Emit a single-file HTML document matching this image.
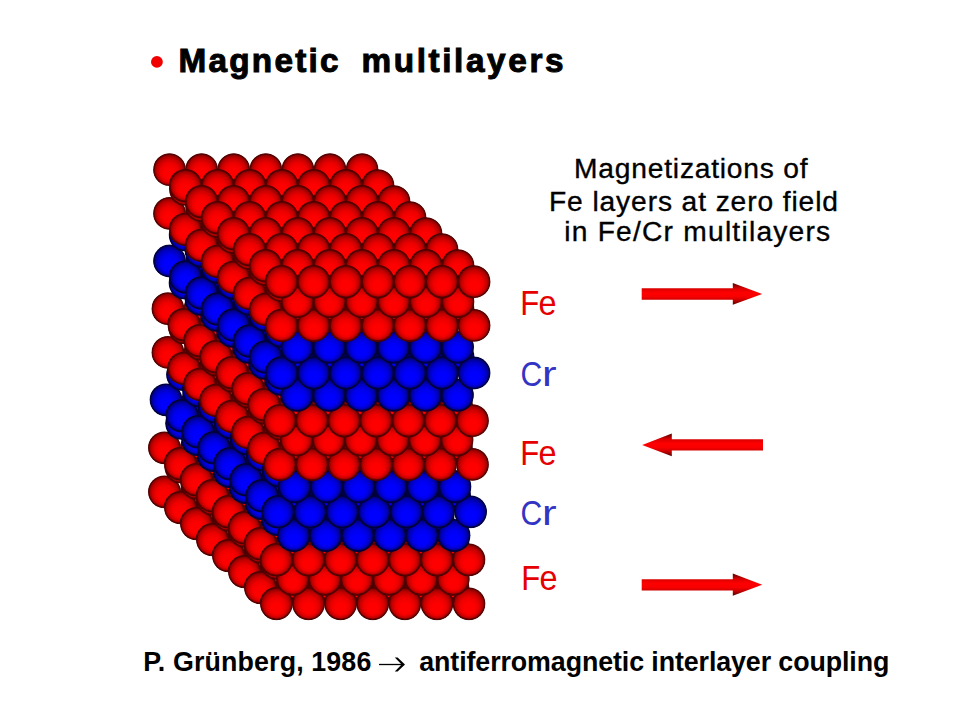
<!DOCTYPE html>
<html><head><meta charset="utf-8">
<style>
html,body{margin:0;padding:0;background:#fff;}
body{width:960px;height:720px;overflow:hidden;position:relative;}
svg{position:absolute;left:0;top:0;}
</style></head><body>
<svg width="960" height="720" viewBox="0 0 960 720">
<defs>
<radialGradient id="gr" cx="0.5" cy="0.5" r="0.5" fx="0.5" fy="0.7">
<stop offset="0" stop-color="#ff0000"/>
<stop offset="0.3" stop-color="#ff0000"/>
<stop offset="0.58" stop-color="#ee0000"/>
<stop offset="0.8" stop-color="#c60000"/>
<stop offset="0.93" stop-color="#980000"/>
<stop offset="1" stop-color="#700000"/>
</radialGradient>
<radialGradient id="gb" cx="0.5" cy="0.5" r="0.5" fx="0.5" fy="0.7">
<stop offset="0" stop-color="#0000ff"/>
<stop offset="0.3" stop-color="#0000ff"/>
<stop offset="0.58" stop-color="#0000ea"/>
<stop offset="0.8" stop-color="#0000bc"/>
<stop offset="0.93" stop-color="#000088"/>
<stop offset="1" stop-color="#000060"/>
</radialGradient>
</defs>
<clipPath id="sil">
<circle cx="164.4" cy="491.8" r="16.40"/>
<circle cx="196.5" cy="491.8" r="16.40"/>
<circle cx="228.6" cy="491.8" r="16.40"/>
<circle cx="260.7" cy="491.8" r="16.40"/>
<circle cx="292.8" cy="491.8" r="16.40"/>
<circle cx="324.9" cy="491.8" r="16.40"/>
<circle cx="357.0" cy="491.8" r="16.40"/>
<circle cx="180.4" cy="507.8" r="16.40"/>
<circle cx="212.5" cy="507.8" r="16.40"/>
<circle cx="244.6" cy="507.8" r="16.40"/>
<circle cx="276.7" cy="507.8" r="16.40"/>
<circle cx="308.8" cy="507.8" r="16.40"/>
<circle cx="340.9" cy="507.8" r="16.40"/>
<circle cx="373.0" cy="507.8" r="16.40"/>
<circle cx="196.4" cy="523.8" r="16.40"/>
<circle cx="228.5" cy="523.8" r="16.40"/>
<circle cx="260.6" cy="523.8" r="16.40"/>
<circle cx="292.7" cy="523.8" r="16.40"/>
<circle cx="324.8" cy="523.8" r="16.40"/>
<circle cx="356.9" cy="523.8" r="16.40"/>
<circle cx="389.0" cy="523.8" r="16.40"/>
<circle cx="212.4" cy="539.8" r="16.40"/>
<circle cx="244.5" cy="539.8" r="16.40"/>
<circle cx="276.6" cy="539.8" r="16.40"/>
<circle cx="308.7" cy="539.8" r="16.40"/>
<circle cx="340.8" cy="539.8" r="16.40"/>
<circle cx="372.9" cy="539.8" r="16.40"/>
<circle cx="405.0" cy="539.8" r="16.40"/>
<circle cx="228.4" cy="555.8" r="16.40"/>
<circle cx="260.5" cy="555.8" r="16.40"/>
<circle cx="292.6" cy="555.8" r="16.40"/>
<circle cx="324.7" cy="555.8" r="16.40"/>
<circle cx="356.8" cy="555.8" r="16.40"/>
<circle cx="388.9" cy="555.8" r="16.40"/>
<circle cx="421.0" cy="555.8" r="16.40"/>
<circle cx="244.4" cy="571.8" r="16.40"/>
<circle cx="276.5" cy="571.8" r="16.40"/>
<circle cx="308.6" cy="571.8" r="16.40"/>
<circle cx="340.7" cy="571.8" r="16.40"/>
<circle cx="372.8" cy="571.8" r="16.40"/>
<circle cx="404.9" cy="571.8" r="16.40"/>
<circle cx="437.0" cy="571.8" r="16.40"/>
<circle cx="260.4" cy="587.8" r="16.40"/>
<circle cx="292.5" cy="587.8" r="16.40"/>
<circle cx="324.6" cy="587.8" r="16.40"/>
<circle cx="356.7" cy="587.8" r="16.40"/>
<circle cx="388.8" cy="587.8" r="16.40"/>
<circle cx="420.9" cy="587.8" r="16.40"/>
<circle cx="453.0" cy="587.8" r="16.40"/>
<circle cx="276.4" cy="603.8" r="16.40"/>
<circle cx="308.5" cy="603.8" r="16.40"/>
<circle cx="340.6" cy="603.8" r="16.40"/>
<circle cx="372.7" cy="603.8" r="16.40"/>
<circle cx="404.8" cy="603.8" r="16.40"/>
<circle cx="436.9" cy="603.8" r="16.40"/>
<circle cx="469.0" cy="603.8" r="16.40"/>
<circle cx="180.8" cy="467.0" r="16.40"/>
<circle cx="212.9" cy="467.0" r="16.40"/>
<circle cx="245.0" cy="467.0" r="16.40"/>
<circle cx="277.1" cy="467.0" r="16.40"/>
<circle cx="309.2" cy="467.0" r="16.40"/>
<circle cx="341.3" cy="467.0" r="16.40"/>
<circle cx="196.8" cy="483.0" r="16.40"/>
<circle cx="228.9" cy="483.0" r="16.40"/>
<circle cx="261.0" cy="483.0" r="16.40"/>
<circle cx="293.1" cy="483.0" r="16.40"/>
<circle cx="325.2" cy="483.0" r="16.40"/>
<circle cx="357.3" cy="483.0" r="16.40"/>
<circle cx="212.8" cy="499.0" r="16.40"/>
<circle cx="244.9" cy="499.0" r="16.40"/>
<circle cx="277.0" cy="499.0" r="16.40"/>
<circle cx="309.1" cy="499.0" r="16.40"/>
<circle cx="341.2" cy="499.0" r="16.40"/>
<circle cx="373.3" cy="499.0" r="16.40"/>
<circle cx="228.8" cy="515.0" r="16.40"/>
<circle cx="260.9" cy="515.0" r="16.40"/>
<circle cx="293.0" cy="515.0" r="16.40"/>
<circle cx="325.1" cy="515.0" r="16.40"/>
<circle cx="357.2" cy="515.0" r="16.40"/>
<circle cx="389.3" cy="515.0" r="16.40"/>
<circle cx="244.8" cy="531.0" r="16.40"/>
<circle cx="276.9" cy="531.0" r="16.40"/>
<circle cx="309.0" cy="531.0" r="16.40"/>
<circle cx="341.1" cy="531.0" r="16.40"/>
<circle cx="373.2" cy="531.0" r="16.40"/>
<circle cx="405.3" cy="531.0" r="16.40"/>
<circle cx="260.8" cy="547.0" r="16.40"/>
<circle cx="292.9" cy="547.0" r="16.40"/>
<circle cx="325.0" cy="547.0" r="16.40"/>
<circle cx="357.1" cy="547.0" r="16.40"/>
<circle cx="389.2" cy="547.0" r="16.40"/>
<circle cx="421.3" cy="547.0" r="16.40"/>
<circle cx="276.8" cy="563.0" r="16.40"/>
<circle cx="308.9" cy="563.0" r="16.40"/>
<circle cx="341.0" cy="563.0" r="16.40"/>
<circle cx="373.1" cy="563.0" r="16.40"/>
<circle cx="405.2" cy="563.0" r="16.40"/>
<circle cx="437.3" cy="563.0" r="16.40"/>
<circle cx="292.8" cy="579.0" r="16.40"/>
<circle cx="324.9" cy="579.0" r="16.40"/>
<circle cx="357.0" cy="579.0" r="16.40"/>
<circle cx="389.1" cy="579.0" r="16.40"/>
<circle cx="421.2" cy="579.0" r="16.40"/>
<circle cx="453.3" cy="579.0" r="16.40"/>
<circle cx="164.4" cy="447.8" r="16.40"/>
<circle cx="196.5" cy="447.8" r="16.40"/>
<circle cx="228.6" cy="447.8" r="16.40"/>
<circle cx="260.7" cy="447.8" r="16.40"/>
<circle cx="292.8" cy="447.8" r="16.40"/>
<circle cx="324.9" cy="447.8" r="16.40"/>
<circle cx="357.0" cy="447.8" r="16.40"/>
<circle cx="180.4" cy="463.8" r="16.40"/>
<circle cx="212.5" cy="463.8" r="16.40"/>
<circle cx="244.6" cy="463.8" r="16.40"/>
<circle cx="276.7" cy="463.8" r="16.40"/>
<circle cx="308.8" cy="463.8" r="16.40"/>
<circle cx="340.9" cy="463.8" r="16.40"/>
<circle cx="373.0" cy="463.8" r="16.40"/>
<circle cx="196.4" cy="479.8" r="16.40"/>
<circle cx="228.5" cy="479.8" r="16.40"/>
<circle cx="260.6" cy="479.8" r="16.40"/>
<circle cx="292.7" cy="479.8" r="16.40"/>
<circle cx="324.8" cy="479.8" r="16.40"/>
<circle cx="356.9" cy="479.8" r="16.40"/>
<circle cx="389.0" cy="479.8" r="16.40"/>
<circle cx="212.4" cy="495.8" r="16.40"/>
<circle cx="244.5" cy="495.8" r="16.40"/>
<circle cx="276.6" cy="495.8" r="16.40"/>
<circle cx="308.7" cy="495.8" r="16.40"/>
<circle cx="340.8" cy="495.8" r="16.40"/>
<circle cx="372.9" cy="495.8" r="16.40"/>
<circle cx="405.0" cy="495.8" r="16.40"/>
<circle cx="228.4" cy="511.8" r="16.40"/>
<circle cx="260.5" cy="511.8" r="16.40"/>
<circle cx="292.6" cy="511.8" r="16.40"/>
<circle cx="324.7" cy="511.8" r="16.40"/>
<circle cx="356.8" cy="511.8" r="16.40"/>
<circle cx="388.9" cy="511.8" r="16.40"/>
<circle cx="421.0" cy="511.8" r="16.40"/>
<circle cx="244.4" cy="527.8" r="16.40"/>
<circle cx="276.5" cy="527.8" r="16.40"/>
<circle cx="308.6" cy="527.8" r="16.40"/>
<circle cx="340.7" cy="527.8" r="16.40"/>
<circle cx="372.8" cy="527.8" r="16.40"/>
<circle cx="404.9" cy="527.8" r="16.40"/>
<circle cx="437.0" cy="527.8" r="16.40"/>
<circle cx="260.4" cy="543.8" r="16.40"/>
<circle cx="292.5" cy="543.8" r="16.40"/>
<circle cx="324.6" cy="543.8" r="16.40"/>
<circle cx="356.7" cy="543.8" r="16.40"/>
<circle cx="388.8" cy="543.8" r="16.40"/>
<circle cx="420.9" cy="543.8" r="16.40"/>
<circle cx="453.0" cy="543.8" r="16.40"/>
<circle cx="276.4" cy="559.8" r="16.40"/>
<circle cx="308.5" cy="559.8" r="16.40"/>
<circle cx="340.6" cy="559.8" r="16.40"/>
<circle cx="372.7" cy="559.8" r="16.40"/>
<circle cx="404.8" cy="559.8" r="16.40"/>
<circle cx="436.9" cy="559.8" r="16.40"/>
<circle cx="469.0" cy="559.8" r="16.40"/>
<circle cx="181.6" cy="423.3" r="16.40"/>
<circle cx="213.7" cy="423.3" r="16.40"/>
<circle cx="245.8" cy="423.3" r="16.40"/>
<circle cx="277.9" cy="423.3" r="16.40"/>
<circle cx="310.0" cy="423.3" r="16.40"/>
<circle cx="342.1" cy="423.3" r="16.40"/>
<circle cx="197.6" cy="439.3" r="16.40"/>
<circle cx="229.7" cy="439.3" r="16.40"/>
<circle cx="261.8" cy="439.3" r="16.40"/>
<circle cx="293.9" cy="439.3" r="16.40"/>
<circle cx="326.0" cy="439.3" r="16.40"/>
<circle cx="358.1" cy="439.3" r="16.40"/>
<circle cx="213.6" cy="455.3" r="16.40"/>
<circle cx="245.7" cy="455.3" r="16.40"/>
<circle cx="277.8" cy="455.3" r="16.40"/>
<circle cx="309.9" cy="455.3" r="16.40"/>
<circle cx="342.0" cy="455.3" r="16.40"/>
<circle cx="374.1" cy="455.3" r="16.40"/>
<circle cx="229.6" cy="471.3" r="16.40"/>
<circle cx="261.7" cy="471.3" r="16.40"/>
<circle cx="293.8" cy="471.3" r="16.40"/>
<circle cx="325.9" cy="471.3" r="16.40"/>
<circle cx="358.0" cy="471.3" r="16.40"/>
<circle cx="390.1" cy="471.3" r="16.40"/>
<circle cx="245.6" cy="487.3" r="16.40"/>
<circle cx="277.7" cy="487.3" r="16.40"/>
<circle cx="309.8" cy="487.3" r="16.40"/>
<circle cx="341.9" cy="487.3" r="16.40"/>
<circle cx="374.0" cy="487.3" r="16.40"/>
<circle cx="406.1" cy="487.3" r="16.40"/>
<circle cx="261.6" cy="503.3" r="16.40"/>
<circle cx="293.7" cy="503.3" r="16.40"/>
<circle cx="325.8" cy="503.3" r="16.40"/>
<circle cx="357.9" cy="503.3" r="16.40"/>
<circle cx="390.0" cy="503.3" r="16.40"/>
<circle cx="422.1" cy="503.3" r="16.40"/>
<circle cx="277.6" cy="519.3" r="16.40"/>
<circle cx="309.7" cy="519.3" r="16.40"/>
<circle cx="341.8" cy="519.3" r="16.40"/>
<circle cx="373.9" cy="519.3" r="16.40"/>
<circle cx="406.0" cy="519.3" r="16.40"/>
<circle cx="438.1" cy="519.3" r="16.40"/>
<circle cx="293.6" cy="535.3" r="16.40"/>
<circle cx="325.7" cy="535.3" r="16.40"/>
<circle cx="357.8" cy="535.3" r="16.40"/>
<circle cx="389.9" cy="535.3" r="16.40"/>
<circle cx="422.0" cy="535.3" r="16.40"/>
<circle cx="454.1" cy="535.3" r="16.40"/>
<circle cx="166.0" cy="399.8" r="16.40"/>
<circle cx="198.1" cy="399.8" r="16.40"/>
<circle cx="230.2" cy="399.8" r="16.40"/>
<circle cx="262.3" cy="399.8" r="16.40"/>
<circle cx="294.4" cy="399.8" r="16.40"/>
<circle cx="326.5" cy="399.8" r="16.40"/>
<circle cx="358.6" cy="399.8" r="16.40"/>
<circle cx="182.0" cy="415.8" r="16.40"/>
<circle cx="214.1" cy="415.8" r="16.40"/>
<circle cx="246.2" cy="415.8" r="16.40"/>
<circle cx="278.3" cy="415.8" r="16.40"/>
<circle cx="310.4" cy="415.8" r="16.40"/>
<circle cx="342.5" cy="415.8" r="16.40"/>
<circle cx="374.6" cy="415.8" r="16.40"/>
<circle cx="198.0" cy="431.8" r="16.40"/>
<circle cx="230.1" cy="431.8" r="16.40"/>
<circle cx="262.2" cy="431.8" r="16.40"/>
<circle cx="294.3" cy="431.8" r="16.40"/>
<circle cx="326.4" cy="431.8" r="16.40"/>
<circle cx="358.5" cy="431.8" r="16.40"/>
<circle cx="390.6" cy="431.8" r="16.40"/>
<circle cx="214.0" cy="447.8" r="16.40"/>
<circle cx="246.1" cy="447.8" r="16.40"/>
<circle cx="278.2" cy="447.8" r="16.40"/>
<circle cx="310.3" cy="447.8" r="16.40"/>
<circle cx="342.4" cy="447.8" r="16.40"/>
<circle cx="374.5" cy="447.8" r="16.40"/>
<circle cx="406.6" cy="447.8" r="16.40"/>
<circle cx="230.0" cy="463.8" r="16.40"/>
<circle cx="262.1" cy="463.8" r="16.40"/>
<circle cx="294.2" cy="463.8" r="16.40"/>
<circle cx="326.3" cy="463.8" r="16.40"/>
<circle cx="358.4" cy="463.8" r="16.40"/>
<circle cx="390.5" cy="463.8" r="16.40"/>
<circle cx="422.6" cy="463.8" r="16.40"/>
<circle cx="246.0" cy="479.8" r="16.40"/>
<circle cx="278.1" cy="479.8" r="16.40"/>
<circle cx="310.2" cy="479.8" r="16.40"/>
<circle cx="342.3" cy="479.8" r="16.40"/>
<circle cx="374.4" cy="479.8" r="16.40"/>
<circle cx="406.5" cy="479.8" r="16.40"/>
<circle cx="438.6" cy="479.8" r="16.40"/>
<circle cx="262.0" cy="495.8" r="16.40"/>
<circle cx="294.1" cy="495.8" r="16.40"/>
<circle cx="326.2" cy="495.8" r="16.40"/>
<circle cx="358.3" cy="495.8" r="16.40"/>
<circle cx="390.4" cy="495.8" r="16.40"/>
<circle cx="422.5" cy="495.8" r="16.40"/>
<circle cx="454.6" cy="495.8" r="16.40"/>
<circle cx="278.0" cy="511.8" r="16.40"/>
<circle cx="310.1" cy="511.8" r="16.40"/>
<circle cx="342.2" cy="511.8" r="16.40"/>
<circle cx="374.3" cy="511.8" r="16.40"/>
<circle cx="406.4" cy="511.8" r="16.40"/>
<circle cx="438.5" cy="511.8" r="16.40"/>
<circle cx="470.6" cy="511.8" r="16.40"/>
<circle cx="182.5" cy="374.5" r="16.40"/>
<circle cx="214.6" cy="374.5" r="16.40"/>
<circle cx="246.7" cy="374.5" r="16.40"/>
<circle cx="278.8" cy="374.5" r="16.40"/>
<circle cx="310.9" cy="374.5" r="16.40"/>
<circle cx="343.0" cy="374.5" r="16.40"/>
<circle cx="198.5" cy="390.5" r="16.40"/>
<circle cx="230.6" cy="390.5" r="16.40"/>
<circle cx="262.7" cy="390.5" r="16.40"/>
<circle cx="294.8" cy="390.5" r="16.40"/>
<circle cx="326.9" cy="390.5" r="16.40"/>
<circle cx="359.0" cy="390.5" r="16.40"/>
<circle cx="214.5" cy="406.5" r="16.40"/>
<circle cx="246.6" cy="406.5" r="16.40"/>
<circle cx="278.7" cy="406.5" r="16.40"/>
<circle cx="310.8" cy="406.5" r="16.40"/>
<circle cx="342.9" cy="406.5" r="16.40"/>
<circle cx="375.0" cy="406.5" r="16.40"/>
<circle cx="230.5" cy="422.5" r="16.40"/>
<circle cx="262.6" cy="422.5" r="16.40"/>
<circle cx="294.7" cy="422.5" r="16.40"/>
<circle cx="326.8" cy="422.5" r="16.40"/>
<circle cx="358.9" cy="422.5" r="16.40"/>
<circle cx="391.0" cy="422.5" r="16.40"/>
<circle cx="246.5" cy="438.5" r="16.40"/>
<circle cx="278.6" cy="438.5" r="16.40"/>
<circle cx="310.7" cy="438.5" r="16.40"/>
<circle cx="342.8" cy="438.5" r="16.40"/>
<circle cx="374.9" cy="438.5" r="16.40"/>
<circle cx="407.0" cy="438.5" r="16.40"/>
<circle cx="262.5" cy="454.5" r="16.40"/>
<circle cx="294.6" cy="454.5" r="16.40"/>
<circle cx="326.7" cy="454.5" r="16.40"/>
<circle cx="358.8" cy="454.5" r="16.40"/>
<circle cx="390.9" cy="454.5" r="16.40"/>
<circle cx="423.0" cy="454.5" r="16.40"/>
<circle cx="278.5" cy="470.5" r="16.40"/>
<circle cx="310.6" cy="470.5" r="16.40"/>
<circle cx="342.7" cy="470.5" r="16.40"/>
<circle cx="374.8" cy="470.5" r="16.40"/>
<circle cx="406.9" cy="470.5" r="16.40"/>
<circle cx="439.0" cy="470.5" r="16.40"/>
<circle cx="294.5" cy="486.5" r="16.40"/>
<circle cx="326.6" cy="486.5" r="16.40"/>
<circle cx="358.7" cy="486.5" r="16.40"/>
<circle cx="390.8" cy="486.5" r="16.40"/>
<circle cx="422.9" cy="486.5" r="16.40"/>
<circle cx="455.0" cy="486.5" r="16.40"/>
<circle cx="167.9" cy="352.4" r="16.40"/>
<circle cx="200.0" cy="352.4" r="16.40"/>
<circle cx="232.1" cy="352.4" r="16.40"/>
<circle cx="264.2" cy="352.4" r="16.40"/>
<circle cx="296.3" cy="352.4" r="16.40"/>
<circle cx="328.4" cy="352.4" r="16.40"/>
<circle cx="360.5" cy="352.4" r="16.40"/>
<circle cx="183.9" cy="368.4" r="16.40"/>
<circle cx="216.0" cy="368.4" r="16.40"/>
<circle cx="248.1" cy="368.4" r="16.40"/>
<circle cx="280.2" cy="368.4" r="16.40"/>
<circle cx="312.3" cy="368.4" r="16.40"/>
<circle cx="344.4" cy="368.4" r="16.40"/>
<circle cx="376.5" cy="368.4" r="16.40"/>
<circle cx="199.9" cy="384.4" r="16.40"/>
<circle cx="232.0" cy="384.4" r="16.40"/>
<circle cx="264.1" cy="384.4" r="16.40"/>
<circle cx="296.2" cy="384.4" r="16.40"/>
<circle cx="328.3" cy="384.4" r="16.40"/>
<circle cx="360.4" cy="384.4" r="16.40"/>
<circle cx="392.5" cy="384.4" r="16.40"/>
<circle cx="215.9" cy="400.4" r="16.40"/>
<circle cx="248.0" cy="400.4" r="16.40"/>
<circle cx="280.1" cy="400.4" r="16.40"/>
<circle cx="312.2" cy="400.4" r="16.40"/>
<circle cx="344.3" cy="400.4" r="16.40"/>
<circle cx="376.4" cy="400.4" r="16.40"/>
<circle cx="408.5" cy="400.4" r="16.40"/>
<circle cx="231.9" cy="416.4" r="16.40"/>
<circle cx="264.0" cy="416.4" r="16.40"/>
<circle cx="296.1" cy="416.4" r="16.40"/>
<circle cx="328.2" cy="416.4" r="16.40"/>
<circle cx="360.3" cy="416.4" r="16.40"/>
<circle cx="392.4" cy="416.4" r="16.40"/>
<circle cx="424.5" cy="416.4" r="16.40"/>
<circle cx="247.9" cy="432.4" r="16.40"/>
<circle cx="280.0" cy="432.4" r="16.40"/>
<circle cx="312.1" cy="432.4" r="16.40"/>
<circle cx="344.2" cy="432.4" r="16.40"/>
<circle cx="376.3" cy="432.4" r="16.40"/>
<circle cx="408.4" cy="432.4" r="16.40"/>
<circle cx="440.5" cy="432.4" r="16.40"/>
<circle cx="263.9" cy="448.4" r="16.40"/>
<circle cx="296.0" cy="448.4" r="16.40"/>
<circle cx="328.1" cy="448.4" r="16.40"/>
<circle cx="360.2" cy="448.4" r="16.40"/>
<circle cx="392.3" cy="448.4" r="16.40"/>
<circle cx="424.4" cy="448.4" r="16.40"/>
<circle cx="456.5" cy="448.4" r="16.40"/>
<circle cx="279.9" cy="464.4" r="16.40"/>
<circle cx="312.0" cy="464.4" r="16.40"/>
<circle cx="344.1" cy="464.4" r="16.40"/>
<circle cx="376.2" cy="464.4" r="16.40"/>
<circle cx="408.3" cy="464.4" r="16.40"/>
<circle cx="440.4" cy="464.4" r="16.40"/>
<circle cx="472.5" cy="464.4" r="16.40"/>
<circle cx="184.6" cy="327.8" r="16.40"/>
<circle cx="216.7" cy="327.8" r="16.40"/>
<circle cx="248.8" cy="327.8" r="16.40"/>
<circle cx="280.9" cy="327.8" r="16.40"/>
<circle cx="313.0" cy="327.8" r="16.40"/>
<circle cx="345.1" cy="327.8" r="16.40"/>
<circle cx="200.6" cy="343.8" r="16.40"/>
<circle cx="232.7" cy="343.8" r="16.40"/>
<circle cx="264.8" cy="343.8" r="16.40"/>
<circle cx="296.9" cy="343.8" r="16.40"/>
<circle cx="329.0" cy="343.8" r="16.40"/>
<circle cx="361.1" cy="343.8" r="16.40"/>
<circle cx="216.6" cy="359.8" r="16.40"/>
<circle cx="248.7" cy="359.8" r="16.40"/>
<circle cx="280.8" cy="359.8" r="16.40"/>
<circle cx="312.9" cy="359.8" r="16.40"/>
<circle cx="345.0" cy="359.8" r="16.40"/>
<circle cx="377.1" cy="359.8" r="16.40"/>
<circle cx="232.6" cy="375.8" r="16.40"/>
<circle cx="264.7" cy="375.8" r="16.40"/>
<circle cx="296.8" cy="375.8" r="16.40"/>
<circle cx="328.9" cy="375.8" r="16.40"/>
<circle cx="361.0" cy="375.8" r="16.40"/>
<circle cx="393.1" cy="375.8" r="16.40"/>
<circle cx="248.6" cy="391.8" r="16.40"/>
<circle cx="280.7" cy="391.8" r="16.40"/>
<circle cx="312.8" cy="391.8" r="16.40"/>
<circle cx="344.9" cy="391.8" r="16.40"/>
<circle cx="377.0" cy="391.8" r="16.40"/>
<circle cx="409.1" cy="391.8" r="16.40"/>
<circle cx="264.6" cy="407.8" r="16.40"/>
<circle cx="296.7" cy="407.8" r="16.40"/>
<circle cx="328.8" cy="407.8" r="16.40"/>
<circle cx="360.9" cy="407.8" r="16.40"/>
<circle cx="393.0" cy="407.8" r="16.40"/>
<circle cx="425.1" cy="407.8" r="16.40"/>
<circle cx="280.6" cy="423.8" r="16.40"/>
<circle cx="312.7" cy="423.8" r="16.40"/>
<circle cx="344.8" cy="423.8" r="16.40"/>
<circle cx="376.9" cy="423.8" r="16.40"/>
<circle cx="409.0" cy="423.8" r="16.40"/>
<circle cx="441.1" cy="423.8" r="16.40"/>
<circle cx="296.6" cy="439.8" r="16.40"/>
<circle cx="328.7" cy="439.8" r="16.40"/>
<circle cx="360.8" cy="439.8" r="16.40"/>
<circle cx="392.9" cy="439.8" r="16.40"/>
<circle cx="425.0" cy="439.8" r="16.40"/>
<circle cx="457.1" cy="439.8" r="16.40"/>
<circle cx="167.9" cy="308.7" r="16.40"/>
<circle cx="200.0" cy="308.7" r="16.40"/>
<circle cx="232.1" cy="308.7" r="16.40"/>
<circle cx="264.2" cy="308.7" r="16.40"/>
<circle cx="296.3" cy="308.7" r="16.40"/>
<circle cx="328.4" cy="308.7" r="16.40"/>
<circle cx="360.5" cy="308.7" r="16.40"/>
<circle cx="183.9" cy="324.7" r="16.40"/>
<circle cx="216.0" cy="324.7" r="16.40"/>
<circle cx="248.1" cy="324.7" r="16.40"/>
<circle cx="280.2" cy="324.7" r="16.40"/>
<circle cx="312.3" cy="324.7" r="16.40"/>
<circle cx="344.4" cy="324.7" r="16.40"/>
<circle cx="376.5" cy="324.7" r="16.40"/>
<circle cx="199.9" cy="340.7" r="16.40"/>
<circle cx="232.0" cy="340.7" r="16.40"/>
<circle cx="264.1" cy="340.7" r="16.40"/>
<circle cx="296.2" cy="340.7" r="16.40"/>
<circle cx="328.3" cy="340.7" r="16.40"/>
<circle cx="360.4" cy="340.7" r="16.40"/>
<circle cx="392.5" cy="340.7" r="16.40"/>
<circle cx="215.9" cy="356.7" r="16.40"/>
<circle cx="248.0" cy="356.7" r="16.40"/>
<circle cx="280.1" cy="356.7" r="16.40"/>
<circle cx="312.2" cy="356.7" r="16.40"/>
<circle cx="344.3" cy="356.7" r="16.40"/>
<circle cx="376.4" cy="356.7" r="16.40"/>
<circle cx="408.5" cy="356.7" r="16.40"/>
<circle cx="231.9" cy="372.7" r="16.40"/>
<circle cx="264.0" cy="372.7" r="16.40"/>
<circle cx="296.1" cy="372.7" r="16.40"/>
<circle cx="328.2" cy="372.7" r="16.40"/>
<circle cx="360.3" cy="372.7" r="16.40"/>
<circle cx="392.4" cy="372.7" r="16.40"/>
<circle cx="424.5" cy="372.7" r="16.40"/>
<circle cx="247.9" cy="388.7" r="16.40"/>
<circle cx="280.0" cy="388.7" r="16.40"/>
<circle cx="312.1" cy="388.7" r="16.40"/>
<circle cx="344.2" cy="388.7" r="16.40"/>
<circle cx="376.3" cy="388.7" r="16.40"/>
<circle cx="408.4" cy="388.7" r="16.40"/>
<circle cx="440.5" cy="388.7" r="16.40"/>
<circle cx="263.9" cy="404.7" r="16.40"/>
<circle cx="296.0" cy="404.7" r="16.40"/>
<circle cx="328.1" cy="404.7" r="16.40"/>
<circle cx="360.2" cy="404.7" r="16.40"/>
<circle cx="392.3" cy="404.7" r="16.40"/>
<circle cx="424.4" cy="404.7" r="16.40"/>
<circle cx="456.5" cy="404.7" r="16.40"/>
<circle cx="279.9" cy="420.7" r="16.40"/>
<circle cx="312.0" cy="420.7" r="16.40"/>
<circle cx="344.1" cy="420.7" r="16.40"/>
<circle cx="376.2" cy="420.7" r="16.40"/>
<circle cx="408.3" cy="420.7" r="16.40"/>
<circle cx="440.4" cy="420.7" r="16.40"/>
<circle cx="472.5" cy="420.7" r="16.40"/>
<circle cx="185.0" cy="283.1" r="16.40"/>
<circle cx="217.1" cy="283.1" r="16.40"/>
<circle cx="249.2" cy="283.1" r="16.40"/>
<circle cx="281.3" cy="283.1" r="16.40"/>
<circle cx="313.4" cy="283.1" r="16.40"/>
<circle cx="345.5" cy="283.1" r="16.40"/>
<circle cx="201.0" cy="299.1" r="16.40"/>
<circle cx="233.1" cy="299.1" r="16.40"/>
<circle cx="265.2" cy="299.1" r="16.40"/>
<circle cx="297.3" cy="299.1" r="16.40"/>
<circle cx="329.4" cy="299.1" r="16.40"/>
<circle cx="361.5" cy="299.1" r="16.40"/>
<circle cx="217.0" cy="315.1" r="16.40"/>
<circle cx="249.1" cy="315.1" r="16.40"/>
<circle cx="281.2" cy="315.1" r="16.40"/>
<circle cx="313.3" cy="315.1" r="16.40"/>
<circle cx="345.4" cy="315.1" r="16.40"/>
<circle cx="377.5" cy="315.1" r="16.40"/>
<circle cx="233.0" cy="331.1" r="16.40"/>
<circle cx="265.1" cy="331.1" r="16.40"/>
<circle cx="297.2" cy="331.1" r="16.40"/>
<circle cx="329.3" cy="331.1" r="16.40"/>
<circle cx="361.4" cy="331.1" r="16.40"/>
<circle cx="393.5" cy="331.1" r="16.40"/>
<circle cx="249.0" cy="347.1" r="16.40"/>
<circle cx="281.1" cy="347.1" r="16.40"/>
<circle cx="313.2" cy="347.1" r="16.40"/>
<circle cx="345.3" cy="347.1" r="16.40"/>
<circle cx="377.4" cy="347.1" r="16.40"/>
<circle cx="409.5" cy="347.1" r="16.40"/>
<circle cx="265.0" cy="363.1" r="16.40"/>
<circle cx="297.1" cy="363.1" r="16.40"/>
<circle cx="329.2" cy="363.1" r="16.40"/>
<circle cx="361.3" cy="363.1" r="16.40"/>
<circle cx="393.4" cy="363.1" r="16.40"/>
<circle cx="425.5" cy="363.1" r="16.40"/>
<circle cx="281.0" cy="379.1" r="16.40"/>
<circle cx="313.1" cy="379.1" r="16.40"/>
<circle cx="345.2" cy="379.1" r="16.40"/>
<circle cx="377.3" cy="379.1" r="16.40"/>
<circle cx="409.4" cy="379.1" r="16.40"/>
<circle cx="441.5" cy="379.1" r="16.40"/>
<circle cx="297.0" cy="395.1" r="16.40"/>
<circle cx="329.1" cy="395.1" r="16.40"/>
<circle cx="361.2" cy="395.1" r="16.40"/>
<circle cx="393.3" cy="395.1" r="16.40"/>
<circle cx="425.4" cy="395.1" r="16.40"/>
<circle cx="457.5" cy="395.1" r="16.40"/>
<circle cx="169.5" cy="261.0" r="16.40"/>
<circle cx="201.6" cy="261.0" r="16.40"/>
<circle cx="233.7" cy="261.0" r="16.40"/>
<circle cx="265.8" cy="261.0" r="16.40"/>
<circle cx="297.9" cy="261.0" r="16.40"/>
<circle cx="330.0" cy="261.0" r="16.40"/>
<circle cx="362.1" cy="261.0" r="16.40"/>
<circle cx="185.5" cy="277.0" r="16.40"/>
<circle cx="217.6" cy="277.0" r="16.40"/>
<circle cx="249.7" cy="277.0" r="16.40"/>
<circle cx="281.8" cy="277.0" r="16.40"/>
<circle cx="313.9" cy="277.0" r="16.40"/>
<circle cx="346.0" cy="277.0" r="16.40"/>
<circle cx="378.1" cy="277.0" r="16.40"/>
<circle cx="201.5" cy="293.0" r="16.40"/>
<circle cx="233.6" cy="293.0" r="16.40"/>
<circle cx="265.7" cy="293.0" r="16.40"/>
<circle cx="297.8" cy="293.0" r="16.40"/>
<circle cx="329.9" cy="293.0" r="16.40"/>
<circle cx="362.0" cy="293.0" r="16.40"/>
<circle cx="394.1" cy="293.0" r="16.40"/>
<circle cx="217.5" cy="309.0" r="16.40"/>
<circle cx="249.6" cy="309.0" r="16.40"/>
<circle cx="281.7" cy="309.0" r="16.40"/>
<circle cx="313.8" cy="309.0" r="16.40"/>
<circle cx="345.9" cy="309.0" r="16.40"/>
<circle cx="378.0" cy="309.0" r="16.40"/>
<circle cx="410.1" cy="309.0" r="16.40"/>
<circle cx="233.5" cy="325.0" r="16.40"/>
<circle cx="265.6" cy="325.0" r="16.40"/>
<circle cx="297.7" cy="325.0" r="16.40"/>
<circle cx="329.8" cy="325.0" r="16.40"/>
<circle cx="361.9" cy="325.0" r="16.40"/>
<circle cx="394.0" cy="325.0" r="16.40"/>
<circle cx="426.1" cy="325.0" r="16.40"/>
<circle cx="249.5" cy="341.0" r="16.40"/>
<circle cx="281.6" cy="341.0" r="16.40"/>
<circle cx="313.7" cy="341.0" r="16.40"/>
<circle cx="345.8" cy="341.0" r="16.40"/>
<circle cx="377.9" cy="341.0" r="16.40"/>
<circle cx="410.0" cy="341.0" r="16.40"/>
<circle cx="442.1" cy="341.0" r="16.40"/>
<circle cx="265.5" cy="357.0" r="16.40"/>
<circle cx="297.6" cy="357.0" r="16.40"/>
<circle cx="329.7" cy="357.0" r="16.40"/>
<circle cx="361.8" cy="357.0" r="16.40"/>
<circle cx="393.9" cy="357.0" r="16.40"/>
<circle cx="426.0" cy="357.0" r="16.40"/>
<circle cx="458.1" cy="357.0" r="16.40"/>
<circle cx="281.5" cy="373.0" r="16.40"/>
<circle cx="313.6" cy="373.0" r="16.40"/>
<circle cx="345.7" cy="373.0" r="16.40"/>
<circle cx="377.8" cy="373.0" r="16.40"/>
<circle cx="409.9" cy="373.0" r="16.40"/>
<circle cx="442.0" cy="373.0" r="16.40"/>
<circle cx="474.1" cy="373.0" r="16.40"/>
<circle cx="185.1" cy="235.0" r="16.40"/>
<circle cx="217.2" cy="235.0" r="16.40"/>
<circle cx="249.3" cy="235.0" r="16.40"/>
<circle cx="281.4" cy="235.0" r="16.40"/>
<circle cx="313.5" cy="235.0" r="16.40"/>
<circle cx="345.6" cy="235.0" r="16.40"/>
<circle cx="201.1" cy="251.0" r="16.40"/>
<circle cx="233.2" cy="251.0" r="16.40"/>
<circle cx="265.3" cy="251.0" r="16.40"/>
<circle cx="297.4" cy="251.0" r="16.40"/>
<circle cx="329.5" cy="251.0" r="16.40"/>
<circle cx="361.6" cy="251.0" r="16.40"/>
<circle cx="217.1" cy="267.0" r="16.40"/>
<circle cx="249.2" cy="267.0" r="16.40"/>
<circle cx="281.3" cy="267.0" r="16.40"/>
<circle cx="313.4" cy="267.0" r="16.40"/>
<circle cx="345.5" cy="267.0" r="16.40"/>
<circle cx="377.6" cy="267.0" r="16.40"/>
<circle cx="233.1" cy="283.0" r="16.40"/>
<circle cx="265.2" cy="283.0" r="16.40"/>
<circle cx="297.3" cy="283.0" r="16.40"/>
<circle cx="329.4" cy="283.0" r="16.40"/>
<circle cx="361.5" cy="283.0" r="16.40"/>
<circle cx="393.6" cy="283.0" r="16.40"/>
<circle cx="249.1" cy="299.0" r="16.40"/>
<circle cx="281.2" cy="299.0" r="16.40"/>
<circle cx="313.3" cy="299.0" r="16.40"/>
<circle cx="345.4" cy="299.0" r="16.40"/>
<circle cx="377.5" cy="299.0" r="16.40"/>
<circle cx="409.6" cy="299.0" r="16.40"/>
<circle cx="265.1" cy="315.0" r="16.40"/>
<circle cx="297.2" cy="315.0" r="16.40"/>
<circle cx="329.3" cy="315.0" r="16.40"/>
<circle cx="361.4" cy="315.0" r="16.40"/>
<circle cx="393.5" cy="315.0" r="16.40"/>
<circle cx="425.6" cy="315.0" r="16.40"/>
<circle cx="281.1" cy="331.0" r="16.40"/>
<circle cx="313.2" cy="331.0" r="16.40"/>
<circle cx="345.3" cy="331.0" r="16.40"/>
<circle cx="377.4" cy="331.0" r="16.40"/>
<circle cx="409.5" cy="331.0" r="16.40"/>
<circle cx="441.6" cy="331.0" r="16.40"/>
<circle cx="297.1" cy="347.0" r="16.40"/>
<circle cx="329.2" cy="347.0" r="16.40"/>
<circle cx="361.3" cy="347.0" r="16.40"/>
<circle cx="393.4" cy="347.0" r="16.40"/>
<circle cx="425.5" cy="347.0" r="16.40"/>
<circle cx="457.6" cy="347.0" r="16.40"/>
<circle cx="169.5" cy="213.4" r="16.40"/>
<circle cx="201.6" cy="213.4" r="16.40"/>
<circle cx="233.7" cy="213.4" r="16.40"/>
<circle cx="265.8" cy="213.4" r="16.40"/>
<circle cx="297.9" cy="213.4" r="16.40"/>
<circle cx="330.0" cy="213.4" r="16.40"/>
<circle cx="362.1" cy="213.4" r="16.40"/>
<circle cx="185.5" cy="229.4" r="16.40"/>
<circle cx="217.6" cy="229.4" r="16.40"/>
<circle cx="249.7" cy="229.4" r="16.40"/>
<circle cx="281.8" cy="229.4" r="16.40"/>
<circle cx="313.9" cy="229.4" r="16.40"/>
<circle cx="346.0" cy="229.4" r="16.40"/>
<circle cx="378.1" cy="229.4" r="16.40"/>
<circle cx="201.5" cy="245.4" r="16.40"/>
<circle cx="233.6" cy="245.4" r="16.40"/>
<circle cx="265.7" cy="245.4" r="16.40"/>
<circle cx="297.8" cy="245.4" r="16.40"/>
<circle cx="329.9" cy="245.4" r="16.40"/>
<circle cx="362.0" cy="245.4" r="16.40"/>
<circle cx="394.1" cy="245.4" r="16.40"/>
<circle cx="217.5" cy="261.4" r="16.40"/>
<circle cx="249.6" cy="261.4" r="16.40"/>
<circle cx="281.7" cy="261.4" r="16.40"/>
<circle cx="313.8" cy="261.4" r="16.40"/>
<circle cx="345.9" cy="261.4" r="16.40"/>
<circle cx="378.0" cy="261.4" r="16.40"/>
<circle cx="410.1" cy="261.4" r="16.40"/>
<circle cx="233.5" cy="277.4" r="16.40"/>
<circle cx="265.6" cy="277.4" r="16.40"/>
<circle cx="297.7" cy="277.4" r="16.40"/>
<circle cx="329.8" cy="277.4" r="16.40"/>
<circle cx="361.9" cy="277.4" r="16.40"/>
<circle cx="394.0" cy="277.4" r="16.40"/>
<circle cx="426.1" cy="277.4" r="16.40"/>
<circle cx="249.5" cy="293.4" r="16.40"/>
<circle cx="281.6" cy="293.4" r="16.40"/>
<circle cx="313.7" cy="293.4" r="16.40"/>
<circle cx="345.8" cy="293.4" r="16.40"/>
<circle cx="377.9" cy="293.4" r="16.40"/>
<circle cx="410.0" cy="293.4" r="16.40"/>
<circle cx="442.1" cy="293.4" r="16.40"/>
<circle cx="265.5" cy="309.4" r="16.40"/>
<circle cx="297.6" cy="309.4" r="16.40"/>
<circle cx="329.7" cy="309.4" r="16.40"/>
<circle cx="361.8" cy="309.4" r="16.40"/>
<circle cx="393.9" cy="309.4" r="16.40"/>
<circle cx="426.0" cy="309.4" r="16.40"/>
<circle cx="458.1" cy="309.4" r="16.40"/>
<circle cx="281.5" cy="325.4" r="16.40"/>
<circle cx="313.6" cy="325.4" r="16.40"/>
<circle cx="345.7" cy="325.4" r="16.40"/>
<circle cx="377.8" cy="325.4" r="16.40"/>
<circle cx="409.9" cy="325.4" r="16.40"/>
<circle cx="442.0" cy="325.4" r="16.40"/>
<circle cx="474.1" cy="325.4" r="16.40"/>
<circle cx="185.5" cy="189.4" r="16.40"/>
<circle cx="217.6" cy="189.4" r="16.40"/>
<circle cx="249.7" cy="189.4" r="16.40"/>
<circle cx="281.8" cy="189.4" r="16.40"/>
<circle cx="313.9" cy="189.4" r="16.40"/>
<circle cx="346.0" cy="189.4" r="16.40"/>
<circle cx="201.5" cy="205.4" r="16.40"/>
<circle cx="233.6" cy="205.4" r="16.40"/>
<circle cx="265.7" cy="205.4" r="16.40"/>
<circle cx="297.8" cy="205.4" r="16.40"/>
<circle cx="329.9" cy="205.4" r="16.40"/>
<circle cx="362.0" cy="205.4" r="16.40"/>
<circle cx="217.5" cy="221.4" r="16.40"/>
<circle cx="249.6" cy="221.4" r="16.40"/>
<circle cx="281.7" cy="221.4" r="16.40"/>
<circle cx="313.8" cy="221.4" r="16.40"/>
<circle cx="345.9" cy="221.4" r="16.40"/>
<circle cx="378.0" cy="221.4" r="16.40"/>
<circle cx="233.5" cy="237.4" r="16.40"/>
<circle cx="265.6" cy="237.4" r="16.40"/>
<circle cx="297.7" cy="237.4" r="16.40"/>
<circle cx="329.8" cy="237.4" r="16.40"/>
<circle cx="361.9" cy="237.4" r="16.40"/>
<circle cx="394.0" cy="237.4" r="16.40"/>
<circle cx="249.5" cy="253.4" r="16.40"/>
<circle cx="281.6" cy="253.4" r="16.40"/>
<circle cx="313.7" cy="253.4" r="16.40"/>
<circle cx="345.8" cy="253.4" r="16.40"/>
<circle cx="377.9" cy="253.4" r="16.40"/>
<circle cx="410.0" cy="253.4" r="16.40"/>
<circle cx="265.5" cy="269.4" r="16.40"/>
<circle cx="297.6" cy="269.4" r="16.40"/>
<circle cx="329.7" cy="269.4" r="16.40"/>
<circle cx="361.8" cy="269.4" r="16.40"/>
<circle cx="393.9" cy="269.4" r="16.40"/>
<circle cx="426.0" cy="269.4" r="16.40"/>
<circle cx="281.5" cy="285.4" r="16.40"/>
<circle cx="313.6" cy="285.4" r="16.40"/>
<circle cx="345.7" cy="285.4" r="16.40"/>
<circle cx="377.8" cy="285.4" r="16.40"/>
<circle cx="409.9" cy="285.4" r="16.40"/>
<circle cx="442.0" cy="285.4" r="16.40"/>
<circle cx="297.5" cy="301.4" r="16.40"/>
<circle cx="329.6" cy="301.4" r="16.40"/>
<circle cx="361.7" cy="301.4" r="16.40"/>
<circle cx="393.8" cy="301.4" r="16.40"/>
<circle cx="425.9" cy="301.4" r="16.40"/>
<circle cx="458.0" cy="301.4" r="16.40"/>
<circle cx="169.5" cy="169.7" r="16.40"/>
<circle cx="201.6" cy="169.7" r="16.40"/>
<circle cx="233.7" cy="169.7" r="16.40"/>
<circle cx="265.8" cy="169.7" r="16.40"/>
<circle cx="297.9" cy="169.7" r="16.40"/>
<circle cx="330.0" cy="169.7" r="16.40"/>
<circle cx="362.1" cy="169.7" r="16.40"/>
<circle cx="185.5" cy="185.7" r="16.40"/>
<circle cx="217.6" cy="185.7" r="16.40"/>
<circle cx="249.7" cy="185.7" r="16.40"/>
<circle cx="281.8" cy="185.7" r="16.40"/>
<circle cx="313.9" cy="185.7" r="16.40"/>
<circle cx="346.0" cy="185.7" r="16.40"/>
<circle cx="378.1" cy="185.7" r="16.40"/>
<circle cx="201.5" cy="201.7" r="16.40"/>
<circle cx="233.6" cy="201.7" r="16.40"/>
<circle cx="265.7" cy="201.7" r="16.40"/>
<circle cx="297.8" cy="201.7" r="16.40"/>
<circle cx="329.9" cy="201.7" r="16.40"/>
<circle cx="362.0" cy="201.7" r="16.40"/>
<circle cx="394.1" cy="201.7" r="16.40"/>
<circle cx="217.5" cy="217.7" r="16.40"/>
<circle cx="249.6" cy="217.7" r="16.40"/>
<circle cx="281.7" cy="217.7" r="16.40"/>
<circle cx="313.8" cy="217.7" r="16.40"/>
<circle cx="345.9" cy="217.7" r="16.40"/>
<circle cx="378.0" cy="217.7" r="16.40"/>
<circle cx="410.1" cy="217.7" r="16.40"/>
<circle cx="233.5" cy="233.7" r="16.40"/>
<circle cx="265.6" cy="233.7" r="16.40"/>
<circle cx="297.7" cy="233.7" r="16.40"/>
<circle cx="329.8" cy="233.7" r="16.40"/>
<circle cx="361.9" cy="233.7" r="16.40"/>
<circle cx="394.0" cy="233.7" r="16.40"/>
<circle cx="426.1" cy="233.7" r="16.40"/>
<circle cx="249.5" cy="249.7" r="16.40"/>
<circle cx="281.6" cy="249.7" r="16.40"/>
<circle cx="313.7" cy="249.7" r="16.40"/>
<circle cx="345.8" cy="249.7" r="16.40"/>
<circle cx="377.9" cy="249.7" r="16.40"/>
<circle cx="410.0" cy="249.7" r="16.40"/>
<circle cx="442.1" cy="249.7" r="16.40"/>
<circle cx="265.5" cy="265.7" r="16.40"/>
<circle cx="297.6" cy="265.7" r="16.40"/>
<circle cx="329.7" cy="265.7" r="16.40"/>
<circle cx="361.8" cy="265.7" r="16.40"/>
<circle cx="393.9" cy="265.7" r="16.40"/>
<circle cx="426.0" cy="265.7" r="16.40"/>
<circle cx="458.1" cy="265.7" r="16.40"/>
<circle cx="281.5" cy="281.7" r="16.40"/>
<circle cx="313.6" cy="281.7" r="16.40"/>
<circle cx="345.7" cy="281.7" r="16.40"/>
<circle cx="377.8" cy="281.7" r="16.40"/>
<circle cx="409.9" cy="281.7" r="16.40"/>
<circle cx="442.0" cy="281.7" r="16.40"/>
<circle cx="474.1" cy="281.7" r="16.40"/>
</clipPath>
<g stroke-width="1.0" clip-path="url(#sil)">
<rect x="164.4" y="485.3" width="192.6" height="13.0" fill="#4a0000"/>
<circle cx="164.4" cy="491.8" r="16.75" fill="#4a0000" stroke="none"/>
<circle cx="164.4" cy="491.8" r="15.55" fill="url(#gr)" stroke="#580000"/>
<circle cx="196.5" cy="491.8" r="16.75" fill="#4a0000" stroke="none"/>
<circle cx="196.5" cy="491.8" r="15.55" fill="url(#gr)" stroke="#580000"/>
<circle cx="228.6" cy="491.8" r="16.75" fill="#4a0000" stroke="none"/>
<circle cx="228.6" cy="491.8" r="15.55" fill="url(#gr)" stroke="#580000"/>
<circle cx="260.7" cy="491.8" r="16.75" fill="#4a0000" stroke="none"/>
<circle cx="260.7" cy="491.8" r="15.55" fill="url(#gr)" stroke="#580000"/>
<circle cx="292.8" cy="491.8" r="16.75" fill="#4a0000" stroke="none"/>
<circle cx="292.8" cy="491.8" r="15.55" fill="url(#gr)" stroke="#580000"/>
<circle cx="324.9" cy="491.8" r="16.75" fill="#4a0000" stroke="none"/>
<circle cx="324.9" cy="491.8" r="15.55" fill="url(#gr)" stroke="#580000"/>
<circle cx="357.0" cy="491.8" r="16.75" fill="#4a0000" stroke="none"/>
<circle cx="357.0" cy="491.8" r="15.55" fill="url(#gr)" stroke="#580000"/>
<rect x="180.4" y="501.3" width="192.6" height="13.0" fill="#4a0000"/>
<circle cx="180.4" cy="507.8" r="16.75" fill="#4a0000" stroke="none"/>
<circle cx="180.4" cy="507.8" r="15.55" fill="url(#gr)" stroke="#580000"/>
<circle cx="212.5" cy="507.8" r="16.75" fill="#4a0000" stroke="none"/>
<circle cx="212.5" cy="507.8" r="15.55" fill="url(#gr)" stroke="#580000"/>
<circle cx="244.6" cy="507.8" r="16.75" fill="#4a0000" stroke="none"/>
<circle cx="244.6" cy="507.8" r="15.55" fill="url(#gr)" stroke="#580000"/>
<circle cx="276.7" cy="507.8" r="16.75" fill="#4a0000" stroke="none"/>
<circle cx="276.7" cy="507.8" r="15.55" fill="url(#gr)" stroke="#580000"/>
<circle cx="308.8" cy="507.8" r="16.75" fill="#4a0000" stroke="none"/>
<circle cx="308.8" cy="507.8" r="15.55" fill="url(#gr)" stroke="#580000"/>
<circle cx="340.9" cy="507.8" r="16.75" fill="#4a0000" stroke="none"/>
<circle cx="340.9" cy="507.8" r="15.55" fill="url(#gr)" stroke="#580000"/>
<circle cx="373.0" cy="507.8" r="16.75" fill="#4a0000" stroke="none"/>
<circle cx="373.0" cy="507.8" r="15.55" fill="url(#gr)" stroke="#580000"/>
<rect x="196.4" y="517.3" width="192.6" height="13.0" fill="#4a0000"/>
<circle cx="196.4" cy="523.8" r="16.75" fill="#4a0000" stroke="none"/>
<circle cx="196.4" cy="523.8" r="15.55" fill="url(#gr)" stroke="#580000"/>
<circle cx="228.5" cy="523.8" r="16.75" fill="#4a0000" stroke="none"/>
<circle cx="228.5" cy="523.8" r="15.55" fill="url(#gr)" stroke="#580000"/>
<circle cx="260.6" cy="523.8" r="16.75" fill="#4a0000" stroke="none"/>
<circle cx="260.6" cy="523.8" r="15.55" fill="url(#gr)" stroke="#580000"/>
<circle cx="292.7" cy="523.8" r="16.75" fill="#4a0000" stroke="none"/>
<circle cx="292.7" cy="523.8" r="15.55" fill="url(#gr)" stroke="#580000"/>
<circle cx="324.8" cy="523.8" r="16.75" fill="#4a0000" stroke="none"/>
<circle cx="324.8" cy="523.8" r="15.55" fill="url(#gr)" stroke="#580000"/>
<circle cx="356.9" cy="523.8" r="16.75" fill="#4a0000" stroke="none"/>
<circle cx="356.9" cy="523.8" r="15.55" fill="url(#gr)" stroke="#580000"/>
<circle cx="389.0" cy="523.8" r="16.75" fill="#4a0000" stroke="none"/>
<circle cx="389.0" cy="523.8" r="15.55" fill="url(#gr)" stroke="#580000"/>
<rect x="212.4" y="533.3" width="192.6" height="13.0" fill="#4a0000"/>
<circle cx="212.4" cy="539.8" r="16.75" fill="#4a0000" stroke="none"/>
<circle cx="212.4" cy="539.8" r="15.55" fill="url(#gr)" stroke="#580000"/>
<circle cx="244.5" cy="539.8" r="16.75" fill="#4a0000" stroke="none"/>
<circle cx="244.5" cy="539.8" r="15.55" fill="url(#gr)" stroke="#580000"/>
<circle cx="276.6" cy="539.8" r="16.75" fill="#4a0000" stroke="none"/>
<circle cx="276.6" cy="539.8" r="15.55" fill="url(#gr)" stroke="#580000"/>
<circle cx="308.7" cy="539.8" r="16.75" fill="#4a0000" stroke="none"/>
<circle cx="308.7" cy="539.8" r="15.55" fill="url(#gr)" stroke="#580000"/>
<circle cx="340.8" cy="539.8" r="16.75" fill="#4a0000" stroke="none"/>
<circle cx="340.8" cy="539.8" r="15.55" fill="url(#gr)" stroke="#580000"/>
<circle cx="372.9" cy="539.8" r="16.75" fill="#4a0000" stroke="none"/>
<circle cx="372.9" cy="539.8" r="15.55" fill="url(#gr)" stroke="#580000"/>
<circle cx="405.0" cy="539.8" r="16.75" fill="#4a0000" stroke="none"/>
<circle cx="405.0" cy="539.8" r="15.55" fill="url(#gr)" stroke="#580000"/>
<rect x="228.4" y="549.3" width="192.6" height="13.0" fill="#4a0000"/>
<circle cx="228.4" cy="555.8" r="16.75" fill="#4a0000" stroke="none"/>
<circle cx="228.4" cy="555.8" r="15.55" fill="url(#gr)" stroke="#580000"/>
<circle cx="260.5" cy="555.8" r="16.75" fill="#4a0000" stroke="none"/>
<circle cx="260.5" cy="555.8" r="15.55" fill="url(#gr)" stroke="#580000"/>
<circle cx="292.6" cy="555.8" r="16.75" fill="#4a0000" stroke="none"/>
<circle cx="292.6" cy="555.8" r="15.55" fill="url(#gr)" stroke="#580000"/>
<circle cx="324.7" cy="555.8" r="16.75" fill="#4a0000" stroke="none"/>
<circle cx="324.7" cy="555.8" r="15.55" fill="url(#gr)" stroke="#580000"/>
<circle cx="356.8" cy="555.8" r="16.75" fill="#4a0000" stroke="none"/>
<circle cx="356.8" cy="555.8" r="15.55" fill="url(#gr)" stroke="#580000"/>
<circle cx="388.9" cy="555.8" r="16.75" fill="#4a0000" stroke="none"/>
<circle cx="388.9" cy="555.8" r="15.55" fill="url(#gr)" stroke="#580000"/>
<circle cx="421.0" cy="555.8" r="16.75" fill="#4a0000" stroke="none"/>
<circle cx="421.0" cy="555.8" r="15.55" fill="url(#gr)" stroke="#580000"/>
<rect x="244.4" y="565.3" width="192.6" height="13.0" fill="#4a0000"/>
<circle cx="244.4" cy="571.8" r="16.75" fill="#4a0000" stroke="none"/>
<circle cx="244.4" cy="571.8" r="15.55" fill="url(#gr)" stroke="#580000"/>
<circle cx="276.5" cy="571.8" r="16.75" fill="#4a0000" stroke="none"/>
<circle cx="276.5" cy="571.8" r="15.55" fill="url(#gr)" stroke="#580000"/>
<circle cx="308.6" cy="571.8" r="16.75" fill="#4a0000" stroke="none"/>
<circle cx="308.6" cy="571.8" r="15.55" fill="url(#gr)" stroke="#580000"/>
<circle cx="340.7" cy="571.8" r="16.75" fill="#4a0000" stroke="none"/>
<circle cx="340.7" cy="571.8" r="15.55" fill="url(#gr)" stroke="#580000"/>
<circle cx="372.8" cy="571.8" r="16.75" fill="#4a0000" stroke="none"/>
<circle cx="372.8" cy="571.8" r="15.55" fill="url(#gr)" stroke="#580000"/>
<circle cx="404.9" cy="571.8" r="16.75" fill="#4a0000" stroke="none"/>
<circle cx="404.9" cy="571.8" r="15.55" fill="url(#gr)" stroke="#580000"/>
<circle cx="437.0" cy="571.8" r="16.75" fill="#4a0000" stroke="none"/>
<circle cx="437.0" cy="571.8" r="15.55" fill="url(#gr)" stroke="#580000"/>
<rect x="260.4" y="581.3" width="192.6" height="13.0" fill="#4a0000"/>
<circle cx="260.4" cy="587.8" r="16.75" fill="#4a0000" stroke="none"/>
<circle cx="260.4" cy="587.8" r="15.55" fill="url(#gr)" stroke="#580000"/>
<circle cx="292.5" cy="587.8" r="16.75" fill="#4a0000" stroke="none"/>
<circle cx="292.5" cy="587.8" r="15.55" fill="url(#gr)" stroke="#580000"/>
<circle cx="324.6" cy="587.8" r="16.75" fill="#4a0000" stroke="none"/>
<circle cx="324.6" cy="587.8" r="15.55" fill="url(#gr)" stroke="#580000"/>
<circle cx="356.7" cy="587.8" r="16.75" fill="#4a0000" stroke="none"/>
<circle cx="356.7" cy="587.8" r="15.55" fill="url(#gr)" stroke="#580000"/>
<circle cx="388.8" cy="587.8" r="16.75" fill="#4a0000" stroke="none"/>
<circle cx="388.8" cy="587.8" r="15.55" fill="url(#gr)" stroke="#580000"/>
<circle cx="420.9" cy="587.8" r="16.75" fill="#4a0000" stroke="none"/>
<circle cx="420.9" cy="587.8" r="15.55" fill="url(#gr)" stroke="#580000"/>
<circle cx="453.0" cy="587.8" r="16.75" fill="#4a0000" stroke="none"/>
<circle cx="453.0" cy="587.8" r="15.55" fill="url(#gr)" stroke="#580000"/>
<rect x="276.4" y="597.3" width="192.6" height="13.0" fill="#4a0000"/>
<circle cx="276.4" cy="603.8" r="16.75" fill="#4a0000" stroke="none"/>
<circle cx="276.4" cy="603.8" r="15.55" fill="url(#gr)" stroke="#580000"/>
<circle cx="308.5" cy="603.8" r="16.75" fill="#4a0000" stroke="none"/>
<circle cx="308.5" cy="603.8" r="15.55" fill="url(#gr)" stroke="#580000"/>
<circle cx="340.6" cy="603.8" r="16.75" fill="#4a0000" stroke="none"/>
<circle cx="340.6" cy="603.8" r="15.55" fill="url(#gr)" stroke="#580000"/>
<circle cx="372.7" cy="603.8" r="16.75" fill="#4a0000" stroke="none"/>
<circle cx="372.7" cy="603.8" r="15.55" fill="url(#gr)" stroke="#580000"/>
<circle cx="404.8" cy="603.8" r="16.75" fill="#4a0000" stroke="none"/>
<circle cx="404.8" cy="603.8" r="15.55" fill="url(#gr)" stroke="#580000"/>
<circle cx="436.9" cy="603.8" r="16.75" fill="#4a0000" stroke="none"/>
<circle cx="436.9" cy="603.8" r="15.55" fill="url(#gr)" stroke="#580000"/>
<circle cx="469.0" cy="603.8" r="16.75" fill="#4a0000" stroke="none"/>
<circle cx="469.0" cy="603.8" r="15.55" fill="url(#gr)" stroke="#580000"/>
<rect x="180.8" y="460.5" width="160.5" height="13.0" fill="#4a0000"/>
<circle cx="180.8" cy="467.0" r="16.75" fill="#4a0000" stroke="none"/>
<circle cx="180.8" cy="467.0" r="15.55" fill="url(#gr)" stroke="#580000"/>
<circle cx="212.9" cy="467.0" r="16.75" fill="#4a0000" stroke="none"/>
<circle cx="212.9" cy="467.0" r="15.55" fill="url(#gr)" stroke="#580000"/>
<circle cx="245.0" cy="467.0" r="16.75" fill="#4a0000" stroke="none"/>
<circle cx="245.0" cy="467.0" r="15.55" fill="url(#gr)" stroke="#580000"/>
<circle cx="277.1" cy="467.0" r="16.75" fill="#4a0000" stroke="none"/>
<circle cx="277.1" cy="467.0" r="15.55" fill="url(#gr)" stroke="#580000"/>
<circle cx="309.2" cy="467.0" r="16.75" fill="#4a0000" stroke="none"/>
<circle cx="309.2" cy="467.0" r="15.55" fill="url(#gr)" stroke="#580000"/>
<circle cx="341.3" cy="467.0" r="16.75" fill="#4a0000" stroke="none"/>
<circle cx="341.3" cy="467.0" r="15.55" fill="url(#gr)" stroke="#580000"/>
<rect x="196.8" y="476.5" width="160.5" height="13.0" fill="#4a0000"/>
<circle cx="196.8" cy="483.0" r="16.75" fill="#4a0000" stroke="none"/>
<circle cx="196.8" cy="483.0" r="15.55" fill="url(#gr)" stroke="#580000"/>
<circle cx="228.9" cy="483.0" r="16.75" fill="#4a0000" stroke="none"/>
<circle cx="228.9" cy="483.0" r="15.55" fill="url(#gr)" stroke="#580000"/>
<circle cx="261.0" cy="483.0" r="16.75" fill="#4a0000" stroke="none"/>
<circle cx="261.0" cy="483.0" r="15.55" fill="url(#gr)" stroke="#580000"/>
<circle cx="293.1" cy="483.0" r="16.75" fill="#4a0000" stroke="none"/>
<circle cx="293.1" cy="483.0" r="15.55" fill="url(#gr)" stroke="#580000"/>
<circle cx="325.2" cy="483.0" r="16.75" fill="#4a0000" stroke="none"/>
<circle cx="325.2" cy="483.0" r="15.55" fill="url(#gr)" stroke="#580000"/>
<circle cx="357.3" cy="483.0" r="16.75" fill="#4a0000" stroke="none"/>
<circle cx="357.3" cy="483.0" r="15.55" fill="url(#gr)" stroke="#580000"/>
<rect x="212.8" y="492.5" width="160.5" height="13.0" fill="#4a0000"/>
<circle cx="212.8" cy="499.0" r="16.75" fill="#4a0000" stroke="none"/>
<circle cx="212.8" cy="499.0" r="15.55" fill="url(#gr)" stroke="#580000"/>
<circle cx="244.9" cy="499.0" r="16.75" fill="#4a0000" stroke="none"/>
<circle cx="244.9" cy="499.0" r="15.55" fill="url(#gr)" stroke="#580000"/>
<circle cx="277.0" cy="499.0" r="16.75" fill="#4a0000" stroke="none"/>
<circle cx="277.0" cy="499.0" r="15.55" fill="url(#gr)" stroke="#580000"/>
<circle cx="309.1" cy="499.0" r="16.75" fill="#4a0000" stroke="none"/>
<circle cx="309.1" cy="499.0" r="15.55" fill="url(#gr)" stroke="#580000"/>
<circle cx="341.2" cy="499.0" r="16.75" fill="#4a0000" stroke="none"/>
<circle cx="341.2" cy="499.0" r="15.55" fill="url(#gr)" stroke="#580000"/>
<circle cx="373.3" cy="499.0" r="16.75" fill="#4a0000" stroke="none"/>
<circle cx="373.3" cy="499.0" r="15.55" fill="url(#gr)" stroke="#580000"/>
<rect x="228.8" y="508.5" width="160.5" height="13.0" fill="#4a0000"/>
<circle cx="228.8" cy="515.0" r="16.75" fill="#4a0000" stroke="none"/>
<circle cx="228.8" cy="515.0" r="15.55" fill="url(#gr)" stroke="#580000"/>
<circle cx="260.9" cy="515.0" r="16.75" fill="#4a0000" stroke="none"/>
<circle cx="260.9" cy="515.0" r="15.55" fill="url(#gr)" stroke="#580000"/>
<circle cx="293.0" cy="515.0" r="16.75" fill="#4a0000" stroke="none"/>
<circle cx="293.0" cy="515.0" r="15.55" fill="url(#gr)" stroke="#580000"/>
<circle cx="325.1" cy="515.0" r="16.75" fill="#4a0000" stroke="none"/>
<circle cx="325.1" cy="515.0" r="15.55" fill="url(#gr)" stroke="#580000"/>
<circle cx="357.2" cy="515.0" r="16.75" fill="#4a0000" stroke="none"/>
<circle cx="357.2" cy="515.0" r="15.55" fill="url(#gr)" stroke="#580000"/>
<circle cx="389.3" cy="515.0" r="16.75" fill="#4a0000" stroke="none"/>
<circle cx="389.3" cy="515.0" r="15.55" fill="url(#gr)" stroke="#580000"/>
<rect x="244.8" y="524.5" width="160.5" height="13.0" fill="#4a0000"/>
<circle cx="244.8" cy="531.0" r="16.75" fill="#4a0000" stroke="none"/>
<circle cx="244.8" cy="531.0" r="15.55" fill="url(#gr)" stroke="#580000"/>
<circle cx="276.9" cy="531.0" r="16.75" fill="#4a0000" stroke="none"/>
<circle cx="276.9" cy="531.0" r="15.55" fill="url(#gr)" stroke="#580000"/>
<circle cx="309.0" cy="531.0" r="16.75" fill="#4a0000" stroke="none"/>
<circle cx="309.0" cy="531.0" r="15.55" fill="url(#gr)" stroke="#580000"/>
<circle cx="341.1" cy="531.0" r="16.75" fill="#4a0000" stroke="none"/>
<circle cx="341.1" cy="531.0" r="15.55" fill="url(#gr)" stroke="#580000"/>
<circle cx="373.2" cy="531.0" r="16.75" fill="#4a0000" stroke="none"/>
<circle cx="373.2" cy="531.0" r="15.55" fill="url(#gr)" stroke="#580000"/>
<circle cx="405.3" cy="531.0" r="16.75" fill="#4a0000" stroke="none"/>
<circle cx="405.3" cy="531.0" r="15.55" fill="url(#gr)" stroke="#580000"/>
<rect x="260.8" y="540.5" width="160.5" height="13.0" fill="#4a0000"/>
<circle cx="260.8" cy="547.0" r="16.75" fill="#4a0000" stroke="none"/>
<circle cx="260.8" cy="547.0" r="15.55" fill="url(#gr)" stroke="#580000"/>
<circle cx="292.9" cy="547.0" r="16.75" fill="#4a0000" stroke="none"/>
<circle cx="292.9" cy="547.0" r="15.55" fill="url(#gr)" stroke="#580000"/>
<circle cx="325.0" cy="547.0" r="16.75" fill="#4a0000" stroke="none"/>
<circle cx="325.0" cy="547.0" r="15.55" fill="url(#gr)" stroke="#580000"/>
<circle cx="357.1" cy="547.0" r="16.75" fill="#4a0000" stroke="none"/>
<circle cx="357.1" cy="547.0" r="15.55" fill="url(#gr)" stroke="#580000"/>
<circle cx="389.2" cy="547.0" r="16.75" fill="#4a0000" stroke="none"/>
<circle cx="389.2" cy="547.0" r="15.55" fill="url(#gr)" stroke="#580000"/>
<circle cx="421.3" cy="547.0" r="16.75" fill="#4a0000" stroke="none"/>
<circle cx="421.3" cy="547.0" r="15.55" fill="url(#gr)" stroke="#580000"/>
<rect x="276.8" y="556.5" width="160.5" height="13.0" fill="#4a0000"/>
<circle cx="276.8" cy="563.0" r="16.75" fill="#4a0000" stroke="none"/>
<circle cx="276.8" cy="563.0" r="15.55" fill="url(#gr)" stroke="#580000"/>
<circle cx="308.9" cy="563.0" r="16.75" fill="#4a0000" stroke="none"/>
<circle cx="308.9" cy="563.0" r="15.55" fill="url(#gr)" stroke="#580000"/>
<circle cx="341.0" cy="563.0" r="16.75" fill="#4a0000" stroke="none"/>
<circle cx="341.0" cy="563.0" r="15.55" fill="url(#gr)" stroke="#580000"/>
<circle cx="373.1" cy="563.0" r="16.75" fill="#4a0000" stroke="none"/>
<circle cx="373.1" cy="563.0" r="15.55" fill="url(#gr)" stroke="#580000"/>
<circle cx="405.2" cy="563.0" r="16.75" fill="#4a0000" stroke="none"/>
<circle cx="405.2" cy="563.0" r="15.55" fill="url(#gr)" stroke="#580000"/>
<circle cx="437.3" cy="563.0" r="16.75" fill="#4a0000" stroke="none"/>
<circle cx="437.3" cy="563.0" r="15.55" fill="url(#gr)" stroke="#580000"/>
<rect x="292.8" y="572.5" width="160.5" height="13.0" fill="#4a0000"/>
<circle cx="292.8" cy="579.0" r="16.75" fill="#4a0000" stroke="none"/>
<circle cx="292.8" cy="579.0" r="15.55" fill="url(#gr)" stroke="#580000"/>
<circle cx="324.9" cy="579.0" r="16.75" fill="#4a0000" stroke="none"/>
<circle cx="324.9" cy="579.0" r="15.55" fill="url(#gr)" stroke="#580000"/>
<circle cx="357.0" cy="579.0" r="16.75" fill="#4a0000" stroke="none"/>
<circle cx="357.0" cy="579.0" r="15.55" fill="url(#gr)" stroke="#580000"/>
<circle cx="389.1" cy="579.0" r="16.75" fill="#4a0000" stroke="none"/>
<circle cx="389.1" cy="579.0" r="15.55" fill="url(#gr)" stroke="#580000"/>
<circle cx="421.2" cy="579.0" r="16.75" fill="#4a0000" stroke="none"/>
<circle cx="421.2" cy="579.0" r="15.55" fill="url(#gr)" stroke="#580000"/>
<circle cx="453.3" cy="579.0" r="16.75" fill="#4a0000" stroke="none"/>
<circle cx="453.3" cy="579.0" r="15.55" fill="url(#gr)" stroke="#580000"/>
<rect x="164.4" y="441.3" width="192.6" height="13.0" fill="#4a0000"/>
<circle cx="164.4" cy="447.8" r="16.75" fill="#4a0000" stroke="none"/>
<circle cx="164.4" cy="447.8" r="15.55" fill="url(#gr)" stroke="#580000"/>
<circle cx="196.5" cy="447.8" r="16.75" fill="#4a0000" stroke="none"/>
<circle cx="196.5" cy="447.8" r="15.55" fill="url(#gr)" stroke="#580000"/>
<circle cx="228.6" cy="447.8" r="16.75" fill="#4a0000" stroke="none"/>
<circle cx="228.6" cy="447.8" r="15.55" fill="url(#gr)" stroke="#580000"/>
<circle cx="260.7" cy="447.8" r="16.75" fill="#4a0000" stroke="none"/>
<circle cx="260.7" cy="447.8" r="15.55" fill="url(#gr)" stroke="#580000"/>
<circle cx="292.8" cy="447.8" r="16.75" fill="#4a0000" stroke="none"/>
<circle cx="292.8" cy="447.8" r="15.55" fill="url(#gr)" stroke="#580000"/>
<circle cx="324.9" cy="447.8" r="16.75" fill="#4a0000" stroke="none"/>
<circle cx="324.9" cy="447.8" r="15.55" fill="url(#gr)" stroke="#580000"/>
<circle cx="357.0" cy="447.8" r="16.75" fill="#4a0000" stroke="none"/>
<circle cx="357.0" cy="447.8" r="15.55" fill="url(#gr)" stroke="#580000"/>
<rect x="180.4" y="457.3" width="192.6" height="13.0" fill="#4a0000"/>
<circle cx="180.4" cy="463.8" r="16.75" fill="#4a0000" stroke="none"/>
<circle cx="180.4" cy="463.8" r="15.55" fill="url(#gr)" stroke="#580000"/>
<circle cx="212.5" cy="463.8" r="16.75" fill="#4a0000" stroke="none"/>
<circle cx="212.5" cy="463.8" r="15.55" fill="url(#gr)" stroke="#580000"/>
<circle cx="244.6" cy="463.8" r="16.75" fill="#4a0000" stroke="none"/>
<circle cx="244.6" cy="463.8" r="15.55" fill="url(#gr)" stroke="#580000"/>
<circle cx="276.7" cy="463.8" r="16.75" fill="#4a0000" stroke="none"/>
<circle cx="276.7" cy="463.8" r="15.55" fill="url(#gr)" stroke="#580000"/>
<circle cx="308.8" cy="463.8" r="16.75" fill="#4a0000" stroke="none"/>
<circle cx="308.8" cy="463.8" r="15.55" fill="url(#gr)" stroke="#580000"/>
<circle cx="340.9" cy="463.8" r="16.75" fill="#4a0000" stroke="none"/>
<circle cx="340.9" cy="463.8" r="15.55" fill="url(#gr)" stroke="#580000"/>
<circle cx="373.0" cy="463.8" r="16.75" fill="#4a0000" stroke="none"/>
<circle cx="373.0" cy="463.8" r="15.55" fill="url(#gr)" stroke="#580000"/>
<rect x="196.4" y="473.3" width="192.6" height="13.0" fill="#4a0000"/>
<circle cx="196.4" cy="479.8" r="16.75" fill="#4a0000" stroke="none"/>
<circle cx="196.4" cy="479.8" r="15.55" fill="url(#gr)" stroke="#580000"/>
<circle cx="228.5" cy="479.8" r="16.75" fill="#4a0000" stroke="none"/>
<circle cx="228.5" cy="479.8" r="15.55" fill="url(#gr)" stroke="#580000"/>
<circle cx="260.6" cy="479.8" r="16.75" fill="#4a0000" stroke="none"/>
<circle cx="260.6" cy="479.8" r="15.55" fill="url(#gr)" stroke="#580000"/>
<circle cx="292.7" cy="479.8" r="16.75" fill="#4a0000" stroke="none"/>
<circle cx="292.7" cy="479.8" r="15.55" fill="url(#gr)" stroke="#580000"/>
<circle cx="324.8" cy="479.8" r="16.75" fill="#4a0000" stroke="none"/>
<circle cx="324.8" cy="479.8" r="15.55" fill="url(#gr)" stroke="#580000"/>
<circle cx="356.9" cy="479.8" r="16.75" fill="#4a0000" stroke="none"/>
<circle cx="356.9" cy="479.8" r="15.55" fill="url(#gr)" stroke="#580000"/>
<circle cx="389.0" cy="479.8" r="16.75" fill="#4a0000" stroke="none"/>
<circle cx="389.0" cy="479.8" r="15.55" fill="url(#gr)" stroke="#580000"/>
<rect x="212.4" y="489.3" width="192.6" height="13.0" fill="#4a0000"/>
<circle cx="212.4" cy="495.8" r="16.75" fill="#4a0000" stroke="none"/>
<circle cx="212.4" cy="495.8" r="15.55" fill="url(#gr)" stroke="#580000"/>
<circle cx="244.5" cy="495.8" r="16.75" fill="#4a0000" stroke="none"/>
<circle cx="244.5" cy="495.8" r="15.55" fill="url(#gr)" stroke="#580000"/>
<circle cx="276.6" cy="495.8" r="16.75" fill="#4a0000" stroke="none"/>
<circle cx="276.6" cy="495.8" r="15.55" fill="url(#gr)" stroke="#580000"/>
<circle cx="308.7" cy="495.8" r="16.75" fill="#4a0000" stroke="none"/>
<circle cx="308.7" cy="495.8" r="15.55" fill="url(#gr)" stroke="#580000"/>
<circle cx="340.8" cy="495.8" r="16.75" fill="#4a0000" stroke="none"/>
<circle cx="340.8" cy="495.8" r="15.55" fill="url(#gr)" stroke="#580000"/>
<circle cx="372.9" cy="495.8" r="16.75" fill="#4a0000" stroke="none"/>
<circle cx="372.9" cy="495.8" r="15.55" fill="url(#gr)" stroke="#580000"/>
<circle cx="405.0" cy="495.8" r="16.75" fill="#4a0000" stroke="none"/>
<circle cx="405.0" cy="495.8" r="15.55" fill="url(#gr)" stroke="#580000"/>
<rect x="228.4" y="505.3" width="192.6" height="13.0" fill="#4a0000"/>
<circle cx="228.4" cy="511.8" r="16.75" fill="#4a0000" stroke="none"/>
<circle cx="228.4" cy="511.8" r="15.55" fill="url(#gr)" stroke="#580000"/>
<circle cx="260.5" cy="511.8" r="16.75" fill="#4a0000" stroke="none"/>
<circle cx="260.5" cy="511.8" r="15.55" fill="url(#gr)" stroke="#580000"/>
<circle cx="292.6" cy="511.8" r="16.75" fill="#4a0000" stroke="none"/>
<circle cx="292.6" cy="511.8" r="15.55" fill="url(#gr)" stroke="#580000"/>
<circle cx="324.7" cy="511.8" r="16.75" fill="#4a0000" stroke="none"/>
<circle cx="324.7" cy="511.8" r="15.55" fill="url(#gr)" stroke="#580000"/>
<circle cx="356.8" cy="511.8" r="16.75" fill="#4a0000" stroke="none"/>
<circle cx="356.8" cy="511.8" r="15.55" fill="url(#gr)" stroke="#580000"/>
<circle cx="388.9" cy="511.8" r="16.75" fill="#4a0000" stroke="none"/>
<circle cx="388.9" cy="511.8" r="15.55" fill="url(#gr)" stroke="#580000"/>
<circle cx="421.0" cy="511.8" r="16.75" fill="#4a0000" stroke="none"/>
<circle cx="421.0" cy="511.8" r="15.55" fill="url(#gr)" stroke="#580000"/>
<rect x="244.4" y="521.3" width="192.6" height="13.0" fill="#4a0000"/>
<circle cx="244.4" cy="527.8" r="16.75" fill="#4a0000" stroke="none"/>
<circle cx="244.4" cy="527.8" r="15.55" fill="url(#gr)" stroke="#580000"/>
<circle cx="276.5" cy="527.8" r="16.75" fill="#4a0000" stroke="none"/>
<circle cx="276.5" cy="527.8" r="15.55" fill="url(#gr)" stroke="#580000"/>
<circle cx="308.6" cy="527.8" r="16.75" fill="#4a0000" stroke="none"/>
<circle cx="308.6" cy="527.8" r="15.55" fill="url(#gr)" stroke="#580000"/>
<circle cx="340.7" cy="527.8" r="16.75" fill="#4a0000" stroke="none"/>
<circle cx="340.7" cy="527.8" r="15.55" fill="url(#gr)" stroke="#580000"/>
<circle cx="372.8" cy="527.8" r="16.75" fill="#4a0000" stroke="none"/>
<circle cx="372.8" cy="527.8" r="15.55" fill="url(#gr)" stroke="#580000"/>
<circle cx="404.9" cy="527.8" r="16.75" fill="#4a0000" stroke="none"/>
<circle cx="404.9" cy="527.8" r="15.55" fill="url(#gr)" stroke="#580000"/>
<circle cx="437.0" cy="527.8" r="16.75" fill="#4a0000" stroke="none"/>
<circle cx="437.0" cy="527.8" r="15.55" fill="url(#gr)" stroke="#580000"/>
<rect x="260.4" y="537.3" width="192.6" height="13.0" fill="#4a0000"/>
<circle cx="260.4" cy="543.8" r="16.75" fill="#4a0000" stroke="none"/>
<circle cx="260.4" cy="543.8" r="15.55" fill="url(#gr)" stroke="#580000"/>
<circle cx="292.5" cy="543.8" r="16.75" fill="#4a0000" stroke="none"/>
<circle cx="292.5" cy="543.8" r="15.55" fill="url(#gr)" stroke="#580000"/>
<circle cx="324.6" cy="543.8" r="16.75" fill="#4a0000" stroke="none"/>
<circle cx="324.6" cy="543.8" r="15.55" fill="url(#gr)" stroke="#580000"/>
<circle cx="356.7" cy="543.8" r="16.75" fill="#4a0000" stroke="none"/>
<circle cx="356.7" cy="543.8" r="15.55" fill="url(#gr)" stroke="#580000"/>
<circle cx="388.8" cy="543.8" r="16.75" fill="#4a0000" stroke="none"/>
<circle cx="388.8" cy="543.8" r="15.55" fill="url(#gr)" stroke="#580000"/>
<circle cx="420.9" cy="543.8" r="16.75" fill="#4a0000" stroke="none"/>
<circle cx="420.9" cy="543.8" r="15.55" fill="url(#gr)" stroke="#580000"/>
<circle cx="453.0" cy="543.8" r="16.75" fill="#4a0000" stroke="none"/>
<circle cx="453.0" cy="543.8" r="15.55" fill="url(#gr)" stroke="#580000"/>
<rect x="276.4" y="553.3" width="192.6" height="13.0" fill="#4a0000"/>
<circle cx="276.4" cy="559.8" r="16.75" fill="#4a0000" stroke="none"/>
<circle cx="276.4" cy="559.8" r="15.55" fill="url(#gr)" stroke="#580000"/>
<circle cx="308.5" cy="559.8" r="16.75" fill="#4a0000" stroke="none"/>
<circle cx="308.5" cy="559.8" r="15.55" fill="url(#gr)" stroke="#580000"/>
<circle cx="340.6" cy="559.8" r="16.75" fill="#4a0000" stroke="none"/>
<circle cx="340.6" cy="559.8" r="15.55" fill="url(#gr)" stroke="#580000"/>
<circle cx="372.7" cy="559.8" r="16.75" fill="#4a0000" stroke="none"/>
<circle cx="372.7" cy="559.8" r="15.55" fill="url(#gr)" stroke="#580000"/>
<circle cx="404.8" cy="559.8" r="16.75" fill="#4a0000" stroke="none"/>
<circle cx="404.8" cy="559.8" r="15.55" fill="url(#gr)" stroke="#580000"/>
<circle cx="436.9" cy="559.8" r="16.75" fill="#4a0000" stroke="none"/>
<circle cx="436.9" cy="559.8" r="15.55" fill="url(#gr)" stroke="#580000"/>
<circle cx="469.0" cy="559.8" r="16.75" fill="#4a0000" stroke="none"/>
<circle cx="469.0" cy="559.8" r="15.55" fill="url(#gr)" stroke="#580000"/>
<rect x="181.6" y="416.8" width="160.5" height="13.0" fill="#000038"/>
<circle cx="181.6" cy="423.3" r="16.75" fill="#000038" stroke="none"/>
<circle cx="181.6" cy="423.3" r="15.55" fill="url(#gb)" stroke="#000040"/>
<circle cx="213.7" cy="423.3" r="16.75" fill="#000038" stroke="none"/>
<circle cx="213.7" cy="423.3" r="15.55" fill="url(#gb)" stroke="#000040"/>
<circle cx="245.8" cy="423.3" r="16.75" fill="#000038" stroke="none"/>
<circle cx="245.8" cy="423.3" r="15.55" fill="url(#gb)" stroke="#000040"/>
<circle cx="277.9" cy="423.3" r="16.75" fill="#000038" stroke="none"/>
<circle cx="277.9" cy="423.3" r="15.55" fill="url(#gb)" stroke="#000040"/>
<circle cx="310.0" cy="423.3" r="16.75" fill="#000038" stroke="none"/>
<circle cx="310.0" cy="423.3" r="15.55" fill="url(#gb)" stroke="#000040"/>
<circle cx="342.1" cy="423.3" r="16.75" fill="#000038" stroke="none"/>
<circle cx="342.1" cy="423.3" r="15.55" fill="url(#gb)" stroke="#000040"/>
<rect x="197.6" y="432.8" width="160.5" height="13.0" fill="#000038"/>
<circle cx="197.6" cy="439.3" r="16.75" fill="#000038" stroke="none"/>
<circle cx="197.6" cy="439.3" r="15.55" fill="url(#gb)" stroke="#000040"/>
<circle cx="229.7" cy="439.3" r="16.75" fill="#000038" stroke="none"/>
<circle cx="229.7" cy="439.3" r="15.55" fill="url(#gb)" stroke="#000040"/>
<circle cx="261.8" cy="439.3" r="16.75" fill="#000038" stroke="none"/>
<circle cx="261.8" cy="439.3" r="15.55" fill="url(#gb)" stroke="#000040"/>
<circle cx="293.9" cy="439.3" r="16.75" fill="#000038" stroke="none"/>
<circle cx="293.9" cy="439.3" r="15.55" fill="url(#gb)" stroke="#000040"/>
<circle cx="326.0" cy="439.3" r="16.75" fill="#000038" stroke="none"/>
<circle cx="326.0" cy="439.3" r="15.55" fill="url(#gb)" stroke="#000040"/>
<circle cx="358.1" cy="439.3" r="16.75" fill="#000038" stroke="none"/>
<circle cx="358.1" cy="439.3" r="15.55" fill="url(#gb)" stroke="#000040"/>
<rect x="213.6" y="448.8" width="160.5" height="13.0" fill="#000038"/>
<circle cx="213.6" cy="455.3" r="16.75" fill="#000038" stroke="none"/>
<circle cx="213.6" cy="455.3" r="15.55" fill="url(#gb)" stroke="#000040"/>
<circle cx="245.7" cy="455.3" r="16.75" fill="#000038" stroke="none"/>
<circle cx="245.7" cy="455.3" r="15.55" fill="url(#gb)" stroke="#000040"/>
<circle cx="277.8" cy="455.3" r="16.75" fill="#000038" stroke="none"/>
<circle cx="277.8" cy="455.3" r="15.55" fill="url(#gb)" stroke="#000040"/>
<circle cx="309.9" cy="455.3" r="16.75" fill="#000038" stroke="none"/>
<circle cx="309.9" cy="455.3" r="15.55" fill="url(#gb)" stroke="#000040"/>
<circle cx="342.0" cy="455.3" r="16.75" fill="#000038" stroke="none"/>
<circle cx="342.0" cy="455.3" r="15.55" fill="url(#gb)" stroke="#000040"/>
<circle cx="374.1" cy="455.3" r="16.75" fill="#000038" stroke="none"/>
<circle cx="374.1" cy="455.3" r="15.55" fill="url(#gb)" stroke="#000040"/>
<rect x="229.6" y="464.8" width="160.5" height="13.0" fill="#000038"/>
<circle cx="229.6" cy="471.3" r="16.75" fill="#000038" stroke="none"/>
<circle cx="229.6" cy="471.3" r="15.55" fill="url(#gb)" stroke="#000040"/>
<circle cx="261.7" cy="471.3" r="16.75" fill="#000038" stroke="none"/>
<circle cx="261.7" cy="471.3" r="15.55" fill="url(#gb)" stroke="#000040"/>
<circle cx="293.8" cy="471.3" r="16.75" fill="#000038" stroke="none"/>
<circle cx="293.8" cy="471.3" r="15.55" fill="url(#gb)" stroke="#000040"/>
<circle cx="325.9" cy="471.3" r="16.75" fill="#000038" stroke="none"/>
<circle cx="325.9" cy="471.3" r="15.55" fill="url(#gb)" stroke="#000040"/>
<circle cx="358.0" cy="471.3" r="16.75" fill="#000038" stroke="none"/>
<circle cx="358.0" cy="471.3" r="15.55" fill="url(#gb)" stroke="#000040"/>
<circle cx="390.1" cy="471.3" r="16.75" fill="#000038" stroke="none"/>
<circle cx="390.1" cy="471.3" r="15.55" fill="url(#gb)" stroke="#000040"/>
<rect x="245.6" y="480.8" width="160.5" height="13.0" fill="#000038"/>
<circle cx="245.6" cy="487.3" r="16.75" fill="#000038" stroke="none"/>
<circle cx="245.6" cy="487.3" r="15.55" fill="url(#gb)" stroke="#000040"/>
<circle cx="277.7" cy="487.3" r="16.75" fill="#000038" stroke="none"/>
<circle cx="277.7" cy="487.3" r="15.55" fill="url(#gb)" stroke="#000040"/>
<circle cx="309.8" cy="487.3" r="16.75" fill="#000038" stroke="none"/>
<circle cx="309.8" cy="487.3" r="15.55" fill="url(#gb)" stroke="#000040"/>
<circle cx="341.9" cy="487.3" r="16.75" fill="#000038" stroke="none"/>
<circle cx="341.9" cy="487.3" r="15.55" fill="url(#gb)" stroke="#000040"/>
<circle cx="374.0" cy="487.3" r="16.75" fill="#000038" stroke="none"/>
<circle cx="374.0" cy="487.3" r="15.55" fill="url(#gb)" stroke="#000040"/>
<circle cx="406.1" cy="487.3" r="16.75" fill="#000038" stroke="none"/>
<circle cx="406.1" cy="487.3" r="15.55" fill="url(#gb)" stroke="#000040"/>
<rect x="261.6" y="496.8" width="160.5" height="13.0" fill="#000038"/>
<circle cx="261.6" cy="503.3" r="16.75" fill="#000038" stroke="none"/>
<circle cx="261.6" cy="503.3" r="15.55" fill="url(#gb)" stroke="#000040"/>
<circle cx="293.7" cy="503.3" r="16.75" fill="#000038" stroke="none"/>
<circle cx="293.7" cy="503.3" r="15.55" fill="url(#gb)" stroke="#000040"/>
<circle cx="325.8" cy="503.3" r="16.75" fill="#000038" stroke="none"/>
<circle cx="325.8" cy="503.3" r="15.55" fill="url(#gb)" stroke="#000040"/>
<circle cx="357.9" cy="503.3" r="16.75" fill="#000038" stroke="none"/>
<circle cx="357.9" cy="503.3" r="15.55" fill="url(#gb)" stroke="#000040"/>
<circle cx="390.0" cy="503.3" r="16.75" fill="#000038" stroke="none"/>
<circle cx="390.0" cy="503.3" r="15.55" fill="url(#gb)" stroke="#000040"/>
<circle cx="422.1" cy="503.3" r="16.75" fill="#000038" stroke="none"/>
<circle cx="422.1" cy="503.3" r="15.55" fill="url(#gb)" stroke="#000040"/>
<rect x="277.6" y="512.8" width="160.5" height="13.0" fill="#000038"/>
<circle cx="277.6" cy="519.3" r="16.75" fill="#000038" stroke="none"/>
<circle cx="277.6" cy="519.3" r="15.55" fill="url(#gb)" stroke="#000040"/>
<circle cx="309.7" cy="519.3" r="16.75" fill="#000038" stroke="none"/>
<circle cx="309.7" cy="519.3" r="15.55" fill="url(#gb)" stroke="#000040"/>
<circle cx="341.8" cy="519.3" r="16.75" fill="#000038" stroke="none"/>
<circle cx="341.8" cy="519.3" r="15.55" fill="url(#gb)" stroke="#000040"/>
<circle cx="373.9" cy="519.3" r="16.75" fill="#000038" stroke="none"/>
<circle cx="373.9" cy="519.3" r="15.55" fill="url(#gb)" stroke="#000040"/>
<circle cx="406.0" cy="519.3" r="16.75" fill="#000038" stroke="none"/>
<circle cx="406.0" cy="519.3" r="15.55" fill="url(#gb)" stroke="#000040"/>
<circle cx="438.1" cy="519.3" r="16.75" fill="#000038" stroke="none"/>
<circle cx="438.1" cy="519.3" r="15.55" fill="url(#gb)" stroke="#000040"/>
<rect x="293.6" y="528.8" width="160.5" height="13.0" fill="#000038"/>
<circle cx="293.6" cy="535.3" r="16.75" fill="#000038" stroke="none"/>
<circle cx="293.6" cy="535.3" r="15.55" fill="url(#gb)" stroke="#000040"/>
<circle cx="325.7" cy="535.3" r="16.75" fill="#000038" stroke="none"/>
<circle cx="325.7" cy="535.3" r="15.55" fill="url(#gb)" stroke="#000040"/>
<circle cx="357.8" cy="535.3" r="16.75" fill="#000038" stroke="none"/>
<circle cx="357.8" cy="535.3" r="15.55" fill="url(#gb)" stroke="#000040"/>
<circle cx="389.9" cy="535.3" r="16.75" fill="#000038" stroke="none"/>
<circle cx="389.9" cy="535.3" r="15.55" fill="url(#gb)" stroke="#000040"/>
<circle cx="422.0" cy="535.3" r="16.75" fill="#000038" stroke="none"/>
<circle cx="422.0" cy="535.3" r="15.55" fill="url(#gb)" stroke="#000040"/>
<circle cx="454.1" cy="535.3" r="16.75" fill="#000038" stroke="none"/>
<circle cx="454.1" cy="535.3" r="15.55" fill="url(#gb)" stroke="#000040"/>
<rect x="166.0" y="393.3" width="192.6" height="13.0" fill="#000038"/>
<circle cx="166.0" cy="399.8" r="16.75" fill="#000038" stroke="none"/>
<circle cx="166.0" cy="399.8" r="15.55" fill="url(#gb)" stroke="#000040"/>
<circle cx="198.1" cy="399.8" r="16.75" fill="#000038" stroke="none"/>
<circle cx="198.1" cy="399.8" r="15.55" fill="url(#gb)" stroke="#000040"/>
<circle cx="230.2" cy="399.8" r="16.75" fill="#000038" stroke="none"/>
<circle cx="230.2" cy="399.8" r="15.55" fill="url(#gb)" stroke="#000040"/>
<circle cx="262.3" cy="399.8" r="16.75" fill="#000038" stroke="none"/>
<circle cx="262.3" cy="399.8" r="15.55" fill="url(#gb)" stroke="#000040"/>
<circle cx="294.4" cy="399.8" r="16.75" fill="#000038" stroke="none"/>
<circle cx="294.4" cy="399.8" r="15.55" fill="url(#gb)" stroke="#000040"/>
<circle cx="326.5" cy="399.8" r="16.75" fill="#000038" stroke="none"/>
<circle cx="326.5" cy="399.8" r="15.55" fill="url(#gb)" stroke="#000040"/>
<circle cx="358.6" cy="399.8" r="16.75" fill="#000038" stroke="none"/>
<circle cx="358.6" cy="399.8" r="15.55" fill="url(#gb)" stroke="#000040"/>
<rect x="182.0" y="409.3" width="192.6" height="13.0" fill="#000038"/>
<circle cx="182.0" cy="415.8" r="16.75" fill="#000038" stroke="none"/>
<circle cx="182.0" cy="415.8" r="15.55" fill="url(#gb)" stroke="#000040"/>
<circle cx="214.1" cy="415.8" r="16.75" fill="#000038" stroke="none"/>
<circle cx="214.1" cy="415.8" r="15.55" fill="url(#gb)" stroke="#000040"/>
<circle cx="246.2" cy="415.8" r="16.75" fill="#000038" stroke="none"/>
<circle cx="246.2" cy="415.8" r="15.55" fill="url(#gb)" stroke="#000040"/>
<circle cx="278.3" cy="415.8" r="16.75" fill="#000038" stroke="none"/>
<circle cx="278.3" cy="415.8" r="15.55" fill="url(#gb)" stroke="#000040"/>
<circle cx="310.4" cy="415.8" r="16.75" fill="#000038" stroke="none"/>
<circle cx="310.4" cy="415.8" r="15.55" fill="url(#gb)" stroke="#000040"/>
<circle cx="342.5" cy="415.8" r="16.75" fill="#000038" stroke="none"/>
<circle cx="342.5" cy="415.8" r="15.55" fill="url(#gb)" stroke="#000040"/>
<circle cx="374.6" cy="415.8" r="16.75" fill="#000038" stroke="none"/>
<circle cx="374.6" cy="415.8" r="15.55" fill="url(#gb)" stroke="#000040"/>
<rect x="198.0" y="425.3" width="192.6" height="13.0" fill="#000038"/>
<circle cx="198.0" cy="431.8" r="16.75" fill="#000038" stroke="none"/>
<circle cx="198.0" cy="431.8" r="15.55" fill="url(#gb)" stroke="#000040"/>
<circle cx="230.1" cy="431.8" r="16.75" fill="#000038" stroke="none"/>
<circle cx="230.1" cy="431.8" r="15.55" fill="url(#gb)" stroke="#000040"/>
<circle cx="262.2" cy="431.8" r="16.75" fill="#000038" stroke="none"/>
<circle cx="262.2" cy="431.8" r="15.55" fill="url(#gb)" stroke="#000040"/>
<circle cx="294.3" cy="431.8" r="16.75" fill="#000038" stroke="none"/>
<circle cx="294.3" cy="431.8" r="15.55" fill="url(#gb)" stroke="#000040"/>
<circle cx="326.4" cy="431.8" r="16.75" fill="#000038" stroke="none"/>
<circle cx="326.4" cy="431.8" r="15.55" fill="url(#gb)" stroke="#000040"/>
<circle cx="358.5" cy="431.8" r="16.75" fill="#000038" stroke="none"/>
<circle cx="358.5" cy="431.8" r="15.55" fill="url(#gb)" stroke="#000040"/>
<circle cx="390.6" cy="431.8" r="16.75" fill="#000038" stroke="none"/>
<circle cx="390.6" cy="431.8" r="15.55" fill="url(#gb)" stroke="#000040"/>
<rect x="214.0" y="441.3" width="192.6" height="13.0" fill="#000038"/>
<circle cx="214.0" cy="447.8" r="16.75" fill="#000038" stroke="none"/>
<circle cx="214.0" cy="447.8" r="15.55" fill="url(#gb)" stroke="#000040"/>
<circle cx="246.1" cy="447.8" r="16.75" fill="#000038" stroke="none"/>
<circle cx="246.1" cy="447.8" r="15.55" fill="url(#gb)" stroke="#000040"/>
<circle cx="278.2" cy="447.8" r="16.75" fill="#000038" stroke="none"/>
<circle cx="278.2" cy="447.8" r="15.55" fill="url(#gb)" stroke="#000040"/>
<circle cx="310.3" cy="447.8" r="16.75" fill="#000038" stroke="none"/>
<circle cx="310.3" cy="447.8" r="15.55" fill="url(#gb)" stroke="#000040"/>
<circle cx="342.4" cy="447.8" r="16.75" fill="#000038" stroke="none"/>
<circle cx="342.4" cy="447.8" r="15.55" fill="url(#gb)" stroke="#000040"/>
<circle cx="374.5" cy="447.8" r="16.75" fill="#000038" stroke="none"/>
<circle cx="374.5" cy="447.8" r="15.55" fill="url(#gb)" stroke="#000040"/>
<circle cx="406.6" cy="447.8" r="16.75" fill="#000038" stroke="none"/>
<circle cx="406.6" cy="447.8" r="15.55" fill="url(#gb)" stroke="#000040"/>
<rect x="230.0" y="457.3" width="192.6" height="13.0" fill="#000038"/>
<circle cx="230.0" cy="463.8" r="16.75" fill="#000038" stroke="none"/>
<circle cx="230.0" cy="463.8" r="15.55" fill="url(#gb)" stroke="#000040"/>
<circle cx="262.1" cy="463.8" r="16.75" fill="#000038" stroke="none"/>
<circle cx="262.1" cy="463.8" r="15.55" fill="url(#gb)" stroke="#000040"/>
<circle cx="294.2" cy="463.8" r="16.75" fill="#000038" stroke="none"/>
<circle cx="294.2" cy="463.8" r="15.55" fill="url(#gb)" stroke="#000040"/>
<circle cx="326.3" cy="463.8" r="16.75" fill="#000038" stroke="none"/>
<circle cx="326.3" cy="463.8" r="15.55" fill="url(#gb)" stroke="#000040"/>
<circle cx="358.4" cy="463.8" r="16.75" fill="#000038" stroke="none"/>
<circle cx="358.4" cy="463.8" r="15.55" fill="url(#gb)" stroke="#000040"/>
<circle cx="390.5" cy="463.8" r="16.75" fill="#000038" stroke="none"/>
<circle cx="390.5" cy="463.8" r="15.55" fill="url(#gb)" stroke="#000040"/>
<circle cx="422.6" cy="463.8" r="16.75" fill="#000038" stroke="none"/>
<circle cx="422.6" cy="463.8" r="15.55" fill="url(#gb)" stroke="#000040"/>
<rect x="246.0" y="473.3" width="192.6" height="13.0" fill="#000038"/>
<circle cx="246.0" cy="479.8" r="16.75" fill="#000038" stroke="none"/>
<circle cx="246.0" cy="479.8" r="15.55" fill="url(#gb)" stroke="#000040"/>
<circle cx="278.1" cy="479.8" r="16.75" fill="#000038" stroke="none"/>
<circle cx="278.1" cy="479.8" r="15.55" fill="url(#gb)" stroke="#000040"/>
<circle cx="310.2" cy="479.8" r="16.75" fill="#000038" stroke="none"/>
<circle cx="310.2" cy="479.8" r="15.55" fill="url(#gb)" stroke="#000040"/>
<circle cx="342.3" cy="479.8" r="16.75" fill="#000038" stroke="none"/>
<circle cx="342.3" cy="479.8" r="15.55" fill="url(#gb)" stroke="#000040"/>
<circle cx="374.4" cy="479.8" r="16.75" fill="#000038" stroke="none"/>
<circle cx="374.4" cy="479.8" r="15.55" fill="url(#gb)" stroke="#000040"/>
<circle cx="406.5" cy="479.8" r="16.75" fill="#000038" stroke="none"/>
<circle cx="406.5" cy="479.8" r="15.55" fill="url(#gb)" stroke="#000040"/>
<circle cx="438.6" cy="479.8" r="16.75" fill="#000038" stroke="none"/>
<circle cx="438.6" cy="479.8" r="15.55" fill="url(#gb)" stroke="#000040"/>
<rect x="262.0" y="489.3" width="192.6" height="13.0" fill="#000038"/>
<circle cx="262.0" cy="495.8" r="16.75" fill="#000038" stroke="none"/>
<circle cx="262.0" cy="495.8" r="15.55" fill="url(#gb)" stroke="#000040"/>
<circle cx="294.1" cy="495.8" r="16.75" fill="#000038" stroke="none"/>
<circle cx="294.1" cy="495.8" r="15.55" fill="url(#gb)" stroke="#000040"/>
<circle cx="326.2" cy="495.8" r="16.75" fill="#000038" stroke="none"/>
<circle cx="326.2" cy="495.8" r="15.55" fill="url(#gb)" stroke="#000040"/>
<circle cx="358.3" cy="495.8" r="16.75" fill="#000038" stroke="none"/>
<circle cx="358.3" cy="495.8" r="15.55" fill="url(#gb)" stroke="#000040"/>
<circle cx="390.4" cy="495.8" r="16.75" fill="#000038" stroke="none"/>
<circle cx="390.4" cy="495.8" r="15.55" fill="url(#gb)" stroke="#000040"/>
<circle cx="422.5" cy="495.8" r="16.75" fill="#000038" stroke="none"/>
<circle cx="422.5" cy="495.8" r="15.55" fill="url(#gb)" stroke="#000040"/>
<circle cx="454.6" cy="495.8" r="16.75" fill="#000038" stroke="none"/>
<circle cx="454.6" cy="495.8" r="15.55" fill="url(#gb)" stroke="#000040"/>
<rect x="278.0" y="505.3" width="192.6" height="13.0" fill="#000038"/>
<circle cx="278.0" cy="511.8" r="16.75" fill="#000038" stroke="none"/>
<circle cx="278.0" cy="511.8" r="15.55" fill="url(#gb)" stroke="#000040"/>
<circle cx="310.1" cy="511.8" r="16.75" fill="#000038" stroke="none"/>
<circle cx="310.1" cy="511.8" r="15.55" fill="url(#gb)" stroke="#000040"/>
<circle cx="342.2" cy="511.8" r="16.75" fill="#000038" stroke="none"/>
<circle cx="342.2" cy="511.8" r="15.55" fill="url(#gb)" stroke="#000040"/>
<circle cx="374.3" cy="511.8" r="16.75" fill="#000038" stroke="none"/>
<circle cx="374.3" cy="511.8" r="15.55" fill="url(#gb)" stroke="#000040"/>
<circle cx="406.4" cy="511.8" r="16.75" fill="#000038" stroke="none"/>
<circle cx="406.4" cy="511.8" r="15.55" fill="url(#gb)" stroke="#000040"/>
<circle cx="438.5" cy="511.8" r="16.75" fill="#000038" stroke="none"/>
<circle cx="438.5" cy="511.8" r="15.55" fill="url(#gb)" stroke="#000040"/>
<circle cx="470.6" cy="511.8" r="16.75" fill="#000038" stroke="none"/>
<circle cx="470.6" cy="511.8" r="15.55" fill="url(#gb)" stroke="#000040"/>
<rect x="182.5" y="368.0" width="160.5" height="13.0" fill="#000038"/>
<circle cx="182.5" cy="374.5" r="16.75" fill="#000038" stroke="none"/>
<circle cx="182.5" cy="374.5" r="15.55" fill="url(#gb)" stroke="#000040"/>
<circle cx="214.6" cy="374.5" r="16.75" fill="#000038" stroke="none"/>
<circle cx="214.6" cy="374.5" r="15.55" fill="url(#gb)" stroke="#000040"/>
<circle cx="246.7" cy="374.5" r="16.75" fill="#000038" stroke="none"/>
<circle cx="246.7" cy="374.5" r="15.55" fill="url(#gb)" stroke="#000040"/>
<circle cx="278.8" cy="374.5" r="16.75" fill="#000038" stroke="none"/>
<circle cx="278.8" cy="374.5" r="15.55" fill="url(#gb)" stroke="#000040"/>
<circle cx="310.9" cy="374.5" r="16.75" fill="#000038" stroke="none"/>
<circle cx="310.9" cy="374.5" r="15.55" fill="url(#gb)" stroke="#000040"/>
<circle cx="343.0" cy="374.5" r="16.75" fill="#000038" stroke="none"/>
<circle cx="343.0" cy="374.5" r="15.55" fill="url(#gb)" stroke="#000040"/>
<rect x="198.5" y="384.0" width="160.5" height="13.0" fill="#000038"/>
<circle cx="198.5" cy="390.5" r="16.75" fill="#000038" stroke="none"/>
<circle cx="198.5" cy="390.5" r="15.55" fill="url(#gb)" stroke="#000040"/>
<circle cx="230.6" cy="390.5" r="16.75" fill="#000038" stroke="none"/>
<circle cx="230.6" cy="390.5" r="15.55" fill="url(#gb)" stroke="#000040"/>
<circle cx="262.7" cy="390.5" r="16.75" fill="#000038" stroke="none"/>
<circle cx="262.7" cy="390.5" r="15.55" fill="url(#gb)" stroke="#000040"/>
<circle cx="294.8" cy="390.5" r="16.75" fill="#000038" stroke="none"/>
<circle cx="294.8" cy="390.5" r="15.55" fill="url(#gb)" stroke="#000040"/>
<circle cx="326.9" cy="390.5" r="16.75" fill="#000038" stroke="none"/>
<circle cx="326.9" cy="390.5" r="15.55" fill="url(#gb)" stroke="#000040"/>
<circle cx="359.0" cy="390.5" r="16.75" fill="#000038" stroke="none"/>
<circle cx="359.0" cy="390.5" r="15.55" fill="url(#gb)" stroke="#000040"/>
<rect x="214.5" y="400.0" width="160.5" height="13.0" fill="#000038"/>
<circle cx="214.5" cy="406.5" r="16.75" fill="#000038" stroke="none"/>
<circle cx="214.5" cy="406.5" r="15.55" fill="url(#gb)" stroke="#000040"/>
<circle cx="246.6" cy="406.5" r="16.75" fill="#000038" stroke="none"/>
<circle cx="246.6" cy="406.5" r="15.55" fill="url(#gb)" stroke="#000040"/>
<circle cx="278.7" cy="406.5" r="16.75" fill="#000038" stroke="none"/>
<circle cx="278.7" cy="406.5" r="15.55" fill="url(#gb)" stroke="#000040"/>
<circle cx="310.8" cy="406.5" r="16.75" fill="#000038" stroke="none"/>
<circle cx="310.8" cy="406.5" r="15.55" fill="url(#gb)" stroke="#000040"/>
<circle cx="342.9" cy="406.5" r="16.75" fill="#000038" stroke="none"/>
<circle cx="342.9" cy="406.5" r="15.55" fill="url(#gb)" stroke="#000040"/>
<circle cx="375.0" cy="406.5" r="16.75" fill="#000038" stroke="none"/>
<circle cx="375.0" cy="406.5" r="15.55" fill="url(#gb)" stroke="#000040"/>
<rect x="230.5" y="416.0" width="160.5" height="13.0" fill="#000038"/>
<circle cx="230.5" cy="422.5" r="16.75" fill="#000038" stroke="none"/>
<circle cx="230.5" cy="422.5" r="15.55" fill="url(#gb)" stroke="#000040"/>
<circle cx="262.6" cy="422.5" r="16.75" fill="#000038" stroke="none"/>
<circle cx="262.6" cy="422.5" r="15.55" fill="url(#gb)" stroke="#000040"/>
<circle cx="294.7" cy="422.5" r="16.75" fill="#000038" stroke="none"/>
<circle cx="294.7" cy="422.5" r="15.55" fill="url(#gb)" stroke="#000040"/>
<circle cx="326.8" cy="422.5" r="16.75" fill="#000038" stroke="none"/>
<circle cx="326.8" cy="422.5" r="15.55" fill="url(#gb)" stroke="#000040"/>
<circle cx="358.9" cy="422.5" r="16.75" fill="#000038" stroke="none"/>
<circle cx="358.9" cy="422.5" r="15.55" fill="url(#gb)" stroke="#000040"/>
<circle cx="391.0" cy="422.5" r="16.75" fill="#000038" stroke="none"/>
<circle cx="391.0" cy="422.5" r="15.55" fill="url(#gb)" stroke="#000040"/>
<rect x="246.5" y="432.0" width="160.5" height="13.0" fill="#000038"/>
<circle cx="246.5" cy="438.5" r="16.75" fill="#000038" stroke="none"/>
<circle cx="246.5" cy="438.5" r="15.55" fill="url(#gb)" stroke="#000040"/>
<circle cx="278.6" cy="438.5" r="16.75" fill="#000038" stroke="none"/>
<circle cx="278.6" cy="438.5" r="15.55" fill="url(#gb)" stroke="#000040"/>
<circle cx="310.7" cy="438.5" r="16.75" fill="#000038" stroke="none"/>
<circle cx="310.7" cy="438.5" r="15.55" fill="url(#gb)" stroke="#000040"/>
<circle cx="342.8" cy="438.5" r="16.75" fill="#000038" stroke="none"/>
<circle cx="342.8" cy="438.5" r="15.55" fill="url(#gb)" stroke="#000040"/>
<circle cx="374.9" cy="438.5" r="16.75" fill="#000038" stroke="none"/>
<circle cx="374.9" cy="438.5" r="15.55" fill="url(#gb)" stroke="#000040"/>
<circle cx="407.0" cy="438.5" r="16.75" fill="#000038" stroke="none"/>
<circle cx="407.0" cy="438.5" r="15.55" fill="url(#gb)" stroke="#000040"/>
<rect x="262.5" y="448.0" width="160.5" height="13.0" fill="#000038"/>
<circle cx="262.5" cy="454.5" r="16.75" fill="#000038" stroke="none"/>
<circle cx="262.5" cy="454.5" r="15.55" fill="url(#gb)" stroke="#000040"/>
<circle cx="294.6" cy="454.5" r="16.75" fill="#000038" stroke="none"/>
<circle cx="294.6" cy="454.5" r="15.55" fill="url(#gb)" stroke="#000040"/>
<circle cx="326.7" cy="454.5" r="16.75" fill="#000038" stroke="none"/>
<circle cx="326.7" cy="454.5" r="15.55" fill="url(#gb)" stroke="#000040"/>
<circle cx="358.8" cy="454.5" r="16.75" fill="#000038" stroke="none"/>
<circle cx="358.8" cy="454.5" r="15.55" fill="url(#gb)" stroke="#000040"/>
<circle cx="390.9" cy="454.5" r="16.75" fill="#000038" stroke="none"/>
<circle cx="390.9" cy="454.5" r="15.55" fill="url(#gb)" stroke="#000040"/>
<circle cx="423.0" cy="454.5" r="16.75" fill="#000038" stroke="none"/>
<circle cx="423.0" cy="454.5" r="15.55" fill="url(#gb)" stroke="#000040"/>
<rect x="278.5" y="464.0" width="160.5" height="13.0" fill="#000038"/>
<circle cx="278.5" cy="470.5" r="16.75" fill="#000038" stroke="none"/>
<circle cx="278.5" cy="470.5" r="15.55" fill="url(#gb)" stroke="#000040"/>
<circle cx="310.6" cy="470.5" r="16.75" fill="#000038" stroke="none"/>
<circle cx="310.6" cy="470.5" r="15.55" fill="url(#gb)" stroke="#000040"/>
<circle cx="342.7" cy="470.5" r="16.75" fill="#000038" stroke="none"/>
<circle cx="342.7" cy="470.5" r="15.55" fill="url(#gb)" stroke="#000040"/>
<circle cx="374.8" cy="470.5" r="16.75" fill="#000038" stroke="none"/>
<circle cx="374.8" cy="470.5" r="15.55" fill="url(#gb)" stroke="#000040"/>
<circle cx="406.9" cy="470.5" r="16.75" fill="#000038" stroke="none"/>
<circle cx="406.9" cy="470.5" r="15.55" fill="url(#gb)" stroke="#000040"/>
<circle cx="439.0" cy="470.5" r="16.75" fill="#000038" stroke="none"/>
<circle cx="439.0" cy="470.5" r="15.55" fill="url(#gb)" stroke="#000040"/>
<rect x="294.5" y="480.0" width="160.5" height="13.0" fill="#000038"/>
<circle cx="294.5" cy="486.5" r="16.75" fill="#000038" stroke="none"/>
<circle cx="294.5" cy="486.5" r="15.55" fill="url(#gb)" stroke="#000040"/>
<circle cx="326.6" cy="486.5" r="16.75" fill="#000038" stroke="none"/>
<circle cx="326.6" cy="486.5" r="15.55" fill="url(#gb)" stroke="#000040"/>
<circle cx="358.7" cy="486.5" r="16.75" fill="#000038" stroke="none"/>
<circle cx="358.7" cy="486.5" r="15.55" fill="url(#gb)" stroke="#000040"/>
<circle cx="390.8" cy="486.5" r="16.75" fill="#000038" stroke="none"/>
<circle cx="390.8" cy="486.5" r="15.55" fill="url(#gb)" stroke="#000040"/>
<circle cx="422.9" cy="486.5" r="16.75" fill="#000038" stroke="none"/>
<circle cx="422.9" cy="486.5" r="15.55" fill="url(#gb)" stroke="#000040"/>
<circle cx="455.0" cy="486.5" r="16.75" fill="#000038" stroke="none"/>
<circle cx="455.0" cy="486.5" r="15.55" fill="url(#gb)" stroke="#000040"/>
<rect x="167.9" y="345.9" width="192.6" height="13.0" fill="#4a0000"/>
<circle cx="167.9" cy="352.4" r="16.75" fill="#4a0000" stroke="none"/>
<circle cx="167.9" cy="352.4" r="15.55" fill="url(#gr)" stroke="#580000"/>
<circle cx="200.0" cy="352.4" r="16.75" fill="#4a0000" stroke="none"/>
<circle cx="200.0" cy="352.4" r="15.55" fill="url(#gr)" stroke="#580000"/>
<circle cx="232.1" cy="352.4" r="16.75" fill="#4a0000" stroke="none"/>
<circle cx="232.1" cy="352.4" r="15.55" fill="url(#gr)" stroke="#580000"/>
<circle cx="264.2" cy="352.4" r="16.75" fill="#4a0000" stroke="none"/>
<circle cx="264.2" cy="352.4" r="15.55" fill="url(#gr)" stroke="#580000"/>
<circle cx="296.3" cy="352.4" r="16.75" fill="#4a0000" stroke="none"/>
<circle cx="296.3" cy="352.4" r="15.55" fill="url(#gr)" stroke="#580000"/>
<circle cx="328.4" cy="352.4" r="16.75" fill="#4a0000" stroke="none"/>
<circle cx="328.4" cy="352.4" r="15.55" fill="url(#gr)" stroke="#580000"/>
<circle cx="360.5" cy="352.4" r="16.75" fill="#4a0000" stroke="none"/>
<circle cx="360.5" cy="352.4" r="15.55" fill="url(#gr)" stroke="#580000"/>
<rect x="183.9" y="361.9" width="192.6" height="13.0" fill="#4a0000"/>
<circle cx="183.9" cy="368.4" r="16.75" fill="#4a0000" stroke="none"/>
<circle cx="183.9" cy="368.4" r="15.55" fill="url(#gr)" stroke="#580000"/>
<circle cx="216.0" cy="368.4" r="16.75" fill="#4a0000" stroke="none"/>
<circle cx="216.0" cy="368.4" r="15.55" fill="url(#gr)" stroke="#580000"/>
<circle cx="248.1" cy="368.4" r="16.75" fill="#4a0000" stroke="none"/>
<circle cx="248.1" cy="368.4" r="15.55" fill="url(#gr)" stroke="#580000"/>
<circle cx="280.2" cy="368.4" r="16.75" fill="#4a0000" stroke="none"/>
<circle cx="280.2" cy="368.4" r="15.55" fill="url(#gr)" stroke="#580000"/>
<circle cx="312.3" cy="368.4" r="16.75" fill="#4a0000" stroke="none"/>
<circle cx="312.3" cy="368.4" r="15.55" fill="url(#gr)" stroke="#580000"/>
<circle cx="344.4" cy="368.4" r="16.75" fill="#4a0000" stroke="none"/>
<circle cx="344.4" cy="368.4" r="15.55" fill="url(#gr)" stroke="#580000"/>
<circle cx="376.5" cy="368.4" r="16.75" fill="#4a0000" stroke="none"/>
<circle cx="376.5" cy="368.4" r="15.55" fill="url(#gr)" stroke="#580000"/>
<rect x="199.9" y="377.9" width="192.6" height="13.0" fill="#4a0000"/>
<circle cx="199.9" cy="384.4" r="16.75" fill="#4a0000" stroke="none"/>
<circle cx="199.9" cy="384.4" r="15.55" fill="url(#gr)" stroke="#580000"/>
<circle cx="232.0" cy="384.4" r="16.75" fill="#4a0000" stroke="none"/>
<circle cx="232.0" cy="384.4" r="15.55" fill="url(#gr)" stroke="#580000"/>
<circle cx="264.1" cy="384.4" r="16.75" fill="#4a0000" stroke="none"/>
<circle cx="264.1" cy="384.4" r="15.55" fill="url(#gr)" stroke="#580000"/>
<circle cx="296.2" cy="384.4" r="16.75" fill="#4a0000" stroke="none"/>
<circle cx="296.2" cy="384.4" r="15.55" fill="url(#gr)" stroke="#580000"/>
<circle cx="328.3" cy="384.4" r="16.75" fill="#4a0000" stroke="none"/>
<circle cx="328.3" cy="384.4" r="15.55" fill="url(#gr)" stroke="#580000"/>
<circle cx="360.4" cy="384.4" r="16.75" fill="#4a0000" stroke="none"/>
<circle cx="360.4" cy="384.4" r="15.55" fill="url(#gr)" stroke="#580000"/>
<circle cx="392.5" cy="384.4" r="16.75" fill="#4a0000" stroke="none"/>
<circle cx="392.5" cy="384.4" r="15.55" fill="url(#gr)" stroke="#580000"/>
<rect x="215.9" y="393.9" width="192.6" height="13.0" fill="#4a0000"/>
<circle cx="215.9" cy="400.4" r="16.75" fill="#4a0000" stroke="none"/>
<circle cx="215.9" cy="400.4" r="15.55" fill="url(#gr)" stroke="#580000"/>
<circle cx="248.0" cy="400.4" r="16.75" fill="#4a0000" stroke="none"/>
<circle cx="248.0" cy="400.4" r="15.55" fill="url(#gr)" stroke="#580000"/>
<circle cx="280.1" cy="400.4" r="16.75" fill="#4a0000" stroke="none"/>
<circle cx="280.1" cy="400.4" r="15.55" fill="url(#gr)" stroke="#580000"/>
<circle cx="312.2" cy="400.4" r="16.75" fill="#4a0000" stroke="none"/>
<circle cx="312.2" cy="400.4" r="15.55" fill="url(#gr)" stroke="#580000"/>
<circle cx="344.3" cy="400.4" r="16.75" fill="#4a0000" stroke="none"/>
<circle cx="344.3" cy="400.4" r="15.55" fill="url(#gr)" stroke="#580000"/>
<circle cx="376.4" cy="400.4" r="16.75" fill="#4a0000" stroke="none"/>
<circle cx="376.4" cy="400.4" r="15.55" fill="url(#gr)" stroke="#580000"/>
<circle cx="408.5" cy="400.4" r="16.75" fill="#4a0000" stroke="none"/>
<circle cx="408.5" cy="400.4" r="15.55" fill="url(#gr)" stroke="#580000"/>
<rect x="231.9" y="409.9" width="192.6" height="13.0" fill="#4a0000"/>
<circle cx="231.9" cy="416.4" r="16.75" fill="#4a0000" stroke="none"/>
<circle cx="231.9" cy="416.4" r="15.55" fill="url(#gr)" stroke="#580000"/>
<circle cx="264.0" cy="416.4" r="16.75" fill="#4a0000" stroke="none"/>
<circle cx="264.0" cy="416.4" r="15.55" fill="url(#gr)" stroke="#580000"/>
<circle cx="296.1" cy="416.4" r="16.75" fill="#4a0000" stroke="none"/>
<circle cx="296.1" cy="416.4" r="15.55" fill="url(#gr)" stroke="#580000"/>
<circle cx="328.2" cy="416.4" r="16.75" fill="#4a0000" stroke="none"/>
<circle cx="328.2" cy="416.4" r="15.55" fill="url(#gr)" stroke="#580000"/>
<circle cx="360.3" cy="416.4" r="16.75" fill="#4a0000" stroke="none"/>
<circle cx="360.3" cy="416.4" r="15.55" fill="url(#gr)" stroke="#580000"/>
<circle cx="392.4" cy="416.4" r="16.75" fill="#4a0000" stroke="none"/>
<circle cx="392.4" cy="416.4" r="15.55" fill="url(#gr)" stroke="#580000"/>
<circle cx="424.5" cy="416.4" r="16.75" fill="#4a0000" stroke="none"/>
<circle cx="424.5" cy="416.4" r="15.55" fill="url(#gr)" stroke="#580000"/>
<rect x="247.9" y="425.9" width="192.6" height="13.0" fill="#4a0000"/>
<circle cx="247.9" cy="432.4" r="16.75" fill="#4a0000" stroke="none"/>
<circle cx="247.9" cy="432.4" r="15.55" fill="url(#gr)" stroke="#580000"/>
<circle cx="280.0" cy="432.4" r="16.75" fill="#4a0000" stroke="none"/>
<circle cx="280.0" cy="432.4" r="15.55" fill="url(#gr)" stroke="#580000"/>
<circle cx="312.1" cy="432.4" r="16.75" fill="#4a0000" stroke="none"/>
<circle cx="312.1" cy="432.4" r="15.55" fill="url(#gr)" stroke="#580000"/>
<circle cx="344.2" cy="432.4" r="16.75" fill="#4a0000" stroke="none"/>
<circle cx="344.2" cy="432.4" r="15.55" fill="url(#gr)" stroke="#580000"/>
<circle cx="376.3" cy="432.4" r="16.75" fill="#4a0000" stroke="none"/>
<circle cx="376.3" cy="432.4" r="15.55" fill="url(#gr)" stroke="#580000"/>
<circle cx="408.4" cy="432.4" r="16.75" fill="#4a0000" stroke="none"/>
<circle cx="408.4" cy="432.4" r="15.55" fill="url(#gr)" stroke="#580000"/>
<circle cx="440.5" cy="432.4" r="16.75" fill="#4a0000" stroke="none"/>
<circle cx="440.5" cy="432.4" r="15.55" fill="url(#gr)" stroke="#580000"/>
<rect x="263.9" y="441.9" width="192.6" height="13.0" fill="#4a0000"/>
<circle cx="263.9" cy="448.4" r="16.75" fill="#4a0000" stroke="none"/>
<circle cx="263.9" cy="448.4" r="15.55" fill="url(#gr)" stroke="#580000"/>
<circle cx="296.0" cy="448.4" r="16.75" fill="#4a0000" stroke="none"/>
<circle cx="296.0" cy="448.4" r="15.55" fill="url(#gr)" stroke="#580000"/>
<circle cx="328.1" cy="448.4" r="16.75" fill="#4a0000" stroke="none"/>
<circle cx="328.1" cy="448.4" r="15.55" fill="url(#gr)" stroke="#580000"/>
<circle cx="360.2" cy="448.4" r="16.75" fill="#4a0000" stroke="none"/>
<circle cx="360.2" cy="448.4" r="15.55" fill="url(#gr)" stroke="#580000"/>
<circle cx="392.3" cy="448.4" r="16.75" fill="#4a0000" stroke="none"/>
<circle cx="392.3" cy="448.4" r="15.55" fill="url(#gr)" stroke="#580000"/>
<circle cx="424.4" cy="448.4" r="16.75" fill="#4a0000" stroke="none"/>
<circle cx="424.4" cy="448.4" r="15.55" fill="url(#gr)" stroke="#580000"/>
<circle cx="456.5" cy="448.4" r="16.75" fill="#4a0000" stroke="none"/>
<circle cx="456.5" cy="448.4" r="15.55" fill="url(#gr)" stroke="#580000"/>
<rect x="279.9" y="457.9" width="192.6" height="13.0" fill="#4a0000"/>
<circle cx="279.9" cy="464.4" r="16.75" fill="#4a0000" stroke="none"/>
<circle cx="279.9" cy="464.4" r="15.55" fill="url(#gr)" stroke="#580000"/>
<circle cx="312.0" cy="464.4" r="16.75" fill="#4a0000" stroke="none"/>
<circle cx="312.0" cy="464.4" r="15.55" fill="url(#gr)" stroke="#580000"/>
<circle cx="344.1" cy="464.4" r="16.75" fill="#4a0000" stroke="none"/>
<circle cx="344.1" cy="464.4" r="15.55" fill="url(#gr)" stroke="#580000"/>
<circle cx="376.2" cy="464.4" r="16.75" fill="#4a0000" stroke="none"/>
<circle cx="376.2" cy="464.4" r="15.55" fill="url(#gr)" stroke="#580000"/>
<circle cx="408.3" cy="464.4" r="16.75" fill="#4a0000" stroke="none"/>
<circle cx="408.3" cy="464.4" r="15.55" fill="url(#gr)" stroke="#580000"/>
<circle cx="440.4" cy="464.4" r="16.75" fill="#4a0000" stroke="none"/>
<circle cx="440.4" cy="464.4" r="15.55" fill="url(#gr)" stroke="#580000"/>
<circle cx="472.5" cy="464.4" r="16.75" fill="#4a0000" stroke="none"/>
<circle cx="472.5" cy="464.4" r="15.55" fill="url(#gr)" stroke="#580000"/>
<rect x="184.6" y="321.3" width="160.5" height="13.0" fill="#4a0000"/>
<circle cx="184.6" cy="327.8" r="16.75" fill="#4a0000" stroke="none"/>
<circle cx="184.6" cy="327.8" r="15.55" fill="url(#gr)" stroke="#580000"/>
<circle cx="216.7" cy="327.8" r="16.75" fill="#4a0000" stroke="none"/>
<circle cx="216.7" cy="327.8" r="15.55" fill="url(#gr)" stroke="#580000"/>
<circle cx="248.8" cy="327.8" r="16.75" fill="#4a0000" stroke="none"/>
<circle cx="248.8" cy="327.8" r="15.55" fill="url(#gr)" stroke="#580000"/>
<circle cx="280.9" cy="327.8" r="16.75" fill="#4a0000" stroke="none"/>
<circle cx="280.9" cy="327.8" r="15.55" fill="url(#gr)" stroke="#580000"/>
<circle cx="313.0" cy="327.8" r="16.75" fill="#4a0000" stroke="none"/>
<circle cx="313.0" cy="327.8" r="15.55" fill="url(#gr)" stroke="#580000"/>
<circle cx="345.1" cy="327.8" r="16.75" fill="#4a0000" stroke="none"/>
<circle cx="345.1" cy="327.8" r="15.55" fill="url(#gr)" stroke="#580000"/>
<rect x="200.6" y="337.3" width="160.5" height="13.0" fill="#4a0000"/>
<circle cx="200.6" cy="343.8" r="16.75" fill="#4a0000" stroke="none"/>
<circle cx="200.6" cy="343.8" r="15.55" fill="url(#gr)" stroke="#580000"/>
<circle cx="232.7" cy="343.8" r="16.75" fill="#4a0000" stroke="none"/>
<circle cx="232.7" cy="343.8" r="15.55" fill="url(#gr)" stroke="#580000"/>
<circle cx="264.8" cy="343.8" r="16.75" fill="#4a0000" stroke="none"/>
<circle cx="264.8" cy="343.8" r="15.55" fill="url(#gr)" stroke="#580000"/>
<circle cx="296.9" cy="343.8" r="16.75" fill="#4a0000" stroke="none"/>
<circle cx="296.9" cy="343.8" r="15.55" fill="url(#gr)" stroke="#580000"/>
<circle cx="329.0" cy="343.8" r="16.75" fill="#4a0000" stroke="none"/>
<circle cx="329.0" cy="343.8" r="15.55" fill="url(#gr)" stroke="#580000"/>
<circle cx="361.1" cy="343.8" r="16.75" fill="#4a0000" stroke="none"/>
<circle cx="361.1" cy="343.8" r="15.55" fill="url(#gr)" stroke="#580000"/>
<rect x="216.6" y="353.3" width="160.5" height="13.0" fill="#4a0000"/>
<circle cx="216.6" cy="359.8" r="16.75" fill="#4a0000" stroke="none"/>
<circle cx="216.6" cy="359.8" r="15.55" fill="url(#gr)" stroke="#580000"/>
<circle cx="248.7" cy="359.8" r="16.75" fill="#4a0000" stroke="none"/>
<circle cx="248.7" cy="359.8" r="15.55" fill="url(#gr)" stroke="#580000"/>
<circle cx="280.8" cy="359.8" r="16.75" fill="#4a0000" stroke="none"/>
<circle cx="280.8" cy="359.8" r="15.55" fill="url(#gr)" stroke="#580000"/>
<circle cx="312.9" cy="359.8" r="16.75" fill="#4a0000" stroke="none"/>
<circle cx="312.9" cy="359.8" r="15.55" fill="url(#gr)" stroke="#580000"/>
<circle cx="345.0" cy="359.8" r="16.75" fill="#4a0000" stroke="none"/>
<circle cx="345.0" cy="359.8" r="15.55" fill="url(#gr)" stroke="#580000"/>
<circle cx="377.1" cy="359.8" r="16.75" fill="#4a0000" stroke="none"/>
<circle cx="377.1" cy="359.8" r="15.55" fill="url(#gr)" stroke="#580000"/>
<rect x="232.6" y="369.3" width="160.5" height="13.0" fill="#4a0000"/>
<circle cx="232.6" cy="375.8" r="16.75" fill="#4a0000" stroke="none"/>
<circle cx="232.6" cy="375.8" r="15.55" fill="url(#gr)" stroke="#580000"/>
<circle cx="264.7" cy="375.8" r="16.75" fill="#4a0000" stroke="none"/>
<circle cx="264.7" cy="375.8" r="15.55" fill="url(#gr)" stroke="#580000"/>
<circle cx="296.8" cy="375.8" r="16.75" fill="#4a0000" stroke="none"/>
<circle cx="296.8" cy="375.8" r="15.55" fill="url(#gr)" stroke="#580000"/>
<circle cx="328.9" cy="375.8" r="16.75" fill="#4a0000" stroke="none"/>
<circle cx="328.9" cy="375.8" r="15.55" fill="url(#gr)" stroke="#580000"/>
<circle cx="361.0" cy="375.8" r="16.75" fill="#4a0000" stroke="none"/>
<circle cx="361.0" cy="375.8" r="15.55" fill="url(#gr)" stroke="#580000"/>
<circle cx="393.1" cy="375.8" r="16.75" fill="#4a0000" stroke="none"/>
<circle cx="393.1" cy="375.8" r="15.55" fill="url(#gr)" stroke="#580000"/>
<rect x="248.6" y="385.3" width="160.5" height="13.0" fill="#4a0000"/>
<circle cx="248.6" cy="391.8" r="16.75" fill="#4a0000" stroke="none"/>
<circle cx="248.6" cy="391.8" r="15.55" fill="url(#gr)" stroke="#580000"/>
<circle cx="280.7" cy="391.8" r="16.75" fill="#4a0000" stroke="none"/>
<circle cx="280.7" cy="391.8" r="15.55" fill="url(#gr)" stroke="#580000"/>
<circle cx="312.8" cy="391.8" r="16.75" fill="#4a0000" stroke="none"/>
<circle cx="312.8" cy="391.8" r="15.55" fill="url(#gr)" stroke="#580000"/>
<circle cx="344.9" cy="391.8" r="16.75" fill="#4a0000" stroke="none"/>
<circle cx="344.9" cy="391.8" r="15.55" fill="url(#gr)" stroke="#580000"/>
<circle cx="377.0" cy="391.8" r="16.75" fill="#4a0000" stroke="none"/>
<circle cx="377.0" cy="391.8" r="15.55" fill="url(#gr)" stroke="#580000"/>
<circle cx="409.1" cy="391.8" r="16.75" fill="#4a0000" stroke="none"/>
<circle cx="409.1" cy="391.8" r="15.55" fill="url(#gr)" stroke="#580000"/>
<rect x="264.6" y="401.3" width="160.5" height="13.0" fill="#4a0000"/>
<circle cx="264.6" cy="407.8" r="16.75" fill="#4a0000" stroke="none"/>
<circle cx="264.6" cy="407.8" r="15.55" fill="url(#gr)" stroke="#580000"/>
<circle cx="296.7" cy="407.8" r="16.75" fill="#4a0000" stroke="none"/>
<circle cx="296.7" cy="407.8" r="15.55" fill="url(#gr)" stroke="#580000"/>
<circle cx="328.8" cy="407.8" r="16.75" fill="#4a0000" stroke="none"/>
<circle cx="328.8" cy="407.8" r="15.55" fill="url(#gr)" stroke="#580000"/>
<circle cx="360.9" cy="407.8" r="16.75" fill="#4a0000" stroke="none"/>
<circle cx="360.9" cy="407.8" r="15.55" fill="url(#gr)" stroke="#580000"/>
<circle cx="393.0" cy="407.8" r="16.75" fill="#4a0000" stroke="none"/>
<circle cx="393.0" cy="407.8" r="15.55" fill="url(#gr)" stroke="#580000"/>
<circle cx="425.1" cy="407.8" r="16.75" fill="#4a0000" stroke="none"/>
<circle cx="425.1" cy="407.8" r="15.55" fill="url(#gr)" stroke="#580000"/>
<rect x="280.6" y="417.3" width="160.5" height="13.0" fill="#4a0000"/>
<circle cx="280.6" cy="423.8" r="16.75" fill="#4a0000" stroke="none"/>
<circle cx="280.6" cy="423.8" r="15.55" fill="url(#gr)" stroke="#580000"/>
<circle cx="312.7" cy="423.8" r="16.75" fill="#4a0000" stroke="none"/>
<circle cx="312.7" cy="423.8" r="15.55" fill="url(#gr)" stroke="#580000"/>
<circle cx="344.8" cy="423.8" r="16.75" fill="#4a0000" stroke="none"/>
<circle cx="344.8" cy="423.8" r="15.55" fill="url(#gr)" stroke="#580000"/>
<circle cx="376.9" cy="423.8" r="16.75" fill="#4a0000" stroke="none"/>
<circle cx="376.9" cy="423.8" r="15.55" fill="url(#gr)" stroke="#580000"/>
<circle cx="409.0" cy="423.8" r="16.75" fill="#4a0000" stroke="none"/>
<circle cx="409.0" cy="423.8" r="15.55" fill="url(#gr)" stroke="#580000"/>
<circle cx="441.1" cy="423.8" r="16.75" fill="#4a0000" stroke="none"/>
<circle cx="441.1" cy="423.8" r="15.55" fill="url(#gr)" stroke="#580000"/>
<rect x="296.6" y="433.3" width="160.5" height="13.0" fill="#4a0000"/>
<circle cx="296.6" cy="439.8" r="16.75" fill="#4a0000" stroke="none"/>
<circle cx="296.6" cy="439.8" r="15.55" fill="url(#gr)" stroke="#580000"/>
<circle cx="328.7" cy="439.8" r="16.75" fill="#4a0000" stroke="none"/>
<circle cx="328.7" cy="439.8" r="15.55" fill="url(#gr)" stroke="#580000"/>
<circle cx="360.8" cy="439.8" r="16.75" fill="#4a0000" stroke="none"/>
<circle cx="360.8" cy="439.8" r="15.55" fill="url(#gr)" stroke="#580000"/>
<circle cx="392.9" cy="439.8" r="16.75" fill="#4a0000" stroke="none"/>
<circle cx="392.9" cy="439.8" r="15.55" fill="url(#gr)" stroke="#580000"/>
<circle cx="425.0" cy="439.8" r="16.75" fill="#4a0000" stroke="none"/>
<circle cx="425.0" cy="439.8" r="15.55" fill="url(#gr)" stroke="#580000"/>
<circle cx="457.1" cy="439.8" r="16.75" fill="#4a0000" stroke="none"/>
<circle cx="457.1" cy="439.8" r="15.55" fill="url(#gr)" stroke="#580000"/>
<rect x="167.9" y="302.2" width="192.6" height="13.0" fill="#4a0000"/>
<circle cx="167.9" cy="308.7" r="16.75" fill="#4a0000" stroke="none"/>
<circle cx="167.9" cy="308.7" r="15.55" fill="url(#gr)" stroke="#580000"/>
<circle cx="200.0" cy="308.7" r="16.75" fill="#4a0000" stroke="none"/>
<circle cx="200.0" cy="308.7" r="15.55" fill="url(#gr)" stroke="#580000"/>
<circle cx="232.1" cy="308.7" r="16.75" fill="#4a0000" stroke="none"/>
<circle cx="232.1" cy="308.7" r="15.55" fill="url(#gr)" stroke="#580000"/>
<circle cx="264.2" cy="308.7" r="16.75" fill="#4a0000" stroke="none"/>
<circle cx="264.2" cy="308.7" r="15.55" fill="url(#gr)" stroke="#580000"/>
<circle cx="296.3" cy="308.7" r="16.75" fill="#4a0000" stroke="none"/>
<circle cx="296.3" cy="308.7" r="15.55" fill="url(#gr)" stroke="#580000"/>
<circle cx="328.4" cy="308.7" r="16.75" fill="#4a0000" stroke="none"/>
<circle cx="328.4" cy="308.7" r="15.55" fill="url(#gr)" stroke="#580000"/>
<circle cx="360.5" cy="308.7" r="16.75" fill="#4a0000" stroke="none"/>
<circle cx="360.5" cy="308.7" r="15.55" fill="url(#gr)" stroke="#580000"/>
<rect x="183.9" y="318.2" width="192.6" height="13.0" fill="#4a0000"/>
<circle cx="183.9" cy="324.7" r="16.75" fill="#4a0000" stroke="none"/>
<circle cx="183.9" cy="324.7" r="15.55" fill="url(#gr)" stroke="#580000"/>
<circle cx="216.0" cy="324.7" r="16.75" fill="#4a0000" stroke="none"/>
<circle cx="216.0" cy="324.7" r="15.55" fill="url(#gr)" stroke="#580000"/>
<circle cx="248.1" cy="324.7" r="16.75" fill="#4a0000" stroke="none"/>
<circle cx="248.1" cy="324.7" r="15.55" fill="url(#gr)" stroke="#580000"/>
<circle cx="280.2" cy="324.7" r="16.75" fill="#4a0000" stroke="none"/>
<circle cx="280.2" cy="324.7" r="15.55" fill="url(#gr)" stroke="#580000"/>
<circle cx="312.3" cy="324.7" r="16.75" fill="#4a0000" stroke="none"/>
<circle cx="312.3" cy="324.7" r="15.55" fill="url(#gr)" stroke="#580000"/>
<circle cx="344.4" cy="324.7" r="16.75" fill="#4a0000" stroke="none"/>
<circle cx="344.4" cy="324.7" r="15.55" fill="url(#gr)" stroke="#580000"/>
<circle cx="376.5" cy="324.7" r="16.75" fill="#4a0000" stroke="none"/>
<circle cx="376.5" cy="324.7" r="15.55" fill="url(#gr)" stroke="#580000"/>
<rect x="199.9" y="334.2" width="192.6" height="13.0" fill="#4a0000"/>
<circle cx="199.9" cy="340.7" r="16.75" fill="#4a0000" stroke="none"/>
<circle cx="199.9" cy="340.7" r="15.55" fill="url(#gr)" stroke="#580000"/>
<circle cx="232.0" cy="340.7" r="16.75" fill="#4a0000" stroke="none"/>
<circle cx="232.0" cy="340.7" r="15.55" fill="url(#gr)" stroke="#580000"/>
<circle cx="264.1" cy="340.7" r="16.75" fill="#4a0000" stroke="none"/>
<circle cx="264.1" cy="340.7" r="15.55" fill="url(#gr)" stroke="#580000"/>
<circle cx="296.2" cy="340.7" r="16.75" fill="#4a0000" stroke="none"/>
<circle cx="296.2" cy="340.7" r="15.55" fill="url(#gr)" stroke="#580000"/>
<circle cx="328.3" cy="340.7" r="16.75" fill="#4a0000" stroke="none"/>
<circle cx="328.3" cy="340.7" r="15.55" fill="url(#gr)" stroke="#580000"/>
<circle cx="360.4" cy="340.7" r="16.75" fill="#4a0000" stroke="none"/>
<circle cx="360.4" cy="340.7" r="15.55" fill="url(#gr)" stroke="#580000"/>
<circle cx="392.5" cy="340.7" r="16.75" fill="#4a0000" stroke="none"/>
<circle cx="392.5" cy="340.7" r="15.55" fill="url(#gr)" stroke="#580000"/>
<rect x="215.9" y="350.2" width="192.6" height="13.0" fill="#4a0000"/>
<circle cx="215.9" cy="356.7" r="16.75" fill="#4a0000" stroke="none"/>
<circle cx="215.9" cy="356.7" r="15.55" fill="url(#gr)" stroke="#580000"/>
<circle cx="248.0" cy="356.7" r="16.75" fill="#4a0000" stroke="none"/>
<circle cx="248.0" cy="356.7" r="15.55" fill="url(#gr)" stroke="#580000"/>
<circle cx="280.1" cy="356.7" r="16.75" fill="#4a0000" stroke="none"/>
<circle cx="280.1" cy="356.7" r="15.55" fill="url(#gr)" stroke="#580000"/>
<circle cx="312.2" cy="356.7" r="16.75" fill="#4a0000" stroke="none"/>
<circle cx="312.2" cy="356.7" r="15.55" fill="url(#gr)" stroke="#580000"/>
<circle cx="344.3" cy="356.7" r="16.75" fill="#4a0000" stroke="none"/>
<circle cx="344.3" cy="356.7" r="15.55" fill="url(#gr)" stroke="#580000"/>
<circle cx="376.4" cy="356.7" r="16.75" fill="#4a0000" stroke="none"/>
<circle cx="376.4" cy="356.7" r="15.55" fill="url(#gr)" stroke="#580000"/>
<circle cx="408.5" cy="356.7" r="16.75" fill="#4a0000" stroke="none"/>
<circle cx="408.5" cy="356.7" r="15.55" fill="url(#gr)" stroke="#580000"/>
<rect x="231.9" y="366.2" width="192.6" height="13.0" fill="#4a0000"/>
<circle cx="231.9" cy="372.7" r="16.75" fill="#4a0000" stroke="none"/>
<circle cx="231.9" cy="372.7" r="15.55" fill="url(#gr)" stroke="#580000"/>
<circle cx="264.0" cy="372.7" r="16.75" fill="#4a0000" stroke="none"/>
<circle cx="264.0" cy="372.7" r="15.55" fill="url(#gr)" stroke="#580000"/>
<circle cx="296.1" cy="372.7" r="16.75" fill="#4a0000" stroke="none"/>
<circle cx="296.1" cy="372.7" r="15.55" fill="url(#gr)" stroke="#580000"/>
<circle cx="328.2" cy="372.7" r="16.75" fill="#4a0000" stroke="none"/>
<circle cx="328.2" cy="372.7" r="15.55" fill="url(#gr)" stroke="#580000"/>
<circle cx="360.3" cy="372.7" r="16.75" fill="#4a0000" stroke="none"/>
<circle cx="360.3" cy="372.7" r="15.55" fill="url(#gr)" stroke="#580000"/>
<circle cx="392.4" cy="372.7" r="16.75" fill="#4a0000" stroke="none"/>
<circle cx="392.4" cy="372.7" r="15.55" fill="url(#gr)" stroke="#580000"/>
<circle cx="424.5" cy="372.7" r="16.75" fill="#4a0000" stroke="none"/>
<circle cx="424.5" cy="372.7" r="15.55" fill="url(#gr)" stroke="#580000"/>
<rect x="247.9" y="382.2" width="192.6" height="13.0" fill="#4a0000"/>
<circle cx="247.9" cy="388.7" r="16.75" fill="#4a0000" stroke="none"/>
<circle cx="247.9" cy="388.7" r="15.55" fill="url(#gr)" stroke="#580000"/>
<circle cx="280.0" cy="388.7" r="16.75" fill="#4a0000" stroke="none"/>
<circle cx="280.0" cy="388.7" r="15.55" fill="url(#gr)" stroke="#580000"/>
<circle cx="312.1" cy="388.7" r="16.75" fill="#4a0000" stroke="none"/>
<circle cx="312.1" cy="388.7" r="15.55" fill="url(#gr)" stroke="#580000"/>
<circle cx="344.2" cy="388.7" r="16.75" fill="#4a0000" stroke="none"/>
<circle cx="344.2" cy="388.7" r="15.55" fill="url(#gr)" stroke="#580000"/>
<circle cx="376.3" cy="388.7" r="16.75" fill="#4a0000" stroke="none"/>
<circle cx="376.3" cy="388.7" r="15.55" fill="url(#gr)" stroke="#580000"/>
<circle cx="408.4" cy="388.7" r="16.75" fill="#4a0000" stroke="none"/>
<circle cx="408.4" cy="388.7" r="15.55" fill="url(#gr)" stroke="#580000"/>
<circle cx="440.5" cy="388.7" r="16.75" fill="#4a0000" stroke="none"/>
<circle cx="440.5" cy="388.7" r="15.55" fill="url(#gr)" stroke="#580000"/>
<rect x="263.9" y="398.2" width="192.6" height="13.0" fill="#4a0000"/>
<circle cx="263.9" cy="404.7" r="16.75" fill="#4a0000" stroke="none"/>
<circle cx="263.9" cy="404.7" r="15.55" fill="url(#gr)" stroke="#580000"/>
<circle cx="296.0" cy="404.7" r="16.75" fill="#4a0000" stroke="none"/>
<circle cx="296.0" cy="404.7" r="15.55" fill="url(#gr)" stroke="#580000"/>
<circle cx="328.1" cy="404.7" r="16.75" fill="#4a0000" stroke="none"/>
<circle cx="328.1" cy="404.7" r="15.55" fill="url(#gr)" stroke="#580000"/>
<circle cx="360.2" cy="404.7" r="16.75" fill="#4a0000" stroke="none"/>
<circle cx="360.2" cy="404.7" r="15.55" fill="url(#gr)" stroke="#580000"/>
<circle cx="392.3" cy="404.7" r="16.75" fill="#4a0000" stroke="none"/>
<circle cx="392.3" cy="404.7" r="15.55" fill="url(#gr)" stroke="#580000"/>
<circle cx="424.4" cy="404.7" r="16.75" fill="#4a0000" stroke="none"/>
<circle cx="424.4" cy="404.7" r="15.55" fill="url(#gr)" stroke="#580000"/>
<circle cx="456.5" cy="404.7" r="16.75" fill="#4a0000" stroke="none"/>
<circle cx="456.5" cy="404.7" r="15.55" fill="url(#gr)" stroke="#580000"/>
<rect x="279.9" y="414.2" width="192.6" height="13.0" fill="#4a0000"/>
<circle cx="279.9" cy="420.7" r="16.75" fill="#4a0000" stroke="none"/>
<circle cx="279.9" cy="420.7" r="15.55" fill="url(#gr)" stroke="#580000"/>
<circle cx="312.0" cy="420.7" r="16.75" fill="#4a0000" stroke="none"/>
<circle cx="312.0" cy="420.7" r="15.55" fill="url(#gr)" stroke="#580000"/>
<circle cx="344.1" cy="420.7" r="16.75" fill="#4a0000" stroke="none"/>
<circle cx="344.1" cy="420.7" r="15.55" fill="url(#gr)" stroke="#580000"/>
<circle cx="376.2" cy="420.7" r="16.75" fill="#4a0000" stroke="none"/>
<circle cx="376.2" cy="420.7" r="15.55" fill="url(#gr)" stroke="#580000"/>
<circle cx="408.3" cy="420.7" r="16.75" fill="#4a0000" stroke="none"/>
<circle cx="408.3" cy="420.7" r="15.55" fill="url(#gr)" stroke="#580000"/>
<circle cx="440.4" cy="420.7" r="16.75" fill="#4a0000" stroke="none"/>
<circle cx="440.4" cy="420.7" r="15.55" fill="url(#gr)" stroke="#580000"/>
<circle cx="472.5" cy="420.7" r="16.75" fill="#4a0000" stroke="none"/>
<circle cx="472.5" cy="420.7" r="15.55" fill="url(#gr)" stroke="#580000"/>
<rect x="185.0" y="276.6" width="160.5" height="13.0" fill="#000038"/>
<circle cx="185.0" cy="283.1" r="16.75" fill="#000038" stroke="none"/>
<circle cx="185.0" cy="283.1" r="15.55" fill="url(#gb)" stroke="#000040"/>
<circle cx="217.1" cy="283.1" r="16.75" fill="#000038" stroke="none"/>
<circle cx="217.1" cy="283.1" r="15.55" fill="url(#gb)" stroke="#000040"/>
<circle cx="249.2" cy="283.1" r="16.75" fill="#000038" stroke="none"/>
<circle cx="249.2" cy="283.1" r="15.55" fill="url(#gb)" stroke="#000040"/>
<circle cx="281.3" cy="283.1" r="16.75" fill="#000038" stroke="none"/>
<circle cx="281.3" cy="283.1" r="15.55" fill="url(#gb)" stroke="#000040"/>
<circle cx="313.4" cy="283.1" r="16.75" fill="#000038" stroke="none"/>
<circle cx="313.4" cy="283.1" r="15.55" fill="url(#gb)" stroke="#000040"/>
<circle cx="345.5" cy="283.1" r="16.75" fill="#000038" stroke="none"/>
<circle cx="345.5" cy="283.1" r="15.55" fill="url(#gb)" stroke="#000040"/>
<rect x="201.0" y="292.6" width="160.5" height="13.0" fill="#000038"/>
<circle cx="201.0" cy="299.1" r="16.75" fill="#000038" stroke="none"/>
<circle cx="201.0" cy="299.1" r="15.55" fill="url(#gb)" stroke="#000040"/>
<circle cx="233.1" cy="299.1" r="16.75" fill="#000038" stroke="none"/>
<circle cx="233.1" cy="299.1" r="15.55" fill="url(#gb)" stroke="#000040"/>
<circle cx="265.2" cy="299.1" r="16.75" fill="#000038" stroke="none"/>
<circle cx="265.2" cy="299.1" r="15.55" fill="url(#gb)" stroke="#000040"/>
<circle cx="297.3" cy="299.1" r="16.75" fill="#000038" stroke="none"/>
<circle cx="297.3" cy="299.1" r="15.55" fill="url(#gb)" stroke="#000040"/>
<circle cx="329.4" cy="299.1" r="16.75" fill="#000038" stroke="none"/>
<circle cx="329.4" cy="299.1" r="15.55" fill="url(#gb)" stroke="#000040"/>
<circle cx="361.5" cy="299.1" r="16.75" fill="#000038" stroke="none"/>
<circle cx="361.5" cy="299.1" r="15.55" fill="url(#gb)" stroke="#000040"/>
<rect x="217.0" y="308.6" width="160.5" height="13.0" fill="#000038"/>
<circle cx="217.0" cy="315.1" r="16.75" fill="#000038" stroke="none"/>
<circle cx="217.0" cy="315.1" r="15.55" fill="url(#gb)" stroke="#000040"/>
<circle cx="249.1" cy="315.1" r="16.75" fill="#000038" stroke="none"/>
<circle cx="249.1" cy="315.1" r="15.55" fill="url(#gb)" stroke="#000040"/>
<circle cx="281.2" cy="315.1" r="16.75" fill="#000038" stroke="none"/>
<circle cx="281.2" cy="315.1" r="15.55" fill="url(#gb)" stroke="#000040"/>
<circle cx="313.3" cy="315.1" r="16.75" fill="#000038" stroke="none"/>
<circle cx="313.3" cy="315.1" r="15.55" fill="url(#gb)" stroke="#000040"/>
<circle cx="345.4" cy="315.1" r="16.75" fill="#000038" stroke="none"/>
<circle cx="345.4" cy="315.1" r="15.55" fill="url(#gb)" stroke="#000040"/>
<circle cx="377.5" cy="315.1" r="16.75" fill="#000038" stroke="none"/>
<circle cx="377.5" cy="315.1" r="15.55" fill="url(#gb)" stroke="#000040"/>
<rect x="233.0" y="324.6" width="160.5" height="13.0" fill="#000038"/>
<circle cx="233.0" cy="331.1" r="16.75" fill="#000038" stroke="none"/>
<circle cx="233.0" cy="331.1" r="15.55" fill="url(#gb)" stroke="#000040"/>
<circle cx="265.1" cy="331.1" r="16.75" fill="#000038" stroke="none"/>
<circle cx="265.1" cy="331.1" r="15.55" fill="url(#gb)" stroke="#000040"/>
<circle cx="297.2" cy="331.1" r="16.75" fill="#000038" stroke="none"/>
<circle cx="297.2" cy="331.1" r="15.55" fill="url(#gb)" stroke="#000040"/>
<circle cx="329.3" cy="331.1" r="16.75" fill="#000038" stroke="none"/>
<circle cx="329.3" cy="331.1" r="15.55" fill="url(#gb)" stroke="#000040"/>
<circle cx="361.4" cy="331.1" r="16.75" fill="#000038" stroke="none"/>
<circle cx="361.4" cy="331.1" r="15.55" fill="url(#gb)" stroke="#000040"/>
<circle cx="393.5" cy="331.1" r="16.75" fill="#000038" stroke="none"/>
<circle cx="393.5" cy="331.1" r="15.55" fill="url(#gb)" stroke="#000040"/>
<rect x="249.0" y="340.6" width="160.5" height="13.0" fill="#000038"/>
<circle cx="249.0" cy="347.1" r="16.75" fill="#000038" stroke="none"/>
<circle cx="249.0" cy="347.1" r="15.55" fill="url(#gb)" stroke="#000040"/>
<circle cx="281.1" cy="347.1" r="16.75" fill="#000038" stroke="none"/>
<circle cx="281.1" cy="347.1" r="15.55" fill="url(#gb)" stroke="#000040"/>
<circle cx="313.2" cy="347.1" r="16.75" fill="#000038" stroke="none"/>
<circle cx="313.2" cy="347.1" r="15.55" fill="url(#gb)" stroke="#000040"/>
<circle cx="345.3" cy="347.1" r="16.75" fill="#000038" stroke="none"/>
<circle cx="345.3" cy="347.1" r="15.55" fill="url(#gb)" stroke="#000040"/>
<circle cx="377.4" cy="347.1" r="16.75" fill="#000038" stroke="none"/>
<circle cx="377.4" cy="347.1" r="15.55" fill="url(#gb)" stroke="#000040"/>
<circle cx="409.5" cy="347.1" r="16.75" fill="#000038" stroke="none"/>
<circle cx="409.5" cy="347.1" r="15.55" fill="url(#gb)" stroke="#000040"/>
<rect x="265.0" y="356.6" width="160.5" height="13.0" fill="#000038"/>
<circle cx="265.0" cy="363.1" r="16.75" fill="#000038" stroke="none"/>
<circle cx="265.0" cy="363.1" r="15.55" fill="url(#gb)" stroke="#000040"/>
<circle cx="297.1" cy="363.1" r="16.75" fill="#000038" stroke="none"/>
<circle cx="297.1" cy="363.1" r="15.55" fill="url(#gb)" stroke="#000040"/>
<circle cx="329.2" cy="363.1" r="16.75" fill="#000038" stroke="none"/>
<circle cx="329.2" cy="363.1" r="15.55" fill="url(#gb)" stroke="#000040"/>
<circle cx="361.3" cy="363.1" r="16.75" fill="#000038" stroke="none"/>
<circle cx="361.3" cy="363.1" r="15.55" fill="url(#gb)" stroke="#000040"/>
<circle cx="393.4" cy="363.1" r="16.75" fill="#000038" stroke="none"/>
<circle cx="393.4" cy="363.1" r="15.55" fill="url(#gb)" stroke="#000040"/>
<circle cx="425.5" cy="363.1" r="16.75" fill="#000038" stroke="none"/>
<circle cx="425.5" cy="363.1" r="15.55" fill="url(#gb)" stroke="#000040"/>
<rect x="281.0" y="372.6" width="160.5" height="13.0" fill="#000038"/>
<circle cx="281.0" cy="379.1" r="16.75" fill="#000038" stroke="none"/>
<circle cx="281.0" cy="379.1" r="15.55" fill="url(#gb)" stroke="#000040"/>
<circle cx="313.1" cy="379.1" r="16.75" fill="#000038" stroke="none"/>
<circle cx="313.1" cy="379.1" r="15.55" fill="url(#gb)" stroke="#000040"/>
<circle cx="345.2" cy="379.1" r="16.75" fill="#000038" stroke="none"/>
<circle cx="345.2" cy="379.1" r="15.55" fill="url(#gb)" stroke="#000040"/>
<circle cx="377.3" cy="379.1" r="16.75" fill="#000038" stroke="none"/>
<circle cx="377.3" cy="379.1" r="15.55" fill="url(#gb)" stroke="#000040"/>
<circle cx="409.4" cy="379.1" r="16.75" fill="#000038" stroke="none"/>
<circle cx="409.4" cy="379.1" r="15.55" fill="url(#gb)" stroke="#000040"/>
<circle cx="441.5" cy="379.1" r="16.75" fill="#000038" stroke="none"/>
<circle cx="441.5" cy="379.1" r="15.55" fill="url(#gb)" stroke="#000040"/>
<rect x="297.0" y="388.6" width="160.5" height="13.0" fill="#000038"/>
<circle cx="297.0" cy="395.1" r="16.75" fill="#000038" stroke="none"/>
<circle cx="297.0" cy="395.1" r="15.55" fill="url(#gb)" stroke="#000040"/>
<circle cx="329.1" cy="395.1" r="16.75" fill="#000038" stroke="none"/>
<circle cx="329.1" cy="395.1" r="15.55" fill="url(#gb)" stroke="#000040"/>
<circle cx="361.2" cy="395.1" r="16.75" fill="#000038" stroke="none"/>
<circle cx="361.2" cy="395.1" r="15.55" fill="url(#gb)" stroke="#000040"/>
<circle cx="393.3" cy="395.1" r="16.75" fill="#000038" stroke="none"/>
<circle cx="393.3" cy="395.1" r="15.55" fill="url(#gb)" stroke="#000040"/>
<circle cx="425.4" cy="395.1" r="16.75" fill="#000038" stroke="none"/>
<circle cx="425.4" cy="395.1" r="15.55" fill="url(#gb)" stroke="#000040"/>
<circle cx="457.5" cy="395.1" r="16.75" fill="#000038" stroke="none"/>
<circle cx="457.5" cy="395.1" r="15.55" fill="url(#gb)" stroke="#000040"/>
<rect x="169.5" y="254.5" width="192.6" height="13.0" fill="#000038"/>
<circle cx="169.5" cy="261.0" r="16.75" fill="#000038" stroke="none"/>
<circle cx="169.5" cy="261.0" r="15.55" fill="url(#gb)" stroke="#000040"/>
<circle cx="201.6" cy="261.0" r="16.75" fill="#000038" stroke="none"/>
<circle cx="201.6" cy="261.0" r="15.55" fill="url(#gb)" stroke="#000040"/>
<circle cx="233.7" cy="261.0" r="16.75" fill="#000038" stroke="none"/>
<circle cx="233.7" cy="261.0" r="15.55" fill="url(#gb)" stroke="#000040"/>
<circle cx="265.8" cy="261.0" r="16.75" fill="#000038" stroke="none"/>
<circle cx="265.8" cy="261.0" r="15.55" fill="url(#gb)" stroke="#000040"/>
<circle cx="297.9" cy="261.0" r="16.75" fill="#000038" stroke="none"/>
<circle cx="297.9" cy="261.0" r="15.55" fill="url(#gb)" stroke="#000040"/>
<circle cx="330.0" cy="261.0" r="16.75" fill="#000038" stroke="none"/>
<circle cx="330.0" cy="261.0" r="15.55" fill="url(#gb)" stroke="#000040"/>
<circle cx="362.1" cy="261.0" r="16.75" fill="#000038" stroke="none"/>
<circle cx="362.1" cy="261.0" r="15.55" fill="url(#gb)" stroke="#000040"/>
<rect x="185.5" y="270.5" width="192.6" height="13.0" fill="#000038"/>
<circle cx="185.5" cy="277.0" r="16.75" fill="#000038" stroke="none"/>
<circle cx="185.5" cy="277.0" r="15.55" fill="url(#gb)" stroke="#000040"/>
<circle cx="217.6" cy="277.0" r="16.75" fill="#000038" stroke="none"/>
<circle cx="217.6" cy="277.0" r="15.55" fill="url(#gb)" stroke="#000040"/>
<circle cx="249.7" cy="277.0" r="16.75" fill="#000038" stroke="none"/>
<circle cx="249.7" cy="277.0" r="15.55" fill="url(#gb)" stroke="#000040"/>
<circle cx="281.8" cy="277.0" r="16.75" fill="#000038" stroke="none"/>
<circle cx="281.8" cy="277.0" r="15.55" fill="url(#gb)" stroke="#000040"/>
<circle cx="313.9" cy="277.0" r="16.75" fill="#000038" stroke="none"/>
<circle cx="313.9" cy="277.0" r="15.55" fill="url(#gb)" stroke="#000040"/>
<circle cx="346.0" cy="277.0" r="16.75" fill="#000038" stroke="none"/>
<circle cx="346.0" cy="277.0" r="15.55" fill="url(#gb)" stroke="#000040"/>
<circle cx="378.1" cy="277.0" r="16.75" fill="#000038" stroke="none"/>
<circle cx="378.1" cy="277.0" r="15.55" fill="url(#gb)" stroke="#000040"/>
<rect x="201.5" y="286.5" width="192.6" height="13.0" fill="#000038"/>
<circle cx="201.5" cy="293.0" r="16.75" fill="#000038" stroke="none"/>
<circle cx="201.5" cy="293.0" r="15.55" fill="url(#gb)" stroke="#000040"/>
<circle cx="233.6" cy="293.0" r="16.75" fill="#000038" stroke="none"/>
<circle cx="233.6" cy="293.0" r="15.55" fill="url(#gb)" stroke="#000040"/>
<circle cx="265.7" cy="293.0" r="16.75" fill="#000038" stroke="none"/>
<circle cx="265.7" cy="293.0" r="15.55" fill="url(#gb)" stroke="#000040"/>
<circle cx="297.8" cy="293.0" r="16.75" fill="#000038" stroke="none"/>
<circle cx="297.8" cy="293.0" r="15.55" fill="url(#gb)" stroke="#000040"/>
<circle cx="329.9" cy="293.0" r="16.75" fill="#000038" stroke="none"/>
<circle cx="329.9" cy="293.0" r="15.55" fill="url(#gb)" stroke="#000040"/>
<circle cx="362.0" cy="293.0" r="16.75" fill="#000038" stroke="none"/>
<circle cx="362.0" cy="293.0" r="15.55" fill="url(#gb)" stroke="#000040"/>
<circle cx="394.1" cy="293.0" r="16.75" fill="#000038" stroke="none"/>
<circle cx="394.1" cy="293.0" r="15.55" fill="url(#gb)" stroke="#000040"/>
<rect x="217.5" y="302.5" width="192.6" height="13.0" fill="#000038"/>
<circle cx="217.5" cy="309.0" r="16.75" fill="#000038" stroke="none"/>
<circle cx="217.5" cy="309.0" r="15.55" fill="url(#gb)" stroke="#000040"/>
<circle cx="249.6" cy="309.0" r="16.75" fill="#000038" stroke="none"/>
<circle cx="249.6" cy="309.0" r="15.55" fill="url(#gb)" stroke="#000040"/>
<circle cx="281.7" cy="309.0" r="16.75" fill="#000038" stroke="none"/>
<circle cx="281.7" cy="309.0" r="15.55" fill="url(#gb)" stroke="#000040"/>
<circle cx="313.8" cy="309.0" r="16.75" fill="#000038" stroke="none"/>
<circle cx="313.8" cy="309.0" r="15.55" fill="url(#gb)" stroke="#000040"/>
<circle cx="345.9" cy="309.0" r="16.75" fill="#000038" stroke="none"/>
<circle cx="345.9" cy="309.0" r="15.55" fill="url(#gb)" stroke="#000040"/>
<circle cx="378.0" cy="309.0" r="16.75" fill="#000038" stroke="none"/>
<circle cx="378.0" cy="309.0" r="15.55" fill="url(#gb)" stroke="#000040"/>
<circle cx="410.1" cy="309.0" r="16.75" fill="#000038" stroke="none"/>
<circle cx="410.1" cy="309.0" r="15.55" fill="url(#gb)" stroke="#000040"/>
<rect x="233.5" y="318.5" width="192.6" height="13.0" fill="#000038"/>
<circle cx="233.5" cy="325.0" r="16.75" fill="#000038" stroke="none"/>
<circle cx="233.5" cy="325.0" r="15.55" fill="url(#gb)" stroke="#000040"/>
<circle cx="265.6" cy="325.0" r="16.75" fill="#000038" stroke="none"/>
<circle cx="265.6" cy="325.0" r="15.55" fill="url(#gb)" stroke="#000040"/>
<circle cx="297.7" cy="325.0" r="16.75" fill="#000038" stroke="none"/>
<circle cx="297.7" cy="325.0" r="15.55" fill="url(#gb)" stroke="#000040"/>
<circle cx="329.8" cy="325.0" r="16.75" fill="#000038" stroke="none"/>
<circle cx="329.8" cy="325.0" r="15.55" fill="url(#gb)" stroke="#000040"/>
<circle cx="361.9" cy="325.0" r="16.75" fill="#000038" stroke="none"/>
<circle cx="361.9" cy="325.0" r="15.55" fill="url(#gb)" stroke="#000040"/>
<circle cx="394.0" cy="325.0" r="16.75" fill="#000038" stroke="none"/>
<circle cx="394.0" cy="325.0" r="15.55" fill="url(#gb)" stroke="#000040"/>
<circle cx="426.1" cy="325.0" r="16.75" fill="#000038" stroke="none"/>
<circle cx="426.1" cy="325.0" r="15.55" fill="url(#gb)" stroke="#000040"/>
<rect x="249.5" y="334.5" width="192.6" height="13.0" fill="#000038"/>
<circle cx="249.5" cy="341.0" r="16.75" fill="#000038" stroke="none"/>
<circle cx="249.5" cy="341.0" r="15.55" fill="url(#gb)" stroke="#000040"/>
<circle cx="281.6" cy="341.0" r="16.75" fill="#000038" stroke="none"/>
<circle cx="281.6" cy="341.0" r="15.55" fill="url(#gb)" stroke="#000040"/>
<circle cx="313.7" cy="341.0" r="16.75" fill="#000038" stroke="none"/>
<circle cx="313.7" cy="341.0" r="15.55" fill="url(#gb)" stroke="#000040"/>
<circle cx="345.8" cy="341.0" r="16.75" fill="#000038" stroke="none"/>
<circle cx="345.8" cy="341.0" r="15.55" fill="url(#gb)" stroke="#000040"/>
<circle cx="377.9" cy="341.0" r="16.75" fill="#000038" stroke="none"/>
<circle cx="377.9" cy="341.0" r="15.55" fill="url(#gb)" stroke="#000040"/>
<circle cx="410.0" cy="341.0" r="16.75" fill="#000038" stroke="none"/>
<circle cx="410.0" cy="341.0" r="15.55" fill="url(#gb)" stroke="#000040"/>
<circle cx="442.1" cy="341.0" r="16.75" fill="#000038" stroke="none"/>
<circle cx="442.1" cy="341.0" r="15.55" fill="url(#gb)" stroke="#000040"/>
<rect x="265.5" y="350.5" width="192.6" height="13.0" fill="#000038"/>
<circle cx="265.5" cy="357.0" r="16.75" fill="#000038" stroke="none"/>
<circle cx="265.5" cy="357.0" r="15.55" fill="url(#gb)" stroke="#000040"/>
<circle cx="297.6" cy="357.0" r="16.75" fill="#000038" stroke="none"/>
<circle cx="297.6" cy="357.0" r="15.55" fill="url(#gb)" stroke="#000040"/>
<circle cx="329.7" cy="357.0" r="16.75" fill="#000038" stroke="none"/>
<circle cx="329.7" cy="357.0" r="15.55" fill="url(#gb)" stroke="#000040"/>
<circle cx="361.8" cy="357.0" r="16.75" fill="#000038" stroke="none"/>
<circle cx="361.8" cy="357.0" r="15.55" fill="url(#gb)" stroke="#000040"/>
<circle cx="393.9" cy="357.0" r="16.75" fill="#000038" stroke="none"/>
<circle cx="393.9" cy="357.0" r="15.55" fill="url(#gb)" stroke="#000040"/>
<circle cx="426.0" cy="357.0" r="16.75" fill="#000038" stroke="none"/>
<circle cx="426.0" cy="357.0" r="15.55" fill="url(#gb)" stroke="#000040"/>
<circle cx="458.1" cy="357.0" r="16.75" fill="#000038" stroke="none"/>
<circle cx="458.1" cy="357.0" r="15.55" fill="url(#gb)" stroke="#000040"/>
<rect x="281.5" y="366.5" width="192.6" height="13.0" fill="#000038"/>
<circle cx="281.5" cy="373.0" r="16.75" fill="#000038" stroke="none"/>
<circle cx="281.5" cy="373.0" r="15.55" fill="url(#gb)" stroke="#000040"/>
<circle cx="313.6" cy="373.0" r="16.75" fill="#000038" stroke="none"/>
<circle cx="313.6" cy="373.0" r="15.55" fill="url(#gb)" stroke="#000040"/>
<circle cx="345.7" cy="373.0" r="16.75" fill="#000038" stroke="none"/>
<circle cx="345.7" cy="373.0" r="15.55" fill="url(#gb)" stroke="#000040"/>
<circle cx="377.8" cy="373.0" r="16.75" fill="#000038" stroke="none"/>
<circle cx="377.8" cy="373.0" r="15.55" fill="url(#gb)" stroke="#000040"/>
<circle cx="409.9" cy="373.0" r="16.75" fill="#000038" stroke="none"/>
<circle cx="409.9" cy="373.0" r="15.55" fill="url(#gb)" stroke="#000040"/>
<circle cx="442.0" cy="373.0" r="16.75" fill="#000038" stroke="none"/>
<circle cx="442.0" cy="373.0" r="15.55" fill="url(#gb)" stroke="#000040"/>
<circle cx="474.1" cy="373.0" r="16.75" fill="#000038" stroke="none"/>
<circle cx="474.1" cy="373.0" r="15.55" fill="url(#gb)" stroke="#000040"/>
<rect x="185.1" y="228.5" width="160.5" height="13.0" fill="#000038"/>
<circle cx="185.1" cy="235.0" r="16.75" fill="#000038" stroke="none"/>
<circle cx="185.1" cy="235.0" r="15.55" fill="url(#gb)" stroke="#000040"/>
<circle cx="217.2" cy="235.0" r="16.75" fill="#000038" stroke="none"/>
<circle cx="217.2" cy="235.0" r="15.55" fill="url(#gb)" stroke="#000040"/>
<circle cx="249.3" cy="235.0" r="16.75" fill="#000038" stroke="none"/>
<circle cx="249.3" cy="235.0" r="15.55" fill="url(#gb)" stroke="#000040"/>
<circle cx="281.4" cy="235.0" r="16.75" fill="#000038" stroke="none"/>
<circle cx="281.4" cy="235.0" r="15.55" fill="url(#gb)" stroke="#000040"/>
<circle cx="313.5" cy="235.0" r="16.75" fill="#000038" stroke="none"/>
<circle cx="313.5" cy="235.0" r="15.55" fill="url(#gb)" stroke="#000040"/>
<circle cx="345.6" cy="235.0" r="16.75" fill="#000038" stroke="none"/>
<circle cx="345.6" cy="235.0" r="15.55" fill="url(#gb)" stroke="#000040"/>
<rect x="201.1" y="244.5" width="160.5" height="13.0" fill="#000038"/>
<circle cx="201.1" cy="251.0" r="16.75" fill="#000038" stroke="none"/>
<circle cx="201.1" cy="251.0" r="15.55" fill="url(#gb)" stroke="#000040"/>
<circle cx="233.2" cy="251.0" r="16.75" fill="#000038" stroke="none"/>
<circle cx="233.2" cy="251.0" r="15.55" fill="url(#gb)" stroke="#000040"/>
<circle cx="265.3" cy="251.0" r="16.75" fill="#000038" stroke="none"/>
<circle cx="265.3" cy="251.0" r="15.55" fill="url(#gb)" stroke="#000040"/>
<circle cx="297.4" cy="251.0" r="16.75" fill="#000038" stroke="none"/>
<circle cx="297.4" cy="251.0" r="15.55" fill="url(#gb)" stroke="#000040"/>
<circle cx="329.5" cy="251.0" r="16.75" fill="#000038" stroke="none"/>
<circle cx="329.5" cy="251.0" r="15.55" fill="url(#gb)" stroke="#000040"/>
<circle cx="361.6" cy="251.0" r="16.75" fill="#000038" stroke="none"/>
<circle cx="361.6" cy="251.0" r="15.55" fill="url(#gb)" stroke="#000040"/>
<rect x="217.1" y="260.5" width="160.5" height="13.0" fill="#000038"/>
<circle cx="217.1" cy="267.0" r="16.75" fill="#000038" stroke="none"/>
<circle cx="217.1" cy="267.0" r="15.55" fill="url(#gb)" stroke="#000040"/>
<circle cx="249.2" cy="267.0" r="16.75" fill="#000038" stroke="none"/>
<circle cx="249.2" cy="267.0" r="15.55" fill="url(#gb)" stroke="#000040"/>
<circle cx="281.3" cy="267.0" r="16.75" fill="#000038" stroke="none"/>
<circle cx="281.3" cy="267.0" r="15.55" fill="url(#gb)" stroke="#000040"/>
<circle cx="313.4" cy="267.0" r="16.75" fill="#000038" stroke="none"/>
<circle cx="313.4" cy="267.0" r="15.55" fill="url(#gb)" stroke="#000040"/>
<circle cx="345.5" cy="267.0" r="16.75" fill="#000038" stroke="none"/>
<circle cx="345.5" cy="267.0" r="15.55" fill="url(#gb)" stroke="#000040"/>
<circle cx="377.6" cy="267.0" r="16.75" fill="#000038" stroke="none"/>
<circle cx="377.6" cy="267.0" r="15.55" fill="url(#gb)" stroke="#000040"/>
<rect x="233.1" y="276.5" width="160.5" height="13.0" fill="#000038"/>
<circle cx="233.1" cy="283.0" r="16.75" fill="#000038" stroke="none"/>
<circle cx="233.1" cy="283.0" r="15.55" fill="url(#gb)" stroke="#000040"/>
<circle cx="265.2" cy="283.0" r="16.75" fill="#000038" stroke="none"/>
<circle cx="265.2" cy="283.0" r="15.55" fill="url(#gb)" stroke="#000040"/>
<circle cx="297.3" cy="283.0" r="16.75" fill="#000038" stroke="none"/>
<circle cx="297.3" cy="283.0" r="15.55" fill="url(#gb)" stroke="#000040"/>
<circle cx="329.4" cy="283.0" r="16.75" fill="#000038" stroke="none"/>
<circle cx="329.4" cy="283.0" r="15.55" fill="url(#gb)" stroke="#000040"/>
<circle cx="361.5" cy="283.0" r="16.75" fill="#000038" stroke="none"/>
<circle cx="361.5" cy="283.0" r="15.55" fill="url(#gb)" stroke="#000040"/>
<circle cx="393.6" cy="283.0" r="16.75" fill="#000038" stroke="none"/>
<circle cx="393.6" cy="283.0" r="15.55" fill="url(#gb)" stroke="#000040"/>
<rect x="249.1" y="292.5" width="160.5" height="13.0" fill="#000038"/>
<circle cx="249.1" cy="299.0" r="16.75" fill="#000038" stroke="none"/>
<circle cx="249.1" cy="299.0" r="15.55" fill="url(#gb)" stroke="#000040"/>
<circle cx="281.2" cy="299.0" r="16.75" fill="#000038" stroke="none"/>
<circle cx="281.2" cy="299.0" r="15.55" fill="url(#gb)" stroke="#000040"/>
<circle cx="313.3" cy="299.0" r="16.75" fill="#000038" stroke="none"/>
<circle cx="313.3" cy="299.0" r="15.55" fill="url(#gb)" stroke="#000040"/>
<circle cx="345.4" cy="299.0" r="16.75" fill="#000038" stroke="none"/>
<circle cx="345.4" cy="299.0" r="15.55" fill="url(#gb)" stroke="#000040"/>
<circle cx="377.5" cy="299.0" r="16.75" fill="#000038" stroke="none"/>
<circle cx="377.5" cy="299.0" r="15.55" fill="url(#gb)" stroke="#000040"/>
<circle cx="409.6" cy="299.0" r="16.75" fill="#000038" stroke="none"/>
<circle cx="409.6" cy="299.0" r="15.55" fill="url(#gb)" stroke="#000040"/>
<rect x="265.1" y="308.5" width="160.5" height="13.0" fill="#000038"/>
<circle cx="265.1" cy="315.0" r="16.75" fill="#000038" stroke="none"/>
<circle cx="265.1" cy="315.0" r="15.55" fill="url(#gb)" stroke="#000040"/>
<circle cx="297.2" cy="315.0" r="16.75" fill="#000038" stroke="none"/>
<circle cx="297.2" cy="315.0" r="15.55" fill="url(#gb)" stroke="#000040"/>
<circle cx="329.3" cy="315.0" r="16.75" fill="#000038" stroke="none"/>
<circle cx="329.3" cy="315.0" r="15.55" fill="url(#gb)" stroke="#000040"/>
<circle cx="361.4" cy="315.0" r="16.75" fill="#000038" stroke="none"/>
<circle cx="361.4" cy="315.0" r="15.55" fill="url(#gb)" stroke="#000040"/>
<circle cx="393.5" cy="315.0" r="16.75" fill="#000038" stroke="none"/>
<circle cx="393.5" cy="315.0" r="15.55" fill="url(#gb)" stroke="#000040"/>
<circle cx="425.6" cy="315.0" r="16.75" fill="#000038" stroke="none"/>
<circle cx="425.6" cy="315.0" r="15.55" fill="url(#gb)" stroke="#000040"/>
<rect x="281.1" y="324.5" width="160.5" height="13.0" fill="#000038"/>
<circle cx="281.1" cy="331.0" r="16.75" fill="#000038" stroke="none"/>
<circle cx="281.1" cy="331.0" r="15.55" fill="url(#gb)" stroke="#000040"/>
<circle cx="313.2" cy="331.0" r="16.75" fill="#000038" stroke="none"/>
<circle cx="313.2" cy="331.0" r="15.55" fill="url(#gb)" stroke="#000040"/>
<circle cx="345.3" cy="331.0" r="16.75" fill="#000038" stroke="none"/>
<circle cx="345.3" cy="331.0" r="15.55" fill="url(#gb)" stroke="#000040"/>
<circle cx="377.4" cy="331.0" r="16.75" fill="#000038" stroke="none"/>
<circle cx="377.4" cy="331.0" r="15.55" fill="url(#gb)" stroke="#000040"/>
<circle cx="409.5" cy="331.0" r="16.75" fill="#000038" stroke="none"/>
<circle cx="409.5" cy="331.0" r="15.55" fill="url(#gb)" stroke="#000040"/>
<circle cx="441.6" cy="331.0" r="16.75" fill="#000038" stroke="none"/>
<circle cx="441.6" cy="331.0" r="15.55" fill="url(#gb)" stroke="#000040"/>
<rect x="297.1" y="340.5" width="160.5" height="13.0" fill="#000038"/>
<circle cx="297.1" cy="347.0" r="16.75" fill="#000038" stroke="none"/>
<circle cx="297.1" cy="347.0" r="15.55" fill="url(#gb)" stroke="#000040"/>
<circle cx="329.2" cy="347.0" r="16.75" fill="#000038" stroke="none"/>
<circle cx="329.2" cy="347.0" r="15.55" fill="url(#gb)" stroke="#000040"/>
<circle cx="361.3" cy="347.0" r="16.75" fill="#000038" stroke="none"/>
<circle cx="361.3" cy="347.0" r="15.55" fill="url(#gb)" stroke="#000040"/>
<circle cx="393.4" cy="347.0" r="16.75" fill="#000038" stroke="none"/>
<circle cx="393.4" cy="347.0" r="15.55" fill="url(#gb)" stroke="#000040"/>
<circle cx="425.5" cy="347.0" r="16.75" fill="#000038" stroke="none"/>
<circle cx="425.5" cy="347.0" r="15.55" fill="url(#gb)" stroke="#000040"/>
<circle cx="457.6" cy="347.0" r="16.75" fill="#000038" stroke="none"/>
<circle cx="457.6" cy="347.0" r="15.55" fill="url(#gb)" stroke="#000040"/>
<rect x="169.5" y="206.9" width="192.6" height="13.0" fill="#4a0000"/>
<circle cx="169.5" cy="213.4" r="16.75" fill="#4a0000" stroke="none"/>
<circle cx="169.5" cy="213.4" r="15.55" fill="url(#gr)" stroke="#580000"/>
<circle cx="201.6" cy="213.4" r="16.75" fill="#4a0000" stroke="none"/>
<circle cx="201.6" cy="213.4" r="15.55" fill="url(#gr)" stroke="#580000"/>
<circle cx="233.7" cy="213.4" r="16.75" fill="#4a0000" stroke="none"/>
<circle cx="233.7" cy="213.4" r="15.55" fill="url(#gr)" stroke="#580000"/>
<circle cx="265.8" cy="213.4" r="16.75" fill="#4a0000" stroke="none"/>
<circle cx="265.8" cy="213.4" r="15.55" fill="url(#gr)" stroke="#580000"/>
<circle cx="297.9" cy="213.4" r="16.75" fill="#4a0000" stroke="none"/>
<circle cx="297.9" cy="213.4" r="15.55" fill="url(#gr)" stroke="#580000"/>
<circle cx="330.0" cy="213.4" r="16.75" fill="#4a0000" stroke="none"/>
<circle cx="330.0" cy="213.4" r="15.55" fill="url(#gr)" stroke="#580000"/>
<circle cx="362.1" cy="213.4" r="16.75" fill="#4a0000" stroke="none"/>
<circle cx="362.1" cy="213.4" r="15.55" fill="url(#gr)" stroke="#580000"/>
<rect x="185.5" y="222.9" width="192.6" height="13.0" fill="#4a0000"/>
<circle cx="185.5" cy="229.4" r="16.75" fill="#4a0000" stroke="none"/>
<circle cx="185.5" cy="229.4" r="15.55" fill="url(#gr)" stroke="#580000"/>
<circle cx="217.6" cy="229.4" r="16.75" fill="#4a0000" stroke="none"/>
<circle cx="217.6" cy="229.4" r="15.55" fill="url(#gr)" stroke="#580000"/>
<circle cx="249.7" cy="229.4" r="16.75" fill="#4a0000" stroke="none"/>
<circle cx="249.7" cy="229.4" r="15.55" fill="url(#gr)" stroke="#580000"/>
<circle cx="281.8" cy="229.4" r="16.75" fill="#4a0000" stroke="none"/>
<circle cx="281.8" cy="229.4" r="15.55" fill="url(#gr)" stroke="#580000"/>
<circle cx="313.9" cy="229.4" r="16.75" fill="#4a0000" stroke="none"/>
<circle cx="313.9" cy="229.4" r="15.55" fill="url(#gr)" stroke="#580000"/>
<circle cx="346.0" cy="229.4" r="16.75" fill="#4a0000" stroke="none"/>
<circle cx="346.0" cy="229.4" r="15.55" fill="url(#gr)" stroke="#580000"/>
<circle cx="378.1" cy="229.4" r="16.75" fill="#4a0000" stroke="none"/>
<circle cx="378.1" cy="229.4" r="15.55" fill="url(#gr)" stroke="#580000"/>
<rect x="201.5" y="238.9" width="192.6" height="13.0" fill="#4a0000"/>
<circle cx="201.5" cy="245.4" r="16.75" fill="#4a0000" stroke="none"/>
<circle cx="201.5" cy="245.4" r="15.55" fill="url(#gr)" stroke="#580000"/>
<circle cx="233.6" cy="245.4" r="16.75" fill="#4a0000" stroke="none"/>
<circle cx="233.6" cy="245.4" r="15.55" fill="url(#gr)" stroke="#580000"/>
<circle cx="265.7" cy="245.4" r="16.75" fill="#4a0000" stroke="none"/>
<circle cx="265.7" cy="245.4" r="15.55" fill="url(#gr)" stroke="#580000"/>
<circle cx="297.8" cy="245.4" r="16.75" fill="#4a0000" stroke="none"/>
<circle cx="297.8" cy="245.4" r="15.55" fill="url(#gr)" stroke="#580000"/>
<circle cx="329.9" cy="245.4" r="16.75" fill="#4a0000" stroke="none"/>
<circle cx="329.9" cy="245.4" r="15.55" fill="url(#gr)" stroke="#580000"/>
<circle cx="362.0" cy="245.4" r="16.75" fill="#4a0000" stroke="none"/>
<circle cx="362.0" cy="245.4" r="15.55" fill="url(#gr)" stroke="#580000"/>
<circle cx="394.1" cy="245.4" r="16.75" fill="#4a0000" stroke="none"/>
<circle cx="394.1" cy="245.4" r="15.55" fill="url(#gr)" stroke="#580000"/>
<rect x="217.5" y="254.9" width="192.6" height="13.0" fill="#4a0000"/>
<circle cx="217.5" cy="261.4" r="16.75" fill="#4a0000" stroke="none"/>
<circle cx="217.5" cy="261.4" r="15.55" fill="url(#gr)" stroke="#580000"/>
<circle cx="249.6" cy="261.4" r="16.75" fill="#4a0000" stroke="none"/>
<circle cx="249.6" cy="261.4" r="15.55" fill="url(#gr)" stroke="#580000"/>
<circle cx="281.7" cy="261.4" r="16.75" fill="#4a0000" stroke="none"/>
<circle cx="281.7" cy="261.4" r="15.55" fill="url(#gr)" stroke="#580000"/>
<circle cx="313.8" cy="261.4" r="16.75" fill="#4a0000" stroke="none"/>
<circle cx="313.8" cy="261.4" r="15.55" fill="url(#gr)" stroke="#580000"/>
<circle cx="345.9" cy="261.4" r="16.75" fill="#4a0000" stroke="none"/>
<circle cx="345.9" cy="261.4" r="15.55" fill="url(#gr)" stroke="#580000"/>
<circle cx="378.0" cy="261.4" r="16.75" fill="#4a0000" stroke="none"/>
<circle cx="378.0" cy="261.4" r="15.55" fill="url(#gr)" stroke="#580000"/>
<circle cx="410.1" cy="261.4" r="16.75" fill="#4a0000" stroke="none"/>
<circle cx="410.1" cy="261.4" r="15.55" fill="url(#gr)" stroke="#580000"/>
<rect x="233.5" y="270.9" width="192.6" height="13.0" fill="#4a0000"/>
<circle cx="233.5" cy="277.4" r="16.75" fill="#4a0000" stroke="none"/>
<circle cx="233.5" cy="277.4" r="15.55" fill="url(#gr)" stroke="#580000"/>
<circle cx="265.6" cy="277.4" r="16.75" fill="#4a0000" stroke="none"/>
<circle cx="265.6" cy="277.4" r="15.55" fill="url(#gr)" stroke="#580000"/>
<circle cx="297.7" cy="277.4" r="16.75" fill="#4a0000" stroke="none"/>
<circle cx="297.7" cy="277.4" r="15.55" fill="url(#gr)" stroke="#580000"/>
<circle cx="329.8" cy="277.4" r="16.75" fill="#4a0000" stroke="none"/>
<circle cx="329.8" cy="277.4" r="15.55" fill="url(#gr)" stroke="#580000"/>
<circle cx="361.9" cy="277.4" r="16.75" fill="#4a0000" stroke="none"/>
<circle cx="361.9" cy="277.4" r="15.55" fill="url(#gr)" stroke="#580000"/>
<circle cx="394.0" cy="277.4" r="16.75" fill="#4a0000" stroke="none"/>
<circle cx="394.0" cy="277.4" r="15.55" fill="url(#gr)" stroke="#580000"/>
<circle cx="426.1" cy="277.4" r="16.75" fill="#4a0000" stroke="none"/>
<circle cx="426.1" cy="277.4" r="15.55" fill="url(#gr)" stroke="#580000"/>
<rect x="249.5" y="286.9" width="192.6" height="13.0" fill="#4a0000"/>
<circle cx="249.5" cy="293.4" r="16.75" fill="#4a0000" stroke="none"/>
<circle cx="249.5" cy="293.4" r="15.55" fill="url(#gr)" stroke="#580000"/>
<circle cx="281.6" cy="293.4" r="16.75" fill="#4a0000" stroke="none"/>
<circle cx="281.6" cy="293.4" r="15.55" fill="url(#gr)" stroke="#580000"/>
<circle cx="313.7" cy="293.4" r="16.75" fill="#4a0000" stroke="none"/>
<circle cx="313.7" cy="293.4" r="15.55" fill="url(#gr)" stroke="#580000"/>
<circle cx="345.8" cy="293.4" r="16.75" fill="#4a0000" stroke="none"/>
<circle cx="345.8" cy="293.4" r="15.55" fill="url(#gr)" stroke="#580000"/>
<circle cx="377.9" cy="293.4" r="16.75" fill="#4a0000" stroke="none"/>
<circle cx="377.9" cy="293.4" r="15.55" fill="url(#gr)" stroke="#580000"/>
<circle cx="410.0" cy="293.4" r="16.75" fill="#4a0000" stroke="none"/>
<circle cx="410.0" cy="293.4" r="15.55" fill="url(#gr)" stroke="#580000"/>
<circle cx="442.1" cy="293.4" r="16.75" fill="#4a0000" stroke="none"/>
<circle cx="442.1" cy="293.4" r="15.55" fill="url(#gr)" stroke="#580000"/>
<rect x="265.5" y="302.9" width="192.6" height="13.0" fill="#4a0000"/>
<circle cx="265.5" cy="309.4" r="16.75" fill="#4a0000" stroke="none"/>
<circle cx="265.5" cy="309.4" r="15.55" fill="url(#gr)" stroke="#580000"/>
<circle cx="297.6" cy="309.4" r="16.75" fill="#4a0000" stroke="none"/>
<circle cx="297.6" cy="309.4" r="15.55" fill="url(#gr)" stroke="#580000"/>
<circle cx="329.7" cy="309.4" r="16.75" fill="#4a0000" stroke="none"/>
<circle cx="329.7" cy="309.4" r="15.55" fill="url(#gr)" stroke="#580000"/>
<circle cx="361.8" cy="309.4" r="16.75" fill="#4a0000" stroke="none"/>
<circle cx="361.8" cy="309.4" r="15.55" fill="url(#gr)" stroke="#580000"/>
<circle cx="393.9" cy="309.4" r="16.75" fill="#4a0000" stroke="none"/>
<circle cx="393.9" cy="309.4" r="15.55" fill="url(#gr)" stroke="#580000"/>
<circle cx="426.0" cy="309.4" r="16.75" fill="#4a0000" stroke="none"/>
<circle cx="426.0" cy="309.4" r="15.55" fill="url(#gr)" stroke="#580000"/>
<circle cx="458.1" cy="309.4" r="16.75" fill="#4a0000" stroke="none"/>
<circle cx="458.1" cy="309.4" r="15.55" fill="url(#gr)" stroke="#580000"/>
<rect x="281.5" y="318.9" width="192.6" height="13.0" fill="#4a0000"/>
<circle cx="281.5" cy="325.4" r="16.75" fill="#4a0000" stroke="none"/>
<circle cx="281.5" cy="325.4" r="15.55" fill="url(#gr)" stroke="#580000"/>
<circle cx="313.6" cy="325.4" r="16.75" fill="#4a0000" stroke="none"/>
<circle cx="313.6" cy="325.4" r="15.55" fill="url(#gr)" stroke="#580000"/>
<circle cx="345.7" cy="325.4" r="16.75" fill="#4a0000" stroke="none"/>
<circle cx="345.7" cy="325.4" r="15.55" fill="url(#gr)" stroke="#580000"/>
<circle cx="377.8" cy="325.4" r="16.75" fill="#4a0000" stroke="none"/>
<circle cx="377.8" cy="325.4" r="15.55" fill="url(#gr)" stroke="#580000"/>
<circle cx="409.9" cy="325.4" r="16.75" fill="#4a0000" stroke="none"/>
<circle cx="409.9" cy="325.4" r="15.55" fill="url(#gr)" stroke="#580000"/>
<circle cx="442.0" cy="325.4" r="16.75" fill="#4a0000" stroke="none"/>
<circle cx="442.0" cy="325.4" r="15.55" fill="url(#gr)" stroke="#580000"/>
<circle cx="474.1" cy="325.4" r="16.75" fill="#4a0000" stroke="none"/>
<circle cx="474.1" cy="325.4" r="15.55" fill="url(#gr)" stroke="#580000"/>
<rect x="185.5" y="182.9" width="160.5" height="13.0" fill="#4a0000"/>
<circle cx="185.5" cy="189.4" r="16.75" fill="#4a0000" stroke="none"/>
<circle cx="185.5" cy="189.4" r="15.55" fill="url(#gr)" stroke="#580000"/>
<circle cx="217.6" cy="189.4" r="16.75" fill="#4a0000" stroke="none"/>
<circle cx="217.6" cy="189.4" r="15.55" fill="url(#gr)" stroke="#580000"/>
<circle cx="249.7" cy="189.4" r="16.75" fill="#4a0000" stroke="none"/>
<circle cx="249.7" cy="189.4" r="15.55" fill="url(#gr)" stroke="#580000"/>
<circle cx="281.8" cy="189.4" r="16.75" fill="#4a0000" stroke="none"/>
<circle cx="281.8" cy="189.4" r="15.55" fill="url(#gr)" stroke="#580000"/>
<circle cx="313.9" cy="189.4" r="16.75" fill="#4a0000" stroke="none"/>
<circle cx="313.9" cy="189.4" r="15.55" fill="url(#gr)" stroke="#580000"/>
<circle cx="346.0" cy="189.4" r="16.75" fill="#4a0000" stroke="none"/>
<circle cx="346.0" cy="189.4" r="15.55" fill="url(#gr)" stroke="#580000"/>
<rect x="201.5" y="198.9" width="160.5" height="13.0" fill="#4a0000"/>
<circle cx="201.5" cy="205.4" r="16.75" fill="#4a0000" stroke="none"/>
<circle cx="201.5" cy="205.4" r="15.55" fill="url(#gr)" stroke="#580000"/>
<circle cx="233.6" cy="205.4" r="16.75" fill="#4a0000" stroke="none"/>
<circle cx="233.6" cy="205.4" r="15.55" fill="url(#gr)" stroke="#580000"/>
<circle cx="265.7" cy="205.4" r="16.75" fill="#4a0000" stroke="none"/>
<circle cx="265.7" cy="205.4" r="15.55" fill="url(#gr)" stroke="#580000"/>
<circle cx="297.8" cy="205.4" r="16.75" fill="#4a0000" stroke="none"/>
<circle cx="297.8" cy="205.4" r="15.55" fill="url(#gr)" stroke="#580000"/>
<circle cx="329.9" cy="205.4" r="16.75" fill="#4a0000" stroke="none"/>
<circle cx="329.9" cy="205.4" r="15.55" fill="url(#gr)" stroke="#580000"/>
<circle cx="362.0" cy="205.4" r="16.75" fill="#4a0000" stroke="none"/>
<circle cx="362.0" cy="205.4" r="15.55" fill="url(#gr)" stroke="#580000"/>
<rect x="217.5" y="214.9" width="160.5" height="13.0" fill="#4a0000"/>
<circle cx="217.5" cy="221.4" r="16.75" fill="#4a0000" stroke="none"/>
<circle cx="217.5" cy="221.4" r="15.55" fill="url(#gr)" stroke="#580000"/>
<circle cx="249.6" cy="221.4" r="16.75" fill="#4a0000" stroke="none"/>
<circle cx="249.6" cy="221.4" r="15.55" fill="url(#gr)" stroke="#580000"/>
<circle cx="281.7" cy="221.4" r="16.75" fill="#4a0000" stroke="none"/>
<circle cx="281.7" cy="221.4" r="15.55" fill="url(#gr)" stroke="#580000"/>
<circle cx="313.8" cy="221.4" r="16.75" fill="#4a0000" stroke="none"/>
<circle cx="313.8" cy="221.4" r="15.55" fill="url(#gr)" stroke="#580000"/>
<circle cx="345.9" cy="221.4" r="16.75" fill="#4a0000" stroke="none"/>
<circle cx="345.9" cy="221.4" r="15.55" fill="url(#gr)" stroke="#580000"/>
<circle cx="378.0" cy="221.4" r="16.75" fill="#4a0000" stroke="none"/>
<circle cx="378.0" cy="221.4" r="15.55" fill="url(#gr)" stroke="#580000"/>
<rect x="233.5" y="230.9" width="160.5" height="13.0" fill="#4a0000"/>
<circle cx="233.5" cy="237.4" r="16.75" fill="#4a0000" stroke="none"/>
<circle cx="233.5" cy="237.4" r="15.55" fill="url(#gr)" stroke="#580000"/>
<circle cx="265.6" cy="237.4" r="16.75" fill="#4a0000" stroke="none"/>
<circle cx="265.6" cy="237.4" r="15.55" fill="url(#gr)" stroke="#580000"/>
<circle cx="297.7" cy="237.4" r="16.75" fill="#4a0000" stroke="none"/>
<circle cx="297.7" cy="237.4" r="15.55" fill="url(#gr)" stroke="#580000"/>
<circle cx="329.8" cy="237.4" r="16.75" fill="#4a0000" stroke="none"/>
<circle cx="329.8" cy="237.4" r="15.55" fill="url(#gr)" stroke="#580000"/>
<circle cx="361.9" cy="237.4" r="16.75" fill="#4a0000" stroke="none"/>
<circle cx="361.9" cy="237.4" r="15.55" fill="url(#gr)" stroke="#580000"/>
<circle cx="394.0" cy="237.4" r="16.75" fill="#4a0000" stroke="none"/>
<circle cx="394.0" cy="237.4" r="15.55" fill="url(#gr)" stroke="#580000"/>
<rect x="249.5" y="246.9" width="160.5" height="13.0" fill="#4a0000"/>
<circle cx="249.5" cy="253.4" r="16.75" fill="#4a0000" stroke="none"/>
<circle cx="249.5" cy="253.4" r="15.55" fill="url(#gr)" stroke="#580000"/>
<circle cx="281.6" cy="253.4" r="16.75" fill="#4a0000" stroke="none"/>
<circle cx="281.6" cy="253.4" r="15.55" fill="url(#gr)" stroke="#580000"/>
<circle cx="313.7" cy="253.4" r="16.75" fill="#4a0000" stroke="none"/>
<circle cx="313.7" cy="253.4" r="15.55" fill="url(#gr)" stroke="#580000"/>
<circle cx="345.8" cy="253.4" r="16.75" fill="#4a0000" stroke="none"/>
<circle cx="345.8" cy="253.4" r="15.55" fill="url(#gr)" stroke="#580000"/>
<circle cx="377.9" cy="253.4" r="16.75" fill="#4a0000" stroke="none"/>
<circle cx="377.9" cy="253.4" r="15.55" fill="url(#gr)" stroke="#580000"/>
<circle cx="410.0" cy="253.4" r="16.75" fill="#4a0000" stroke="none"/>
<circle cx="410.0" cy="253.4" r="15.55" fill="url(#gr)" stroke="#580000"/>
<rect x="265.5" y="262.9" width="160.5" height="13.0" fill="#4a0000"/>
<circle cx="265.5" cy="269.4" r="16.75" fill="#4a0000" stroke="none"/>
<circle cx="265.5" cy="269.4" r="15.55" fill="url(#gr)" stroke="#580000"/>
<circle cx="297.6" cy="269.4" r="16.75" fill="#4a0000" stroke="none"/>
<circle cx="297.6" cy="269.4" r="15.55" fill="url(#gr)" stroke="#580000"/>
<circle cx="329.7" cy="269.4" r="16.75" fill="#4a0000" stroke="none"/>
<circle cx="329.7" cy="269.4" r="15.55" fill="url(#gr)" stroke="#580000"/>
<circle cx="361.8" cy="269.4" r="16.75" fill="#4a0000" stroke="none"/>
<circle cx="361.8" cy="269.4" r="15.55" fill="url(#gr)" stroke="#580000"/>
<circle cx="393.9" cy="269.4" r="16.75" fill="#4a0000" stroke="none"/>
<circle cx="393.9" cy="269.4" r="15.55" fill="url(#gr)" stroke="#580000"/>
<circle cx="426.0" cy="269.4" r="16.75" fill="#4a0000" stroke="none"/>
<circle cx="426.0" cy="269.4" r="15.55" fill="url(#gr)" stroke="#580000"/>
<rect x="281.5" y="278.9" width="160.5" height="13.0" fill="#4a0000"/>
<circle cx="281.5" cy="285.4" r="16.75" fill="#4a0000" stroke="none"/>
<circle cx="281.5" cy="285.4" r="15.55" fill="url(#gr)" stroke="#580000"/>
<circle cx="313.6" cy="285.4" r="16.75" fill="#4a0000" stroke="none"/>
<circle cx="313.6" cy="285.4" r="15.55" fill="url(#gr)" stroke="#580000"/>
<circle cx="345.7" cy="285.4" r="16.75" fill="#4a0000" stroke="none"/>
<circle cx="345.7" cy="285.4" r="15.55" fill="url(#gr)" stroke="#580000"/>
<circle cx="377.8" cy="285.4" r="16.75" fill="#4a0000" stroke="none"/>
<circle cx="377.8" cy="285.4" r="15.55" fill="url(#gr)" stroke="#580000"/>
<circle cx="409.9" cy="285.4" r="16.75" fill="#4a0000" stroke="none"/>
<circle cx="409.9" cy="285.4" r="15.55" fill="url(#gr)" stroke="#580000"/>
<circle cx="442.0" cy="285.4" r="16.75" fill="#4a0000" stroke="none"/>
<circle cx="442.0" cy="285.4" r="15.55" fill="url(#gr)" stroke="#580000"/>
<rect x="297.5" y="294.9" width="160.5" height="13.0" fill="#4a0000"/>
<circle cx="297.5" cy="301.4" r="16.75" fill="#4a0000" stroke="none"/>
<circle cx="297.5" cy="301.4" r="15.55" fill="url(#gr)" stroke="#580000"/>
<circle cx="329.6" cy="301.4" r="16.75" fill="#4a0000" stroke="none"/>
<circle cx="329.6" cy="301.4" r="15.55" fill="url(#gr)" stroke="#580000"/>
<circle cx="361.7" cy="301.4" r="16.75" fill="#4a0000" stroke="none"/>
<circle cx="361.7" cy="301.4" r="15.55" fill="url(#gr)" stroke="#580000"/>
<circle cx="393.8" cy="301.4" r="16.75" fill="#4a0000" stroke="none"/>
<circle cx="393.8" cy="301.4" r="15.55" fill="url(#gr)" stroke="#580000"/>
<circle cx="425.9" cy="301.4" r="16.75" fill="#4a0000" stroke="none"/>
<circle cx="425.9" cy="301.4" r="15.55" fill="url(#gr)" stroke="#580000"/>
<circle cx="458.0" cy="301.4" r="16.75" fill="#4a0000" stroke="none"/>
<circle cx="458.0" cy="301.4" r="15.55" fill="url(#gr)" stroke="#580000"/>
<rect x="169.5" y="163.2" width="192.6" height="13.0" fill="#4a0000"/>
<circle cx="169.5" cy="169.7" r="16.75" fill="#4a0000" stroke="none"/>
<circle cx="169.5" cy="169.7" r="15.55" fill="url(#gr)" stroke="#580000"/>
<circle cx="201.6" cy="169.7" r="16.75" fill="#4a0000" stroke="none"/>
<circle cx="201.6" cy="169.7" r="15.55" fill="url(#gr)" stroke="#580000"/>
<circle cx="233.7" cy="169.7" r="16.75" fill="#4a0000" stroke="none"/>
<circle cx="233.7" cy="169.7" r="15.55" fill="url(#gr)" stroke="#580000"/>
<circle cx="265.8" cy="169.7" r="16.75" fill="#4a0000" stroke="none"/>
<circle cx="265.8" cy="169.7" r="15.55" fill="url(#gr)" stroke="#580000"/>
<circle cx="297.9" cy="169.7" r="16.75" fill="#4a0000" stroke="none"/>
<circle cx="297.9" cy="169.7" r="15.55" fill="url(#gr)" stroke="#580000"/>
<circle cx="330.0" cy="169.7" r="16.75" fill="#4a0000" stroke="none"/>
<circle cx="330.0" cy="169.7" r="15.55" fill="url(#gr)" stroke="#580000"/>
<circle cx="362.1" cy="169.7" r="16.75" fill="#4a0000" stroke="none"/>
<circle cx="362.1" cy="169.7" r="15.55" fill="url(#gr)" stroke="#580000"/>
<rect x="185.5" y="179.2" width="192.6" height="13.0" fill="#4a0000"/>
<circle cx="185.5" cy="185.7" r="16.75" fill="#4a0000" stroke="none"/>
<circle cx="185.5" cy="185.7" r="15.55" fill="url(#gr)" stroke="#580000"/>
<circle cx="217.6" cy="185.7" r="16.75" fill="#4a0000" stroke="none"/>
<circle cx="217.6" cy="185.7" r="15.55" fill="url(#gr)" stroke="#580000"/>
<circle cx="249.7" cy="185.7" r="16.75" fill="#4a0000" stroke="none"/>
<circle cx="249.7" cy="185.7" r="15.55" fill="url(#gr)" stroke="#580000"/>
<circle cx="281.8" cy="185.7" r="16.75" fill="#4a0000" stroke="none"/>
<circle cx="281.8" cy="185.7" r="15.55" fill="url(#gr)" stroke="#580000"/>
<circle cx="313.9" cy="185.7" r="16.75" fill="#4a0000" stroke="none"/>
<circle cx="313.9" cy="185.7" r="15.55" fill="url(#gr)" stroke="#580000"/>
<circle cx="346.0" cy="185.7" r="16.75" fill="#4a0000" stroke="none"/>
<circle cx="346.0" cy="185.7" r="15.55" fill="url(#gr)" stroke="#580000"/>
<circle cx="378.1" cy="185.7" r="16.75" fill="#4a0000" stroke="none"/>
<circle cx="378.1" cy="185.7" r="15.55" fill="url(#gr)" stroke="#580000"/>
<rect x="201.5" y="195.2" width="192.6" height="13.0" fill="#4a0000"/>
<circle cx="201.5" cy="201.7" r="16.75" fill="#4a0000" stroke="none"/>
<circle cx="201.5" cy="201.7" r="15.55" fill="url(#gr)" stroke="#580000"/>
<circle cx="233.6" cy="201.7" r="16.75" fill="#4a0000" stroke="none"/>
<circle cx="233.6" cy="201.7" r="15.55" fill="url(#gr)" stroke="#580000"/>
<circle cx="265.7" cy="201.7" r="16.75" fill="#4a0000" stroke="none"/>
<circle cx="265.7" cy="201.7" r="15.55" fill="url(#gr)" stroke="#580000"/>
<circle cx="297.8" cy="201.7" r="16.75" fill="#4a0000" stroke="none"/>
<circle cx="297.8" cy="201.7" r="15.55" fill="url(#gr)" stroke="#580000"/>
<circle cx="329.9" cy="201.7" r="16.75" fill="#4a0000" stroke="none"/>
<circle cx="329.9" cy="201.7" r="15.55" fill="url(#gr)" stroke="#580000"/>
<circle cx="362.0" cy="201.7" r="16.75" fill="#4a0000" stroke="none"/>
<circle cx="362.0" cy="201.7" r="15.55" fill="url(#gr)" stroke="#580000"/>
<circle cx="394.1" cy="201.7" r="16.75" fill="#4a0000" stroke="none"/>
<circle cx="394.1" cy="201.7" r="15.55" fill="url(#gr)" stroke="#580000"/>
<rect x="217.5" y="211.2" width="192.6" height="13.0" fill="#4a0000"/>
<circle cx="217.5" cy="217.7" r="16.75" fill="#4a0000" stroke="none"/>
<circle cx="217.5" cy="217.7" r="15.55" fill="url(#gr)" stroke="#580000"/>
<circle cx="249.6" cy="217.7" r="16.75" fill="#4a0000" stroke="none"/>
<circle cx="249.6" cy="217.7" r="15.55" fill="url(#gr)" stroke="#580000"/>
<circle cx="281.7" cy="217.7" r="16.75" fill="#4a0000" stroke="none"/>
<circle cx="281.7" cy="217.7" r="15.55" fill="url(#gr)" stroke="#580000"/>
<circle cx="313.8" cy="217.7" r="16.75" fill="#4a0000" stroke="none"/>
<circle cx="313.8" cy="217.7" r="15.55" fill="url(#gr)" stroke="#580000"/>
<circle cx="345.9" cy="217.7" r="16.75" fill="#4a0000" stroke="none"/>
<circle cx="345.9" cy="217.7" r="15.55" fill="url(#gr)" stroke="#580000"/>
<circle cx="378.0" cy="217.7" r="16.75" fill="#4a0000" stroke="none"/>
<circle cx="378.0" cy="217.7" r="15.55" fill="url(#gr)" stroke="#580000"/>
<circle cx="410.1" cy="217.7" r="16.75" fill="#4a0000" stroke="none"/>
<circle cx="410.1" cy="217.7" r="15.55" fill="url(#gr)" stroke="#580000"/>
<rect x="233.5" y="227.2" width="192.6" height="13.0" fill="#4a0000"/>
<circle cx="233.5" cy="233.7" r="16.75" fill="#4a0000" stroke="none"/>
<circle cx="233.5" cy="233.7" r="15.55" fill="url(#gr)" stroke="#580000"/>
<circle cx="265.6" cy="233.7" r="16.75" fill="#4a0000" stroke="none"/>
<circle cx="265.6" cy="233.7" r="15.55" fill="url(#gr)" stroke="#580000"/>
<circle cx="297.7" cy="233.7" r="16.75" fill="#4a0000" stroke="none"/>
<circle cx="297.7" cy="233.7" r="15.55" fill="url(#gr)" stroke="#580000"/>
<circle cx="329.8" cy="233.7" r="16.75" fill="#4a0000" stroke="none"/>
<circle cx="329.8" cy="233.7" r="15.55" fill="url(#gr)" stroke="#580000"/>
<circle cx="361.9" cy="233.7" r="16.75" fill="#4a0000" stroke="none"/>
<circle cx="361.9" cy="233.7" r="15.55" fill="url(#gr)" stroke="#580000"/>
<circle cx="394.0" cy="233.7" r="16.75" fill="#4a0000" stroke="none"/>
<circle cx="394.0" cy="233.7" r="15.55" fill="url(#gr)" stroke="#580000"/>
<circle cx="426.1" cy="233.7" r="16.75" fill="#4a0000" stroke="none"/>
<circle cx="426.1" cy="233.7" r="15.55" fill="url(#gr)" stroke="#580000"/>
<rect x="249.5" y="243.2" width="192.6" height="13.0" fill="#4a0000"/>
<circle cx="249.5" cy="249.7" r="16.75" fill="#4a0000" stroke="none"/>
<circle cx="249.5" cy="249.7" r="15.55" fill="url(#gr)" stroke="#580000"/>
<circle cx="281.6" cy="249.7" r="16.75" fill="#4a0000" stroke="none"/>
<circle cx="281.6" cy="249.7" r="15.55" fill="url(#gr)" stroke="#580000"/>
<circle cx="313.7" cy="249.7" r="16.75" fill="#4a0000" stroke="none"/>
<circle cx="313.7" cy="249.7" r="15.55" fill="url(#gr)" stroke="#580000"/>
<circle cx="345.8" cy="249.7" r="16.75" fill="#4a0000" stroke="none"/>
<circle cx="345.8" cy="249.7" r="15.55" fill="url(#gr)" stroke="#580000"/>
<circle cx="377.9" cy="249.7" r="16.75" fill="#4a0000" stroke="none"/>
<circle cx="377.9" cy="249.7" r="15.55" fill="url(#gr)" stroke="#580000"/>
<circle cx="410.0" cy="249.7" r="16.75" fill="#4a0000" stroke="none"/>
<circle cx="410.0" cy="249.7" r="15.55" fill="url(#gr)" stroke="#580000"/>
<circle cx="442.1" cy="249.7" r="16.75" fill="#4a0000" stroke="none"/>
<circle cx="442.1" cy="249.7" r="15.55" fill="url(#gr)" stroke="#580000"/>
<rect x="265.5" y="259.2" width="192.6" height="13.0" fill="#4a0000"/>
<circle cx="265.5" cy="265.7" r="16.75" fill="#4a0000" stroke="none"/>
<circle cx="265.5" cy="265.7" r="15.55" fill="url(#gr)" stroke="#580000"/>
<circle cx="297.6" cy="265.7" r="16.75" fill="#4a0000" stroke="none"/>
<circle cx="297.6" cy="265.7" r="15.55" fill="url(#gr)" stroke="#580000"/>
<circle cx="329.7" cy="265.7" r="16.75" fill="#4a0000" stroke="none"/>
<circle cx="329.7" cy="265.7" r="15.55" fill="url(#gr)" stroke="#580000"/>
<circle cx="361.8" cy="265.7" r="16.75" fill="#4a0000" stroke="none"/>
<circle cx="361.8" cy="265.7" r="15.55" fill="url(#gr)" stroke="#580000"/>
<circle cx="393.9" cy="265.7" r="16.75" fill="#4a0000" stroke="none"/>
<circle cx="393.9" cy="265.7" r="15.55" fill="url(#gr)" stroke="#580000"/>
<circle cx="426.0" cy="265.7" r="16.75" fill="#4a0000" stroke="none"/>
<circle cx="426.0" cy="265.7" r="15.55" fill="url(#gr)" stroke="#580000"/>
<circle cx="458.1" cy="265.7" r="16.75" fill="#4a0000" stroke="none"/>
<circle cx="458.1" cy="265.7" r="15.55" fill="url(#gr)" stroke="#580000"/>
<rect x="281.5" y="275.2" width="192.6" height="13.0" fill="#4a0000"/>
<circle cx="281.5" cy="281.7" r="16.75" fill="#4a0000" stroke="none"/>
<circle cx="281.5" cy="281.7" r="15.55" fill="url(#gr)" stroke="#580000"/>
<circle cx="313.6" cy="281.7" r="16.75" fill="#4a0000" stroke="none"/>
<circle cx="313.6" cy="281.7" r="15.55" fill="url(#gr)" stroke="#580000"/>
<circle cx="345.7" cy="281.7" r="16.75" fill="#4a0000" stroke="none"/>
<circle cx="345.7" cy="281.7" r="15.55" fill="url(#gr)" stroke="#580000"/>
<circle cx="377.8" cy="281.7" r="16.75" fill="#4a0000" stroke="none"/>
<circle cx="377.8" cy="281.7" r="15.55" fill="url(#gr)" stroke="#580000"/>
<circle cx="409.9" cy="281.7" r="16.75" fill="#4a0000" stroke="none"/>
<circle cx="409.9" cy="281.7" r="15.55" fill="url(#gr)" stroke="#580000"/>
<circle cx="442.0" cy="281.7" r="16.75" fill="#4a0000" stroke="none"/>
<circle cx="442.0" cy="281.7" r="15.55" fill="url(#gr)" stroke="#580000"/>
<circle cx="474.1" cy="281.7" r="16.75" fill="#4a0000" stroke="none"/>
<circle cx="474.1" cy="281.7" r="15.55" fill="url(#gr)" stroke="#580000"/>
</g>
<!-- title -->
<circle cx="156.9" cy="61.9" r="5.9" fill="#f00000"/>
<g font-family="'Liberation Sans', sans-serif" font-weight="bold" font-size="33.3" fill="#000" stroke="#000" stroke-width="1.0">
<text x="178.5" y="71.5" textLength="160" lengthAdjust="spacing">Magnetic</text>
<text x="361.5" y="71.5" textLength="202" lengthAdjust="spacing">multilayers</text>
</g>
<!-- right block -->
<g font-family="'Liberation Sans', sans-serif" font-size="28.2" fill="#000" stroke="#000" stroke-width="0.35">
<text x="574.1" y="177.8" textLength="233.5" lengthAdjust="spacing">Magnetizations of</text>
<text x="549" y="210.8" textLength="289" lengthAdjust="spacing">Fe layers at zero field</text>
<text x="564.2" y="240.8" textLength="266" lengthAdjust="spacing">in Fe/Cr multilayers</text>
</g>
<!-- labels -->
<g font-family="'Liberation Sans', sans-serif" font-size="34.2">
<text transform="translate(520.26,314.9) scale(0.91,1)" fill="#e60000">F</text><text transform="translate(538.60,314.9) scale(0.947,1)" fill="#e60000">e</text>
<text transform="translate(520.50,386.3) scale(0.88,1)" fill="#3333c4">C</text><text transform="translate(542.10,386.3) scale(1.28,1)" fill="#3333c4">r</text>
<text transform="translate(520.26,464.9) scale(0.91,1)" fill="#e60000">F</text><text transform="translate(538.60,464.9) scale(0.947,1)" fill="#e60000">e</text>
<text transform="translate(520.50,525.3) scale(0.88,1)" fill="#3333c4">C</text><text transform="translate(542.10,525.3) scale(1.28,1)" fill="#3333c4">r</text>
<text transform="translate(521.26,590.0) scale(0.91,1)" fill="#e60000">F</text><text transform="translate(539.60,590.0) scale(0.947,1)" fill="#e60000">e</text>
</g>
<!-- arrows -->
<linearGradient id="a1" gradientUnits="userSpaceOnUse" x1="0" y1="283" x2="0" y2="304.8">
<stop offset="0" stop-color="#500000"/><stop offset="0.24" stop-color="#d80000"/><stop offset="0.45" stop-color="#ff0000"/><stop offset="0.62" stop-color="#f80000"/><stop offset="0.78" stop-color="#cc0000"/><stop offset="1" stop-color="#500000"/>
</linearGradient>
<linearGradient id="a3" gradientUnits="userSpaceOnUse" x1="0" y1="573.5" x2="0" y2="595.8">
<stop offset="0" stop-color="#500000"/><stop offset="0.24" stop-color="#d80000"/><stop offset="0.45" stop-color="#ff0000"/><stop offset="0.62" stop-color="#f80000"/><stop offset="0.78" stop-color="#cc0000"/><stop offset="1" stop-color="#500000"/>
</linearGradient>
<linearGradient id="a2" gradientUnits="userSpaceOnUse" x1="0" y1="433.5" x2="0" y2="456.3">
<stop offset="0" stop-color="#500000"/><stop offset="0.24" stop-color="#d80000"/><stop offset="0.45" stop-color="#ff0000"/><stop offset="0.62" stop-color="#f80000"/><stop offset="0.78" stop-color="#cc0000"/><stop offset="1" stop-color="#500000"/>
</linearGradient>
<path d="M641.7,288.2 L732.8,288.2 L732.8,283 L762.2,293.9 L732.8,304.8 L732.8,299.7 L641.7,299.7 Z" fill="url(#a1)"/>
<path d="M641.7,579.2 L732.8,579.2 L732.8,573.5 L762.2,584.7 L732.8,595.8 L732.8,590.4 L641.7,590.4 Z" fill="url(#a3)"/>
<path d="M763,439.3 L671.8,439.3 L671.8,433.5 L642.2,444.9 L671.8,456.3 L671.8,450.6 L763,450.6 Z" fill="url(#a2)"/>
<!-- bottom -->
<g transform="translate(0,670.8) scale(1,1.06) translate(0,-670.8)">
<text x="143.3" y="670.8" font-family="'Liberation Sans', sans-serif" font-weight="bold" font-size="26.8" textLength="228" lengthAdjust="spacing">P. Grünberg, 1986</text>
<text x="419.3" y="670.8" font-family="'Liberation Sans', sans-serif" font-weight="bold" font-size="26.8" textLength="470" lengthAdjust="spacing">antiferromagnetic interlayer coupling</text>
</g>
<line x1="379" y1="664.5" x2="402" y2="664.5" stroke="#000" stroke-width="1.3"/><polygon points="394.8,657.6 397.6,657.6 405,664.5 397.6,671.4 394.8,671.4 401.6,664.5" fill="#000"/>
</svg>
</body></html>
